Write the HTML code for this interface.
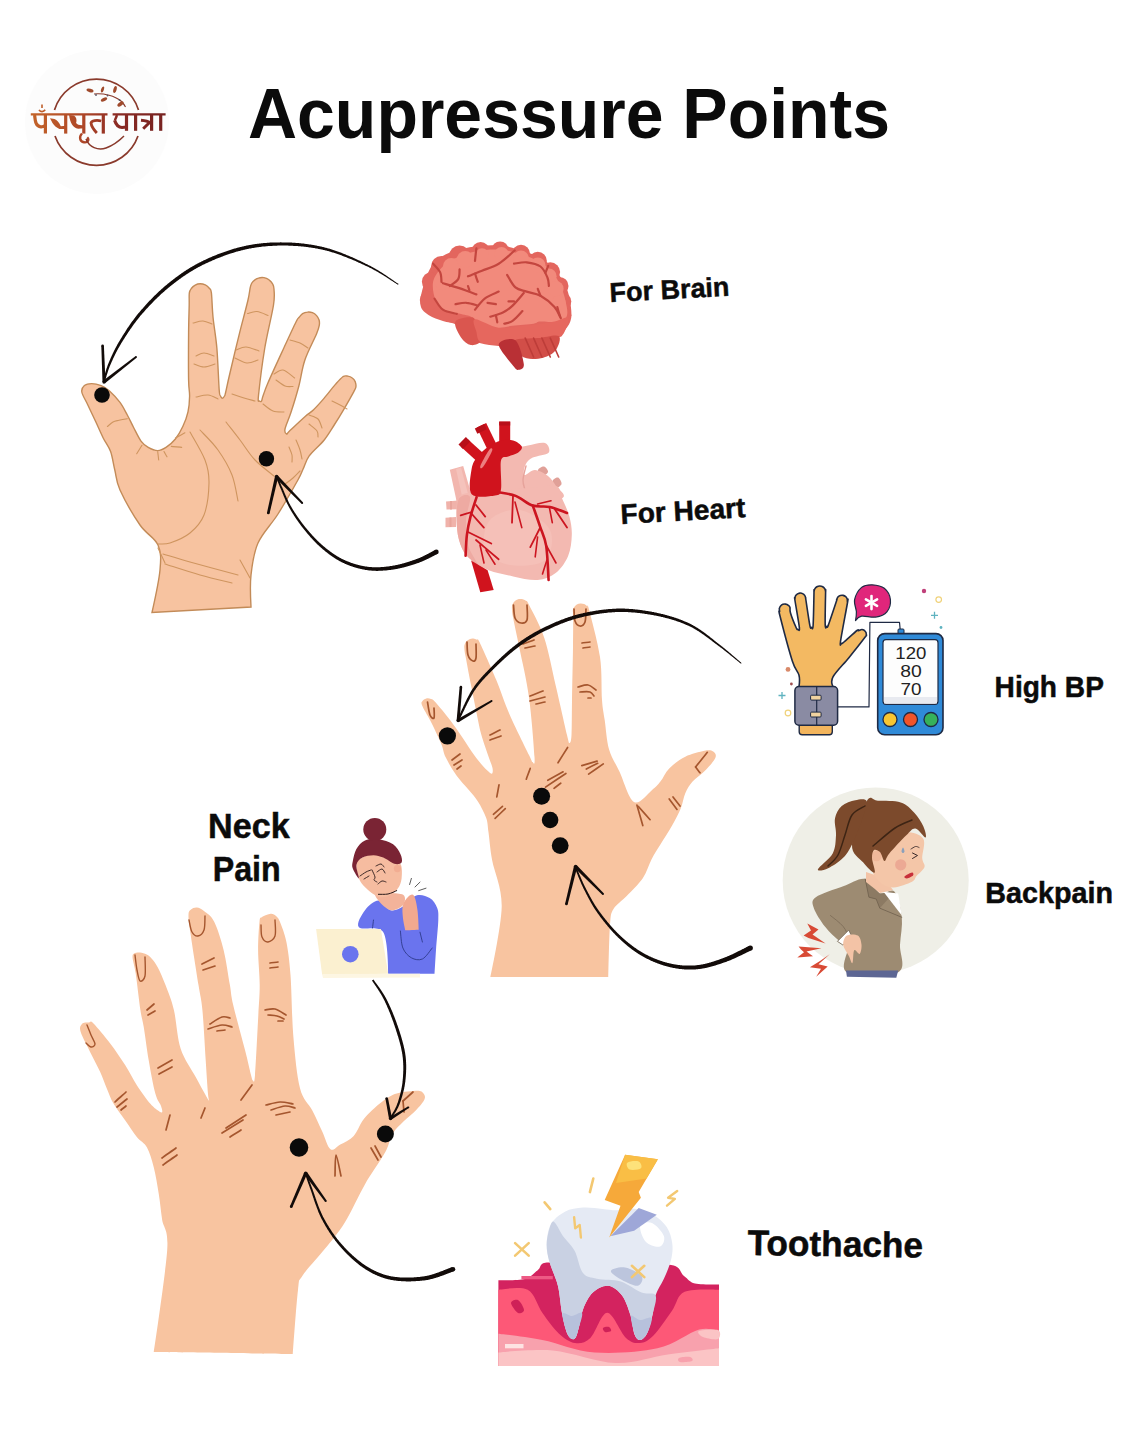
<!DOCTYPE html>
<html><head><meta charset="utf-8"><title>Acupressure Points</title>
<style>
html,body{margin:0;padding:0;background:#fff;}
body{width:1147px;height:1433px;overflow:hidden;font-family:"Liberation Sans",sans-serif;}
svg{display:block;}
</style></head><body>
<svg width="1147" height="1433" viewBox="0 0 1147 1433">
<circle cx="97" cy="122" r="72" fill="#fcfcfc"/><defs><linearGradient id="lg" gradientUnits="userSpaceOnUse" x1="30" x2="166" y1="0" y2="0"><stop offset="0" stop-color="#c4652a"/><stop offset="0.4" stop-color="#ad4527"/><stop offset="0.65" stop-color="#8a2a24"/><stop offset="1" stop-color="#762220"/></linearGradient></defs><path d="M54.5,110 A44,44 0 0 1 138.5,110" fill="none" stroke="#8a3a2c" stroke-width="1.7"/><path d="M55,136 A44,44 0 0 0 138,136" fill="none" stroke="#8a3a2c" stroke-width="1.7"/><g fill="none" stroke="url(#lg)" stroke-width="3.2" stroke-linecap="butt" stroke-linejoin="round"><path d="M30.8,114.4 H107.5 M112.6,114.4 H165.6" stroke-width="2.4"/><path d="M34.6,115 C35.2,121 35.6,126.5 40.8,126.8 C43,127 44.5,126 45.4,125 M45.4,115 V133.6"/><path d="M39,109.8 C40.5,112.2 43.6,112.2 45.2,109.8" stroke-width="1.6"/><path d="M42,104.6 V108" stroke-width="1.6"/><path d="M50,118.2 L54.5,118.9 C57,120 59,122 60.8,126.3 L65.7,125.8 V128.9 L59.4,128.9 C56.5,127.8 54,125.5 52.5,123 Z" fill="url(#lg)" stroke="none"/><path d="M65.7,115 V133.6"/><path d="M69.1,115.1 L74,115.4 C76.5,117 77,120 76.1,123.1 C77.5,125 80,125.5 83.8,125.2 V128.2 L78.2,128.7 C75.5,128.2 73.3,126.8 72,124.5 C70.5,122 69.5,119 69.1,115.1 Z" fill="url(#lg)" stroke="none"/><path d="M83.8,115 V133.6"/><path d="M82,133.5 C79,136.5 79.5,141.5 84,142.3 C88,143 89.5,139.5 87.2,137.3" stroke-width="2.4"/><path d="M101.2,121 C97,119.8 91.5,120.5 91,123 C91.5,127 94.5,130.5 96.8,133" stroke-width="2.8"/><path d="M103.3,115 V133.6"/><path d="M114.6,120.3 C116.2,125.5 118.5,127.5 122,127.5 L126.5,127" stroke-width="3.2"/><path d="M117,115 C116,118 115.5,119.5 114.6,120.3" stroke-width="2.4"/><path d="M126.5,115 V130.8"/><path d="M135.6,115 V130.8"/><path d="M141,120.3 C144,120.6 148,121.2 149.5,122.5 L143.2,128.7" stroke-width="3"/><path d="M151.6,115 V130.8"/><path d="M160.7,115 V130.8"/></g><path d="M86,139 C89,147 98,151 106,148 C113,145.5 119,141 124,136" fill="none" stroke="#8a3a2c" stroke-width="1.5"/><path d="M94,94 C104,93 115,96 121,101 C123,103 124.5,105 125.5,107" fill="none" stroke="#8a3a2c" stroke-width="1.1"/><ellipse cx="90" cy="90.5" rx="3.6" ry="1.7" transform="rotate(15 90 90.5)" fill="#a04a2c"/><ellipse cx="102.5" cy="89.5" rx="3.2" ry="1.4" transform="rotate(-70 102.5 89.5)" fill="#a04a2c"/><ellipse cx="104" cy="99.5" rx="3.4" ry="1.6" transform="rotate(-25 104 99.5)" fill="#a04a2c"/><ellipse cx="115" cy="89.5" rx="3.6" ry="1.6" transform="rotate(-75 115 89.5)" fill="#a04a2c"/><ellipse cx="120.5" cy="104" rx="3.6" ry="1.8" transform="rotate(-35 120.5 104)" fill="#a04a2c"/><circle cx="96" cy="95" r="0.9" fill="#556"/><circle cx="107.5" cy="95.5" r="0.9" fill="#556"/><circle cx="119.5" cy="100" r="0.9" fill="#556"/><g font-family="Liberation Sans, sans-serif" fill="#0b0b0b"><text x="248" y="138" font-size="71" font-weight="bold" textLength="642" lengthAdjust="spacingAndGlyphs">Acupressure Points</text><text x="610" y="302" font-size="27" font-weight="bold" textLength="120" lengthAdjust="spacingAndGlyphs" transform="rotate(-3 610 302)" stroke="#0b0b0b" stroke-width="0.5">For Brain</text><text x="621" y="524" font-size="28" font-weight="bold" textLength="125" lengthAdjust="spacingAndGlyphs" transform="rotate(-3.2 621 524)" stroke="#0b0b0b" stroke-width="0.5">For Heart</text><text x="994.6" y="696.6" font-size="30" font-weight="bold" textLength="109.3" lengthAdjust="spacingAndGlyphs" stroke="#0b0b0b" stroke-width="0.5">High BP</text><text x="985.3" y="903.2" font-size="29.4" font-weight="bold" textLength="127.7" lengthAdjust="spacingAndGlyphs" stroke="#0b0b0b" stroke-width="0.5">Backpain</text><text x="208" y="838" font-size="34.5" font-weight="bold" textLength="81.7" lengthAdjust="spacingAndGlyphs" stroke="#0b0b0b" stroke-width="0.5">Neck</text><text x="212.7" y="881" font-size="35" font-weight="bold" textLength="68" lengthAdjust="spacingAndGlyphs" stroke="#0b0b0b" stroke-width="0.5">Pain</text><text x="747.4" y="1255" font-size="35.5" font-weight="bold" textLength="175.6" lengthAdjust="spacingAndGlyphs" transform="rotate(0.8 747.4 1255)" stroke="#0b0b0b" stroke-width="0.5">Toothache</text></g><path d="M81.8,392 C81.3,388.8 82.8,386.9 84.4,385.5 C86.1,384.1 88.9,383.6 91.7,383.6 C94.5,383.6 98.2,384.5 101.2,385.7 C104.2,386.9 106.4,388.2 109.5,391 C112.6,393.8 117,398.4 120,402.4 C123,406.4 125,410.8 127.3,415 C129.6,419.2 131.3,423.1 133.6,427.5 C135.9,431.9 138.6,437.8 141,441.1 C143.4,444.4 145.4,445.8 148.2,447.4 C151,449 154.7,450.6 157.7,450.6 C160.7,450.6 163.1,449.3 166,447.4 C168.9,445.5 172.6,442.5 175.4,439 C178.2,435.5 180.7,431 182.8,426.5 C184.9,422 186.9,416.9 188,411.8 C189.1,406.8 189.5,401.5 189.6,396.2 C189.7,390.9 188.8,390.5 188.6,379.9 C188.4,369.3 188.5,345.3 188.6,332.8 C188.7,320.3 189.1,311.6 189.2,305 C189.3,298.4 189,296 189.3,293.2 C189.7,290.5 190.3,289.8 191.3,288.5 C192.3,287.1 193.7,285.9 195.2,285.1 C196.7,284.3 198.5,283.8 200.2,283.8 C201.9,283.8 203.7,284.2 205.3,284.9 C206.8,285.6 208.2,286.8 209.3,288.2 C210.3,289.5 210.8,288.1 211.4,292.9 C212,297.7 212.1,307.7 213,317 C213.9,326.3 215.9,336.3 216.9,348.5 C217.9,360.7 218.6,382.1 219.2,390 C219.8,397.9 220,394.6 220.5,396 C221,397.4 221.7,398.2 222.4,398.2 C223.1,398.2 224,396.9 224.5,396 C225,395.1 224.6,397 225.5,393 C226.4,389 227.8,382 230.2,372 C232.5,362 236.6,344.8 239.6,332.8 C242.6,320.8 246.2,307.9 248,300 C249.8,292.1 249.7,288.8 250.7,285.6 C251.6,282.4 252.3,282.2 253.6,280.9 C254.9,279.7 256.6,278.6 258.4,278.1 C260.1,277.5 262.1,277.4 263.9,277.6 C265.7,277.9 267.5,278.7 269,279.8 C270.5,280.8 271.8,282.3 272.6,283.9 C273.5,285.5 273.9,285.8 274,289.3 C274.1,292.8 275,295.1 273.5,305 C272,314.9 267.2,333.4 264.7,348.5 C262.2,363.6 259.4,386.8 258.5,395.5 C257.6,404.2 259,400.1 259.5,401 C260,401.9 260.9,401.8 261.5,401 C262.1,400.2 261.9,399 263,396 C264.1,393 264.5,390.9 267.9,383 C271.3,375.1 278.9,358.7 283.6,348.5 C288.3,338.3 293.4,327.2 296,322 C298.6,316.8 298,318.7 299.1,317.3 C300.2,316 301.2,314.6 302.6,313.7 C304,312.8 305.8,312.2 307.4,312.1 C309.1,311.9 310.9,312.1 312.4,312.7 C314,313.3 315.5,314.4 316.6,315.6 C317.7,316.8 318.6,318.4 319.1,320 C319.5,321.6 319.7,322.8 319.3,325.1 C318.9,327.4 318.9,328.2 316.5,334 C314.1,339.8 307.8,351.3 304.9,360 C301.9,368.7 301.1,377.5 298.8,386.2 C296.5,394.9 293.3,405.2 291,412.3 C288.7,419.4 285.7,425.4 285,429 C284.3,432.6 285.9,433.8 286.6,434.1 C287.4,434.4 286.4,433.9 289.5,431 C292.6,428.1 300.9,420.2 304.9,416.7 C308.9,413.1 310.4,412.8 313.6,409.7 C316.8,406.6 320.4,402.6 324,398.4 C327.6,394.2 332.2,388 335.4,384.4 C338.6,380.8 340.9,378.1 342.9,376.7 C345,375.3 346.3,375.9 347.8,376.1 C349.4,376.3 351.1,377 352.3,378 C353.6,379 354.7,380.5 355.3,381.9 C355.9,383.4 356.1,385.3 355.9,386.8 C355.7,388.4 356,387.7 354,391.3 C352,395 347.3,403.3 344.1,408.8 C340.9,414.3 337.9,419.3 334.5,424.5 C331.1,429.7 328.2,435 324,440.2 C319.8,445.4 312.7,451.1 309.2,455.9 C305.7,460.7 305,465 303.1,469 C301.2,473 302.1,472.5 297.9,480 C293.7,487.5 284.6,503.5 278,514 C271.4,524.5 262.5,532.8 258,543 C253.5,553.2 252.2,564.3 251,575 C249.8,585.7 251,607 251,607 C251,607 152,612.5 152,612.5 C152,612.5 159,581.2 160,570 C161,558.8 161.3,552.5 158,545 C154.7,537.5 146.3,534.2 140,525 C133.7,515.8 124.2,499.2 120,490 C115.8,480.8 116.4,476.4 114.8,470 C113.2,463.6 112.5,456.9 110.6,451.6 C108.7,446.3 105.6,442.9 103.2,438 C100.8,433.1 98.6,427.9 96,422.3 C93.4,416.7 90,409.6 87.6,404.5 C85.2,399.4 82.3,395.2 81.8,392Z" fill="#f7c3a0" stroke="#c38b58" stroke-width="1.4"/><path d="M190,432 C192.5,436.7 201.8,451.5 205,460 C208.2,468.5 209.2,473.8 209,483 C208.8,492.2 207.2,506.7 204,515 C200.8,523.3 195.7,528.3 190,533 C184.3,537.7 175.3,541.2 170,543 C164.7,544.8 160,543.8 158,544" fill="none" stroke="#cf955f" stroke-width="1.1" stroke-linecap="round"/><path d="M200,430 C203,433.3 212.7,442.5 218,450 C223.3,457.5 228.7,466.5 232,475 C235.3,483.5 237,496.7 238,501" fill="none" stroke="#cf955f" stroke-width="1.1" stroke-linecap="round"/><path d="M226,422 C228.3,425 235.2,433.7 240,440 C244.8,446.3 249.3,454 255,460 C260.7,466 270.8,473.3 274,476" fill="none" stroke="#cf955f" stroke-width="1.1" stroke-linecap="round"/><path d="M163,554 C167.5,555.3 177.5,558.5 190,562 C202.5,565.5 230,572.8 238,575" fill="none" stroke="#cf955f" stroke-width="1.1" stroke-linecap="round"/><path d="M165,564 C170.8,565.8 188.8,571.8 200,575 C211.2,578.2 226.7,581.7 232,583" fill="none" stroke="#cf955f" stroke-width="1.1" stroke-linecap="round"/><path d="M107.4,426.5 C108.3,425.8 111.1,423.1 113,422 C114.9,420.9 116.6,420.8 119,420.2 C121.4,419.6 125.9,418.9 127.3,418.7" fill="none" stroke="#cf955f" stroke-width="1.1" stroke-linecap="round"/><path d="M193,323 C194.7,322.7 199.8,320.8 203,321 C206.2,321.2 210.5,323.5 212,324" fill="none" stroke="#cf955f" stroke-width="1.1" stroke-linecap="round"/><path d="M196,356 C197.3,355.5 201,353 204,353 C207,353 212.3,355.5 214,356" fill="none" stroke="#cf955f" stroke-width="1.1" stroke-linecap="round"/><path d="M194,364 C195.7,364.5 200.5,367 204,367 C207.5,367 213.2,364.5 215,364" fill="none" stroke="#cf955f" stroke-width="1.1" stroke-linecap="round"/><path d="M196,397 C198,396.7 204.3,394.7 208,395 C211.7,395.3 216.3,398.3 218,399" fill="none" stroke="#cf955f" stroke-width="1.1" stroke-linecap="round"/><path d="M247.5,313.5 C249.1,313.2 253.6,311.2 257,311.5 C260.4,311.8 266.2,314.8 268,315.5" fill="none" stroke="#cf955f" stroke-width="1.1" stroke-linecap="round"/><path d="M236,350 C237.7,349.5 242.2,346.8 246,347 C249.8,347.2 256.8,350.3 259,351" fill="none" stroke="#cf955f" stroke-width="1.1" stroke-linecap="round"/><path d="M235,358 C237,358.8 243.2,362.7 247,363 C250.8,363.3 256.2,360.5 258,360" fill="none" stroke="#cf955f" stroke-width="1.1" stroke-linecap="round"/><path d="M232,394 C234,394.7 240.2,396.8 244,398 C247.8,399.2 253.2,400.5 255,401" fill="none" stroke="#cf955f" stroke-width="1.1" stroke-linecap="round"/><path d="M290,340 C291.7,340.5 297,341.7 300,343 C303,344.3 306.7,347.2 308,348" fill="none" stroke="#cf955f" stroke-width="1.1" stroke-linecap="round"/><path d="M274,374 C275.5,373.3 279.6,369.3 283,370 C286.4,370.7 292.7,376.7 294.6,378" fill="none" stroke="#cf955f" stroke-width="1.1" stroke-linecap="round"/><path d="M276,380 C277.5,381 282.2,384.9 285,386 C287.8,387.1 291.7,386.4 293,386.5" fill="none" stroke="#cf955f" stroke-width="1.1" stroke-linecap="round"/><path d="M263,404 C264.7,405.2 269.5,409.7 273,411 C276.5,412.3 282.2,411.8 284,412" fill="none" stroke="#cf955f" stroke-width="1.1" stroke-linecap="round"/><path d="M332,401 C333.7,401.8 339.5,404.7 342,406 C344.5,407.3 346.2,408.5 347,409" fill="none" stroke="#cf955f" stroke-width="1.1" stroke-linecap="round"/><path d="M309,415 C310.5,415.7 315.8,416.8 318,419 C320.2,421.2 321.3,426.5 322,428" fill="none" stroke="#cf955f" stroke-width="1.1" stroke-linecap="round"/><path d="M309,424 C310.3,425.2 315.5,428.8 317,431 C318.5,433.2 317.8,436 318,437" fill="none" stroke="#cf955f" stroke-width="1.1" stroke-linecap="round"/><path d="M296,440 C296.7,441.7 299,446.8 300,450 C301,453.2 301.7,457.5 302,459" fill="none" stroke="#cf955f" stroke-width="1.1" stroke-linecap="round"/><path d="M289,447 C289.5,448.3 291.5,452.5 292,455 C292.5,457.5 292,460.8 292,462" fill="none" stroke="#cf955f" stroke-width="1.1" stroke-linecap="round"/><path d="M136.7,453.7 C137.6,452.3 141.1,446.7 142,445.3" fill="none" stroke="#cf955f" stroke-width="1.1" stroke-linecap="round"/><path d="M164,451.6 C164.5,452.5 166.5,455.9 167,456.8" fill="none" stroke="#cf955f" stroke-width="1.1" stroke-linecap="round"/><path d="M171.3,446.4 C173,446.6 180,447.2 181.7,447.4" fill="none" stroke="#cf955f" stroke-width="1.1" stroke-linecap="round"/><path d="M175.4,438 C177,437.1 183.3,433.7 184.9,432.8" fill="none" stroke="#cf955f" stroke-width="1.1" stroke-linecap="round"/><path d="M157.7,451.6 C157.9,453 158.5,458.6 158.7,460" fill="none" stroke="#cf955f" stroke-width="1.1" stroke-linecap="round"/><path d="M165,563 C163.8,560.5 159.2,550.5 158,548" fill="none" stroke="#cf955f" stroke-width="1.1" stroke-linecap="round"/><path d="M240,560 C241.7,563 248.3,575 250,578" fill="none" stroke="#cf955f" stroke-width="1.1" stroke-linecap="round"/><path d="M285,484 C286.3,483 290.5,480.2 293,478 C295.5,475.8 298.8,472.2 300,471" fill="none" stroke="#cf955f" stroke-width="1.1" stroke-linecap="round"/><path d="M422.1,705.4 C420.8,702.1 421.7,702.2 422.5,701 C423.3,699.8 425.5,698.6 426.9,698.3 C428.3,698 429.8,698.6 431,699 C432.2,699.4 432.1,698.8 434,700.7 C435.9,702.6 439.5,706.9 442.3,710.2 C445.1,713.6 447.2,716.3 450.6,720.8 C454,725.3 458.4,731.7 462.4,737.4 C466.3,743.1 470.7,750.2 474.3,755.2 C477.9,760.2 481.4,764.3 483.8,767.1 C486.2,769.9 487.6,770.9 489,772 C490.4,773.1 491.5,774.2 492.1,773.5 C492.7,772.8 493.1,770.9 492.5,768 C491.9,765.1 490.4,761.9 488.5,756.4 C486.6,750.9 483.4,742.1 481.4,735 C479.4,727.9 478.4,722 476.7,713.7 C475,705.4 472.9,694.6 471,685 C469.1,675.4 466.6,662 465.5,656 C464.4,650 464.6,650.6 464.4,648.7 C464.2,646.9 464.2,646.1 464.5,644.9 C464.8,643.7 465.5,642.4 466.3,641.5 C467.1,640.5 468.3,639.7 469.5,639.2 C470.6,638.7 472,638.5 473.3,638.6 C474.5,638.7 475.9,639.2 477,639.8 C478,640.5 476.5,635.9 479.7,642.5 C482.9,649.2 491.3,668 496.3,680 C501.3,692 504.2,702.2 509.7,714.7 C515.1,727.2 525.2,747.1 529,755 C532.8,762.9 531.6,761.7 532.5,762 C533.4,762.3 535.1,767.8 534.5,757 C533.9,746.2 531.5,715.6 529,697.4 C526.5,679.1 522,660.9 519.3,647.5 C516.6,634.1 514.2,623.6 513,617 C511.8,610.4 512,610.1 511.9,607.9 C511.9,605.7 512.2,605.2 512.7,604 C513.2,602.8 514.1,601.6 515.2,600.8 C516.2,600 517.5,599.4 518.8,599.1 C520.1,598.8 521.5,598.9 522.8,599.2 C524.1,599.5 525.4,600.2 526.3,601.1 C527.3,601.9 525.7,598.2 528.7,604.3 C531.7,610.5 539.8,624.4 544.3,638 C548.8,651.6 552,669.8 555.8,686 C559.6,702.2 564.7,725.5 567,735 C569.3,744.5 568.8,743 569.5,743 C570.2,743 571.1,742.2 571.5,735 C571.9,727.8 571.8,714.6 572,700 C572.2,685.4 572.8,661.3 573,647.5 C573.2,633.7 573.2,623.1 573.2,617 C573.2,610.9 572.7,612.4 572.8,610.7 C573,609.1 573.4,608.2 574.1,607.2 C574.8,606.1 575.8,605.2 576.8,604.5 C577.9,603.9 579.2,603.5 580.4,603.4 C581.7,603.3 583,603.6 584.2,604 C585.3,604.5 586.4,605.3 587.2,606.3 C588,607.2 586.8,601.2 589,609.6 C591.1,618.1 597.8,641.9 600,657 C602.2,672.1 601.2,689.5 602,700 C602.8,710.5 603.5,711.8 604.7,720 C605.9,728.2 606.6,740.8 609,749.3 C611.4,757.8 615.1,762.5 619.3,771.3 C623.5,780.1 628.6,798.8 634,802 C639.4,805.2 647.2,793.8 651.6,790.4 C656,787 657.5,785.3 660.4,781.6 C663.3,777.9 665.1,772.5 669.2,768.4 C673.4,764.2 679.4,759.6 685.3,756.7 C691.2,753.8 699.8,751.7 704.4,750.8 C709,749.9 711.4,750.3 713.2,751.5 C715,752.7 716.8,754.8 715.3,758.1 C713.8,761.4 708.2,767.4 704.4,771.3 C700.6,775.2 695.8,777.9 692.6,781.6 C689.4,785.3 687.2,788.9 685.3,793.3 C683.3,797.7 683.1,802.6 680.9,808 C678.7,813.4 675.5,819.5 672.1,825.6 C668.7,831.7 663.8,839 660.4,844.6 C657,850.2 654.5,853.7 651.6,859.3 C648.7,864.9 646.9,872.2 642.8,878.3 C638.6,884.4 631.6,890.9 626.7,896 C621.8,901.1 616.3,904.3 613.5,909.1 C610.7,913.9 610.9,913.7 610,925 C609.1,936.3 608.3,977 608.3,977 C608.3,977 490.4,977 490.4,977 C490.4,977 501.4,926.3 501.7,906.8 C502,887.3 494.3,872.4 492.1,860 C489.9,847.6 489.5,839.3 488.5,832.3 C487.5,825.3 488,823.2 486.2,818.1 C484.4,813 480.9,806.2 477.9,801.5 C474.9,796.8 472,794 468.4,789.6 C464.8,785.2 460.3,780.7 456.5,775.4 C452.7,770.1 448.4,762.9 445.8,757.6 C443.2,752.3 443.7,749.5 441.1,743.4 C438.5,737.3 433.6,727.1 430.4,720.8 C427.2,714.5 423.4,708.7 422.1,705.4Z" fill="#f8c4a0"/><path d="M427.5,702 C427.9,704.2 428.9,712.3 430,715 C431.1,717.7 433.3,719.2 434,718 C434.7,716.8 434,709.7 434,708" fill="none" stroke="#a5562e" stroke-width="1.7" stroke-linecap="round"/><path d="M467,642 C467.2,644.2 467,651.8 468,655 C469,658.2 471.7,660.5 473,661 C474.3,661.5 475.5,660.8 476,658 C476.5,655.2 476,646.3 476,644" fill="none" stroke="#a5562e" stroke-width="1.7" stroke-linecap="round"/><path d="M513.5,605 C513.8,607.2 513.8,615 515,618 C516.2,621 519,622.7 521,623 C523,623.3 526,623 527,620 C528,617 527,607.5 527,605" fill="none" stroke="#a5562e" stroke-width="1.7" stroke-linecap="round"/><path d="M574,609 C574.2,611 574,618.2 575,621 C576,623.8 578.3,625.8 580,626 C581.7,626.2 584,624.8 585,622 C586,619.2 585.8,611.2 586,609" fill="none" stroke="#a5562e" stroke-width="1.7" stroke-linecap="round"/><path d="M523,644 C524.8,643.3 532.2,640.7 534,640" fill="none" stroke="#a5562e" stroke-width="1.7" stroke-linecap="round"/><path d="M525,648 C526.7,647.7 533.3,646.3 535,646" fill="none" stroke="#a5562e" stroke-width="1.7" stroke-linecap="round"/><path d="M582,643 C583.3,642.8 588.7,642.2 590,642" fill="none" stroke="#a5562e" stroke-width="1.7" stroke-linecap="round"/><path d="M583,648 C584.2,647.8 588.8,647.2 590,647" fill="none" stroke="#a5562e" stroke-width="1.7" stroke-linecap="round"/><path d="M578,687 C579.7,686.7 585,684.5 588,685 C591,685.5 594.7,689.2 596,690" fill="none" stroke="#a5562e" stroke-width="1.7" stroke-linecap="round"/><path d="M580,692 C581.7,692 587.7,691.3 590,692 C592.3,692.7 593.3,695.3 594,696" fill="none" stroke="#a5562e" stroke-width="1.7" stroke-linecap="round"/><path d="M588,698 C588.5,698 590.5,698 591,698" fill="none" stroke="#a5562e" stroke-width="1.7" stroke-linecap="round"/><path d="M530,696 C532.2,695.2 540.8,691.8 543,691" fill="none" stroke="#a5562e" stroke-width="1.7" stroke-linecap="round"/><path d="M530,701 C532.5,700.3 542.5,697.7 545,697" fill="none" stroke="#a5562e" stroke-width="1.7" stroke-linecap="round"/><path d="M536,704 C537.5,703.7 543.5,702.3 545,702" fill="none" stroke="#a5562e" stroke-width="1.7" stroke-linecap="round"/><path d="M490,735 C491.7,734.2 498.3,730.8 500,730" fill="none" stroke="#a5562e" stroke-width="1.7" stroke-linecap="round"/><path d="M490,740 C491.8,739.3 499.2,736.7 501,736" fill="none" stroke="#a5562e" stroke-width="1.7" stroke-linecap="round"/><path d="M452,760 C453.3,759 458.7,755 460,754" fill="none" stroke="#a5562e" stroke-width="1.7" stroke-linecap="round"/><path d="M454,765 C455.3,764.2 460.7,760.8 462,760" fill="none" stroke="#a5562e" stroke-width="1.7" stroke-linecap="round"/><path d="M457,769 C457.7,768.5 460.3,766.5 461,766" fill="none" stroke="#a5562e" stroke-width="1.7" stroke-linecap="round"/><path d="M558,762.8 C559.6,760.2 566,750 567.6,747.5" fill="none" stroke="#a5562e" stroke-width="1.7" stroke-linecap="round"/><path d="M581.8,765.6 C584.3,764.9 594.5,761.9 597.1,761.1" fill="none" stroke="#a5562e" stroke-width="1.7" stroke-linecap="round"/><path d="M586.3,769 C588.2,768 595.8,764.2 597.7,763.3" fill="none" stroke="#a5562e" stroke-width="1.7" stroke-linecap="round"/><path d="M588.6,774.1 C591,772.4 600.8,765.6 603.3,763.9" fill="none" stroke="#a5562e" stroke-width="1.7" stroke-linecap="round"/><path d="M547.8,780.3 C550.3,778.9 560.5,773.2 563.1,771.8" fill="none" stroke="#a5562e" stroke-width="1.7" stroke-linecap="round"/><path d="M545.5,787.1 C548.9,784.8 562.5,775.8 565.9,773.5" fill="none" stroke="#a5562e" stroke-width="1.7" stroke-linecap="round"/><path d="M554,788.3 C555.1,787.4 559.7,784.1 560.8,783.2" fill="none" stroke="#a5562e" stroke-width="1.7" stroke-linecap="round"/><path d="M526.3,779.2 C526.9,777.4 529.6,770.2 530.2,768.4" fill="none" stroke="#a5562e" stroke-width="1.7" stroke-linecap="round"/><path d="M496.8,796.8 C497.2,794.8 498.6,786.9 499,784.9" fill="none" stroke="#a5562e" stroke-width="1.7" stroke-linecap="round"/><path d="M493.4,814.3 C494.9,813 501,807.7 502.5,806.4" fill="none" stroke="#a5562e" stroke-width="1.7" stroke-linecap="round"/><path d="M495.1,818.3 C496.8,816.7 503.6,810.3 505.3,808.7" fill="none" stroke="#a5562e" stroke-width="1.7" stroke-linecap="round"/><path d="M636.9,805 C637.9,808.4 641.8,822.2 642.8,825.6" fill="none" stroke="#a5562e" stroke-width="1.7" stroke-linecap="round"/><path d="M638.4,806.5 C640.4,808.7 648.1,817.5 650.1,819.7" fill="none" stroke="#a5562e" stroke-width="1.7" stroke-linecap="round"/><path d="M669.2,799 C670.5,800.7 675.7,807.7 677,809.4" fill="none" stroke="#a5562e" stroke-width="1.7" stroke-linecap="round"/><path d="M673,797 C674.2,798.5 678.8,804.5 680,806" fill="none" stroke="#a5562e" stroke-width="1.7" stroke-linecap="round"/><path d="M707.3,752.3 C705.3,754.8 697.5,764.5 695.6,767" fill="none" stroke="#a5562e" stroke-width="1.7" stroke-linecap="round"/><path d="M695.6,767 C696.3,768 699.3,771.8 700,772.8" fill="none" stroke="#a5562e" stroke-width="1.7" stroke-linecap="round"/><path d="M80,1028.4 C79.9,1026.3 81.2,1025 82,1024 C82.8,1023 83.9,1022.9 85.1,1022.6 C86.3,1022.4 87.6,1022.4 89,1022.5 C90.4,1022.6 90,1019.9 93.5,1023.4 C97,1026.9 104.9,1036.5 110.2,1043.5 C115.5,1050.5 120.8,1058.3 125.3,1065.3 C129.8,1072.3 132.8,1079 137,1085.4 C141.2,1091.8 146.9,1099.6 150.4,1103.8 C153.9,1108 156.1,1109.1 158,1110.5 C159.9,1111.9 161.6,1113 162.1,1112.2 C162.6,1111.5 162.1,1109.1 161,1106 C159.9,1102.9 157.5,1101.4 155.4,1093.8 C153.3,1086.2 150.6,1071.5 148.7,1060.3 C146.8,1049.1 145.1,1035.2 143.7,1026.8 C142.3,1018.4 141.7,1018.9 140.4,1010 C139.1,1001.1 137,982.2 135.7,973.5 C134.4,964.8 132.9,961.3 132.6,958 C132.3,954.7 132.9,954.4 134.1,953.5 C135.3,952.6 137.9,952.3 140,952.5 C142.1,952.7 144.7,953.5 146.7,954.6 C148.7,955.7 150.2,956.9 152,959 C153.8,961.1 155.4,962.9 157.7,967.2 C159.9,971.5 162.8,977.9 165.5,985 C168.2,992.1 171.4,999.4 173.9,1010 C176.4,1020.6 177,1037.3 180.6,1048.5 C184.2,1059.7 191.6,1069.4 195.7,1077 C199.8,1084.6 202.8,1090.1 205,1094 C207.2,1097.9 208.5,1100.5 209,1100.5 C209.5,1100.5 208.6,1100.7 208,1094 C207.4,1087.3 206.6,1074.3 205.7,1060.3 C204.8,1046.3 203.6,1022.5 202.4,1010 C201.2,997.5 200.5,997.6 198.5,985 C196.5,972.4 192.3,945.9 190.6,934.2 C188.9,922.5 188.4,919.1 188.5,915 C188.6,910.9 189.6,910.7 191,909.5 C192.4,908.3 194.7,907.4 196.9,907.6 C199.1,907.9 201.1,908.6 204,911 C206.9,913.4 210.9,915.2 214.2,921.7 C217.5,928.2 221,939.5 223.6,950 C226.2,960.5 228.3,975.8 229.9,985 C231.5,994.2 230.7,994.2 233.2,1005 C235.7,1015.8 242,1038.3 245,1050 C248,1061.7 249.7,1069.9 251,1075 C252.3,1080.1 252.3,1080.4 253,1080.4 C253.7,1080.4 254.1,1085.8 255,1075 C255.9,1064.2 257.5,1030.5 258.3,1015.5 C259.1,1000.5 259.7,995.9 259.7,985 C259.7,974.1 258.1,960.5 258.1,950 C258.1,939.5 258.9,927.5 259.5,922 C260.1,916.5 260.1,918.4 262,917 C263.9,915.6 268.4,914 270.7,913.8 C273,913.6 274.4,914.6 276,916 C277.6,917.4 278.3,917.7 280,922 C281.7,926.3 284.6,933.2 286.4,942 C288.1,950.8 289.3,959.2 290.5,975 C291.7,990.8 291.8,1018.1 293.4,1037 C295,1055.9 296.9,1076.1 300,1088.3 C303.1,1100.5 308.5,1103.2 312.2,1110.3 C315.9,1117.4 318.9,1124.5 322,1131 C325.1,1137.5 327.4,1147 330.5,1149.3 C333.6,1151.5 336.4,1146.7 340.3,1144.5 C344.2,1142.3 350.1,1139.8 353.7,1135.9 C357.3,1132 359.3,1125.4 362.2,1121.3 C365.1,1117.2 366.9,1115.2 370.8,1111.5 C374.7,1107.8 380.9,1102.3 385.4,1099.3 C389.9,1096.2 392.3,1094.6 397.6,1093.2 C402.9,1091.8 412.9,1090.7 417.2,1090.7 C421.5,1090.7 422.1,1091.8 423.3,1093.2 C424.5,1094.6 425.7,1096.5 424.5,1099.3 C423.3,1102.1 419.5,1106.6 416,1110.3 C412.5,1114 407.6,1117.4 403.7,1121.3 C399.8,1125.2 395.6,1128.8 392.8,1133.5 C390,1138.2 388.8,1144.9 386.7,1149.3 C384.6,1153.7 384.1,1154.2 380.5,1160 C376.9,1165.8 370.8,1174 364.9,1184.4 C358.9,1194.8 351.5,1211.6 344.8,1222.4 C338.1,1233.2 331.8,1240.2 324.7,1249.1 C317.6,1258 306.8,1269.1 302.3,1275.9 C297.9,1282.7 299.6,1277 298,1290 C296.4,1303 292.8,1354 292.8,1354 C292.8,1354 153.8,1352 153.8,1352 C153.8,1352 165.8,1272.1 167.2,1250 C168.6,1227.9 163.5,1228.7 162.1,1219.4 C160.7,1210.1 160.2,1203 158.8,1194.3 C157.4,1185.6 155.8,1175.3 153.8,1167.5 C151.8,1159.7 149.8,1152.4 147,1147.4 C144.2,1142.4 140.6,1141.8 137,1137.3 C133.4,1132.8 129.2,1126.2 125.3,1120.6 C121.4,1115 116.7,1109.1 113.6,1103.8 C110.5,1098.5 109.1,1094 106.9,1088.7 C104.7,1083.4 103,1078.1 100.2,1072 C97.4,1065.9 93,1057.8 90.1,1051.9 C87.2,1046 84.3,1040.7 82.6,1036.8 C80.9,1032.9 80.1,1030.5 80,1028.4Z" fill="#f8c4a0"/><path d="M87,1025 C87.7,1026.7 89.7,1031.8 91,1035 C92.3,1038.2 95,1042 95,1044 C95,1046 92.5,1047.2 91,1047 C89.5,1046.8 86.8,1043.7 86,1043" fill="none" stroke="#a5562e" stroke-width="1.4" stroke-linecap="round"/><path d="M135,955 C135.3,957.5 136.2,965.7 137,970 C137.8,974.3 138.7,980 140,981 C141.3,982 144.2,980 145,976 C145.8,972 145,960.2 145,957" fill="none" stroke="#a5562e" stroke-width="1.4" stroke-linecap="round"/><path d="M189,920 C189.5,922 190.5,929.3 192,932 C193.5,934.7 196,936.3 198,936 C200,935.7 202.8,933.3 204,930 C205.2,926.7 204.8,918.3 205,916" fill="none" stroke="#a5562e" stroke-width="1.4" stroke-linecap="round"/><path d="M261,925 C261.2,927 260.8,934.2 262,937 C263.2,939.8 265.8,942.2 268,942 C270.2,941.8 273.8,939.7 275,936 C276.2,932.3 275,922.7 275,920" fill="none" stroke="#a5562e" stroke-width="1.4" stroke-linecap="round"/><path d="M202,964 C204,963 212,959 214,958" fill="none" stroke="#a5562e" stroke-width="1.7" stroke-linecap="round"/><path d="M203,970 C205,969.3 213,966.7 215,966" fill="none" stroke="#a5562e" stroke-width="1.7" stroke-linecap="round"/><path d="M270,963 C271.3,962.8 276.7,962.2 278,962" fill="none" stroke="#a5562e" stroke-width="1.7" stroke-linecap="round"/><path d="M270,968 C271.3,967.8 276.7,967.2 278,967" fill="none" stroke="#a5562e" stroke-width="1.7" stroke-linecap="round"/><path d="M265,1010 C266.7,1009.8 271.5,1008.2 275,1009 C278.5,1009.8 284.2,1014 286,1015" fill="none" stroke="#a5562e" stroke-width="1.7" stroke-linecap="round"/><path d="M268,1015 C269.5,1015.2 274.3,1015.3 277,1016 C279.7,1016.7 282.8,1018.5 284,1019" fill="none" stroke="#a5562e" stroke-width="1.7" stroke-linecap="round"/><path d="M278,1021 C278.8,1021 282.2,1021 283,1021" fill="none" stroke="#a5562e" stroke-width="1.7" stroke-linecap="round"/><path d="M210,1024 C212,1022.8 218.7,1018 222,1017 C225.3,1016 228.7,1017.8 230,1018" fill="none" stroke="#a5562e" stroke-width="1.7" stroke-linecap="round"/><path d="M208,1029 C210.3,1028.3 218,1025.3 222,1025 C226,1024.7 230.3,1026.7 232,1027" fill="none" stroke="#a5562e" stroke-width="1.7" stroke-linecap="round"/><path d="M217,1031 C218.3,1030.8 223.7,1030.2 225,1030" fill="none" stroke="#a5562e" stroke-width="1.7" stroke-linecap="round"/><path d="M147,1010 C148.2,1009 152.8,1005 154,1004" fill="none" stroke="#a5562e" stroke-width="1.7" stroke-linecap="round"/><path d="M148,1015 C149.2,1014.3 153.8,1011.7 155,1011" fill="none" stroke="#a5562e" stroke-width="1.7" stroke-linecap="round"/><path d="M158,1068 C160.3,1066.7 169.7,1061.3 172,1060" fill="none" stroke="#a5562e" stroke-width="1.7" stroke-linecap="round"/><path d="M159,1074 C161.2,1072.8 169.8,1068.2 172,1067" fill="none" stroke="#a5562e" stroke-width="1.7" stroke-linecap="round"/><path d="M115,1102 C116.8,1100.3 124.2,1093.7 126,1092" fill="none" stroke="#a5562e" stroke-width="1.7" stroke-linecap="round"/><path d="M117,1107 C118.7,1105.7 125.3,1100.3 127,1099" fill="none" stroke="#a5562e" stroke-width="1.7" stroke-linecap="round"/><path d="M121,1110 C121.8,1109.3 125.2,1106.7 126,1106" fill="none" stroke="#a5562e" stroke-width="1.7" stroke-linecap="round"/><path d="M241,1100 C242.8,1097.5 250.2,1087.5 252,1085" fill="none" stroke="#a5562e" stroke-width="1.7" stroke-linecap="round"/><path d="M266,1105 C268.3,1104.5 275.5,1102.2 280,1102 C284.5,1101.8 290.8,1103.7 293,1104" fill="none" stroke="#a5562e" stroke-width="1.7" stroke-linecap="round"/><path d="M271,1110 C273.3,1109.3 281,1106.3 285,1106 C289,1105.7 293.3,1107.7 295,1108" fill="none" stroke="#a5562e" stroke-width="1.7" stroke-linecap="round"/><path d="M276,1115 C278.3,1114.5 287.7,1112.5 290,1112" fill="none" stroke="#a5562e" stroke-width="1.7" stroke-linecap="round"/><path d="M201,1118 C201.7,1116.3 204.3,1109.7 205,1108" fill="none" stroke="#a5562e" stroke-width="1.7" stroke-linecap="round"/><path d="M226,1128 C229.3,1125.8 242.7,1117.2 246,1115" fill="none" stroke="#a5562e" stroke-width="1.7" stroke-linecap="round"/><path d="M222,1133 C225.5,1130.8 239.5,1122.2 243,1120" fill="none" stroke="#a5562e" stroke-width="1.7" stroke-linecap="round"/><path d="M230,1137 C231.8,1135.8 239.2,1131.2 241,1130" fill="none" stroke="#a5562e" stroke-width="1.7" stroke-linecap="round"/><path d="M166,1130 C166.7,1127.5 169.3,1117.5 170,1115" fill="none" stroke="#a5562e" stroke-width="1.7" stroke-linecap="round"/><path d="M162,1158 C164.3,1156.3 173.7,1149.7 176,1148" fill="none" stroke="#a5562e" stroke-width="1.7" stroke-linecap="round"/><path d="M163,1165 C165.3,1163.3 174.7,1156.7 177,1155" fill="none" stroke="#a5562e" stroke-width="1.7" stroke-linecap="round"/><path d="M335,1176 C335.2,1172.5 335,1155 336,1155 C337,1155 340.2,1172.5 341,1176" fill="none" stroke="#a5562e" stroke-width="1.7" stroke-linecap="round"/><path d="M375,1146 C376,1147.8 380,1155.2 381,1157" fill="none" stroke="#a5562e" stroke-width="1.7" stroke-linecap="round"/><path d="M371,1148 C372.2,1150 376.8,1158 378,1160" fill="none" stroke="#a5562e" stroke-width="1.7" stroke-linecap="round"/><path d="M403,1101 C404.7,1099.5 411.3,1093.5 413,1092" fill="none" stroke="#a5562e" stroke-width="1.7" stroke-linecap="round"/><path d="M403,1101 C403.2,1102.8 403.8,1110.2 404,1112" fill="none" stroke="#a5562e" stroke-width="1.7" stroke-linecap="round"/><path d="M420.6,305.6 C419.6,300.7 421.3,293 423.4,286 C425.5,279.1 428.7,269.3 433.1,263.7 C437.6,258.1 442.7,255.5 449.9,252.6 C457.1,249.6 467.8,247.4 476.4,246.3 C485,245.1 493.6,244.8 501.5,245.6 C509.4,246.4 517.3,249.1 523.8,251.2 C530.3,253.3 535.4,255.1 540.5,258.1 C545.7,261.2 550.4,264.9 554.5,269.3 C558.6,273.7 562.4,279.5 565,284.6 C567.5,289.8 568.8,294.4 569.8,300 C570.9,305.6 571.9,313.2 571.2,318.1 C570.5,323 568.2,326 565.6,329.3 C563.1,332.5 558,334.2 555.9,337.6 C553.8,341.1 555.7,346.9 553.1,350.2 C550.5,353.5 545,356 540.5,357.2 C536.1,358.3 530.3,358.8 526.6,357.2 C522.9,355.5 522.9,349.3 518.2,347.4 C513.6,345.5 505,346.7 498.7,346 C492.4,345.3 486.1,344.6 480.6,343.2 C475,341.8 469.2,340.7 465.2,337.6 C461.3,334.6 460.6,327.9 456.8,325.1 C453.1,322.3 447.5,322.5 442.9,320.9 C438.2,319.3 432.7,317.9 428.9,315.3 C425.2,312.8 421.5,310.4 420.6,305.6Z" fill="#e3665e"/><circle cx="429.6" cy="300.0" r="9.8" fill="#e3665e"/><circle cx="431.7" cy="281.8" r="9.8" fill="#e3665e"/><circle cx="441.5" cy="266.5" r="10.5" fill="#e3665e"/><circle cx="459.6" cy="256.0" r="10.5" fill="#e3665e"/><circle cx="480.6" cy="251.2" r="9.1" fill="#e3665e"/><circle cx="500.1" cy="249.8" r="8.4" fill="#e3665e"/><circle cx="521.0" cy="253.9" r="9.1" fill="#e3665e"/><circle cx="537.8" cy="260.9" r="9.1" fill="#e3665e"/><circle cx="550.3" cy="272.1" r="9.8" fill="#e3665e"/><circle cx="559.4" cy="286.0" r="9.1" fill="#e3665e"/><circle cx="562.9" cy="301.4" r="8.4" fill="#e3665e"/><circle cx="563.6" cy="315.3" r="7.7" fill="#e3665e"/><path d="M435.9,301.4 C433.8,296.5 432,287.7 433.1,281.8 C434.3,276 438.9,270.6 442.9,266.5 C446.9,262.4 451.3,260 456.8,257.4 C462.4,254.9 468.9,252.4 476.4,251.2 C483.8,249.9 493.6,249.1 501.5,249.8 C509.4,250.5 517.3,253.3 523.8,255.3 C530.3,257.4 535.8,259.4 540.5,262.3 C545.3,265.2 549,268.8 552.4,272.8 C555.8,276.7 558.6,281.3 560.8,286 C563,290.8 564.6,296.5 565.6,301.4 C566.7,306.3 568,311.8 567,315.3 C566.1,318.8 564.5,321.3 560.1,322.3 C555.7,323.3 545,321.4 540.5,321.6 C536.1,321.8 538.2,323 533.6,323.7 C528.9,324.4 518.5,325.1 512.6,325.8 C506.8,326.5 504.5,327.3 498.7,327.9 C492.9,328.5 482,330.9 477.8,329.3 C473.6,327.6 476.4,320.7 473.6,318.1 C470.8,315.6 465.7,315.1 461,313.9 C456.4,312.8 449.9,313.2 445.7,311.1 C441.5,309 438,306.3 435.9,301.4Z" fill="#f28a7c"/><circle cx="442.9" cy="281.8" r="8.4" fill="#f28a7c"/><circle cx="451.3" cy="266.5" r="8.4" fill="#f28a7c"/><circle cx="465.2" cy="259.5" r="8.4" fill="#f28a7c"/><circle cx="482.0" cy="255.3" r="7.0" fill="#f28a7c"/><circle cx="501.5" cy="253.9" r="7.0" fill="#f28a7c"/><circle cx="521.0" cy="258.1" r="7.7" fill="#f28a7c"/><circle cx="537.8" cy="265.1" r="7.7" fill="#f28a7c"/><circle cx="548.9" cy="276.3" r="7.7" fill="#f28a7c"/><circle cx="555.9" cy="288.8" r="7.7" fill="#f28a7c"/><circle cx="558.7" cy="302.8" r="7.0" fill="#f28a7c"/><path d="M455.5,321.4 C457.5,318.1 469.9,316.2 473.6,317.9 C477.3,319.6 476.6,327.9 477.8,331.8 C478.9,335.8 481.7,339.4 480.6,341.6 C479.4,343.8 474.1,345.8 470.8,345.1 C467.5,344.4 463.6,341.4 461,337.4 C458.5,333.5 453.4,324.6 455.5,321.4Z" fill="#da564f"/><path d="M475,319.3 C478.7,318.6 490.1,326.6 498.7,327.7 C507.3,328.7 517.3,326.6 526.6,325.6 C535.9,324.5 547.5,322.7 554.5,321.4 C561.5,320.1 567,315.7 568.4,317.9 C569.8,320.1 565.2,331.4 562.9,334.6 C560.5,337.9 562.4,336.5 554.5,337.4 C546.6,338.4 524.7,339.1 515.4,340.2 C506.1,341.4 504.5,344.1 498.7,344.4 C492.9,344.7 484.3,344 480.6,341.9 C476.8,339.8 477.3,335.6 476.4,331.8 C475.4,328.1 471.3,320 475,319.3Z" fill="#e6675e"/><path d="M514.7,340.2 C518.2,338 530.4,338.8 537.8,338.1 C545.1,337.4 555.7,334.1 558.7,336 C561.7,338 558.4,346.4 555.9,350 C553.3,353.6 548.2,356.3 543.3,357.7 C538.4,359 531,359.4 526.6,358.3 C522.2,357.3 518.8,354.4 516.8,351.4 C514.9,348.4 511.2,342.4 514.7,340.2Z" fill="#d24e48"/><path d="M525.2,338.1 L533.6,357" fill="none" stroke="#bd3d39" stroke-width="1.6" stroke-linecap="round" stroke-linejoin="round"/><path d="M533.6,338.1 L541.9,357" fill="none" stroke="#bd3d39" stroke-width="1.6" stroke-linecap="round" stroke-linejoin="round"/><path d="M541.9,338.1 L550.3,357" fill="none" stroke="#bd3d39" stroke-width="1.6" stroke-linecap="round" stroke-linejoin="round"/><path d="M550.3,338.1 L558.7,357" fill="none" stroke="#bd3d39" stroke-width="1.6" stroke-linecap="round" stroke-linejoin="round"/><path d="M498.7,344.4 C499,340.1 511.2,337 515.4,340.2 C519.6,343.5 523.2,359 523.8,363.9 C524.4,368.9 520.7,369.4 518.9,369.8 C517.2,370.1 516.7,370.3 513.3,366 C510,361.8 498.3,348.7 498.7,344.4Z" fill="#b93035"/><path d="M442.9,283.2 C445.2,283.9 452.2,285.9 456.8,287.4 C461.5,288.9 467.5,291.1 470.8,292.3 C474.1,293.5 475.4,294.1 476.4,294.4" fill="none" stroke="#c4463f" stroke-width="2.2" stroke-linecap="round" stroke-linejoin="round"/><path d="M459.6,269.3 C459.4,270.9 459.9,276.3 458.2,279.1 C456.6,281.8 451.3,284.9 449.9,286" fill="none" stroke="#c4463f" stroke-width="2.2" stroke-linecap="round" stroke-linejoin="round"/><path d="M468,286 C468.2,286.7 469.2,289.5 469.4,290.2" fill="none" stroke="#c4463f" stroke-width="2.2" stroke-linecap="round" stroke-linejoin="round"/><path d="M514.7,250.5 C512.1,252.7 504.2,260.3 498.7,263.7 C493.2,267.1 487.1,268.6 482,270.7 C476.8,272.8 470.3,275.3 468,276.3" fill="none" stroke="#c4463f" stroke-width="2.2" stroke-linecap="round" stroke-linejoin="round"/><path d="M475,273.5 C475.4,274.9 477.3,280.5 477.8,281.8" fill="none" stroke="#c4463f" stroke-width="2.2" stroke-linecap="round" stroke-linejoin="round"/><path d="M476.4,248.4 C476.1,250.5 475.2,258.8 475,260.9" fill="none" stroke="#c4463f" stroke-width="2.2" stroke-linecap="round" stroke-linejoin="round"/><path d="M514,263.7 C516.1,263.5 522.2,261.9 526.6,262.3 C531,262.8 537.1,263.9 540.5,266.5 C544,269.1 546.1,274.4 547.5,277.7 C548.9,280.9 548.7,284.6 548.9,286" fill="none" stroke="#c4463f" stroke-width="2.2" stroke-linecap="round" stroke-linejoin="round"/><path d="M548.2,265.8 C547.7,267 545.9,271.6 545.4,272.8" fill="none" stroke="#c4463f" stroke-width="2.2" stroke-linecap="round" stroke-linejoin="round"/><path d="M507.1,274.9 C508.5,277 512.2,284.6 515.4,287.4 C518.7,290.2 522.4,290.2 526.6,291.6 C530.8,293 535.9,293.2 540.5,295.8 C545.2,298.4 551.1,303.2 554.5,307 C557.9,310.7 559.7,316.3 560.8,318.1" fill="none" stroke="#c4463f" stroke-width="2.2" stroke-linecap="round" stroke-linejoin="round"/><path d="M537.8,288.8 C538.2,290 540.1,294.6 540.5,295.8" fill="none" stroke="#c4463f" stroke-width="2.2" stroke-linecap="round" stroke-linejoin="round"/><path d="M557.3,307 C557.7,308.6 559.6,315.1 560.1,316.7" fill="none" stroke="#c4463f" stroke-width="2.2" stroke-linecap="round" stroke-linejoin="round"/><path d="M523.8,293 C521.9,295.1 516.1,302.3 512.6,305.6 C509.2,308.8 506.6,310.7 502.9,312.5 C499.2,314.4 492.4,316 490.3,316.7" fill="none" stroke="#c4463f" stroke-width="2.2" stroke-linecap="round" stroke-linejoin="round"/><path d="M508.5,301.4 C509.4,301.4 513.1,301.4 514,301.4" fill="none" stroke="#c4463f" stroke-width="2.2" stroke-linecap="round" stroke-linejoin="round"/><path d="M495.9,315.3 C496.1,316.5 497.1,321.1 497.3,322.3" fill="none" stroke="#c4463f" stroke-width="2.2" stroke-linecap="round" stroke-linejoin="round"/><path d="M498.7,291.6 C496.4,292.8 488.7,295.6 484.7,298.6 C480.8,301.6 476.6,307.9 475,309.7" fill="none" stroke="#c4463f" stroke-width="2.2" stroke-linecap="round" stroke-linejoin="round"/><path d="M487.5,302.8 C488.9,303 494.5,303.9 495.9,304.2" fill="none" stroke="#c4463f" stroke-width="2.2" stroke-linecap="round" stroke-linejoin="round"/><path d="M455.5,304.2 C457.3,303.9 462.9,302.5 466.6,302.8 C470.3,303 475.9,305.1 477.8,305.6" fill="none" stroke="#c4463f" stroke-width="2.2" stroke-linecap="round" stroke-linejoin="round"/><path d="M522.4,311.1 C520.8,312.8 515.7,318.8 512.6,320.9 C509.6,323 505.7,323.2 504.3,323.7" fill="none" stroke="#c4463f" stroke-width="2.2" stroke-linecap="round" stroke-linejoin="round"/><path d="M434.5,298.6 C435.9,300.4 439.2,307.2 442.9,309.7 C446.6,312.3 454.5,313.2 456.8,313.9" fill="none" stroke="#c4463f" stroke-width="2.2" stroke-linecap="round" stroke-linejoin="round"/><path d="M433.1,263.7 C434.3,265.1 438.7,269.1 440.1,272.1 C441.5,275.1 441.3,280.2 441.5,281.8" fill="none" stroke="#c4463f" stroke-width="2.2" stroke-linecap="round" stroke-linejoin="round"/><path d="M446,501.4 L458.3,500.5 L458.3,509.3 L446.5,509.5Z" fill="#f0b2aa"/><path d="M445.5,517.8 L456,517 L456,527 L445.5,527.2Z" fill="#f0b2aa"/><path d="M450,501 L452,501 L452,509.5 L450,509.5Z" fill="#e8a49b"/><path d="M449.5,517.5 L451.5,517.5 L451.5,527 L449.5,527Z" fill="#e8a49b"/><path d="M538,470 C538.3,468.4 542.3,466.2 544,466.5 C545.7,466.8 548.3,470.4 548,472 C547.7,473.6 543.7,476.3 542,476 C540.3,475.7 537.7,471.6 538,470Z" fill="#e0a098"/><path d="M552.5,481 C552.9,479.2 556.5,477 558,477.5 C559.5,478 561.9,482.2 561.5,484 C561.1,485.8 557,488.5 555.5,488 C554,487.5 552.1,482.8 552.5,481Z" fill="#e0a098"/><path d="M449.8,469.8 L463.2,466.1 L471.7,495.4 L470,510 L458,510 L455.9,497.9Z" fill="#f2b6ae"/><path d="M456,469 L461,467.5 L468,494 L462,496Z" fill="#f5c3bc"/><path d="M499.8,462 C501.2,453.7 503.7,453.1 508.4,450.3 C513.1,447.5 521.8,446.6 527.9,445.4 C534,444.2 541.5,441.8 545,443 C548.5,444.2 550.6,450.3 548.6,452.7 C546.6,455.1 536.7,455.6 532.8,457.6 C528.9,459.6 526.8,462 525.4,464.9 C524,467.8 522.9,474.1 524.5,475 C526.1,475.9 531.1,469.8 535,470 C538.9,470.2 544.5,473.3 548,476 C551.5,478.7 553.7,482.4 556,486.1 C558.3,489.8 568,495.2 562,498.3 C556,501.4 530.3,504.7 520,505 C509.7,505.3 503.4,507.2 500,500 C496.6,492.8 498.4,470.3 499.8,462Z" fill="#f3b9b1"/><path d="M526,466 C525.5,468.3 523.2,476 523,480 C522.8,484 524.7,488.3 525,490" fill="none" stroke="#e6a39b" stroke-width="1.4" stroke-linecap="round" stroke-linejoin="round"/><path d="M458.3,498.3 C461.3,492.2 468.1,493.4 475,492 C481.9,490.6 490.8,490.7 500,490 C509.2,489.3 520.7,488.6 530,488 C539.3,487.4 550.7,484.4 556,486.1 C561.3,487.8 559.8,493.2 562,498.3 C564.2,503.4 567.8,510.5 569.4,516.6 C571,522.7 572,528.4 571.8,534.9 C571.6,541.4 570.8,549.4 568.2,555.7 C565.6,562 561.1,568.8 556,572.8 C550.9,576.8 544.7,579.4 537.6,580 C530.5,580.6 521.3,578 513.2,576.4 C505.1,574.8 495.9,573.1 488.8,570.3 C481.7,567.4 475,563 470.5,559.3 C466,555.6 464.2,553.4 462,548.3 C459.8,543.2 457.7,537.1 457.1,528.8 C456.5,520.5 455.3,504.4 458.3,498.3Z" fill="#f3b9b1"/><path d="M458.3,500 C460.4,494.7 468.7,493.7 470,497 C471.3,500.3 466.3,512 466,520 C465.7,528 466,537.5 468,545 C470,552.5 477.6,562.6 478,565 C478.4,567.4 473.2,562.1 470.5,559.3 C467.8,556.5 464.2,553.4 462,548.3 C459.8,543.2 457.7,536.8 457.1,528.8 C456.5,520.8 456.2,505.3 458.3,500Z" fill="#eeaaa2"/><path d="M490,520 C495.8,513.3 510,508.3 520,510 C530,511.7 545.8,521.7 550,530 C554.2,538.3 551.7,554.2 545,560 C538.3,565.8 520,566.7 510,565 C500,563.3 488.3,557.5 485,550 C481.7,542.5 484.2,526.7 490,520Z" fill="#f5c0b8"/><path d="M471.1,560.6 L487.6,570.3 L493.7,589.9 L480.3,592.3Z" fill="#d0131d"/><path d="M464.4,443 L482,459" stroke="#d0131d" stroke-width="10.4" stroke-linecap="butt"/><path d="M481.5,425.3 L492,447" stroke="#d0131d" stroke-width="10.4" stroke-linecap="butt"/><path d="M504.7,421.6 L504.7,444" stroke="#d0131d" stroke-width="11" stroke-linecap="butt"/><path d="M462.2,440.8 L466.6,445.2" stroke="#b80f19" stroke-width="10.4" stroke-linecap="butt"/><path d="M479.5,426.3 L482,431.5" stroke="#b80f19" stroke-width="10.4" stroke-linecap="butt"/><path d="M504.7,421.6 L504.7,425.5" stroke="#b80f19" stroke-width="11" stroke-linecap="butt"/><path d="M471.7,494.2 C467.8,489.7 470.7,474.9 471.7,468.6 C472.7,462.3 474.9,460.1 477.8,456.4 C480.7,452.7 484.9,449.2 488.8,446.6 C492.7,444 496.9,441.5 501,440.5 C505.1,439.5 509.7,439.5 513.2,440.5 C516.7,441.5 521,444.6 521.8,446.6 C522.6,448.6 520.2,451.1 518,452.7 C515.8,454.3 511.2,455.1 508.4,456.4 C505.6,457.7 502.2,455.1 501,460.6 C499.8,466.1 502,483.5 501,489.3 C500,495.1 499.9,494.7 495,495.5 C490.1,496.3 475.6,498.7 471.7,494.2Z" fill="#d0131d"/><path d="M489.5,449.5 C491.4,447.1 493.1,448.1 492,451 C490.9,453.9 484.9,464.6 483,467 C481.1,469.4 479.4,468.4 480.5,465.5 C481.6,462.6 487.6,451.9 489.5,449.5Z" fill="#ec7f80"/><path d="M476.6,497.1 C475.6,500.4 472.1,510.3 470.5,516.6 C468.9,522.9 467.7,528.4 466.9,534.9 C466.1,541.4 465.8,552.2 465.6,555.7" fill="none" stroke="#cc1520" stroke-width="2.6" stroke-linecap="round" stroke-linejoin="round"/><path d="M472,512 C470.1,512.6 462.6,514.8 460.7,515.4" fill="none" stroke="#cc1520" stroke-width="1.8" stroke-linecap="round" stroke-linejoin="round"/><path d="M476,505 C477.5,506.9 483.7,514.7 485.2,516.6" fill="none" stroke="#cc1520" stroke-width="1.8" stroke-linecap="round" stroke-linejoin="round"/><path d="M471,513 C473.1,515.4 481.8,525.2 483.9,527.6" fill="none" stroke="#cc1520" stroke-width="1.8" stroke-linecap="round" stroke-linejoin="round"/><path d="M468,532 C471.9,533.9 487.4,541.6 491.3,543.5" fill="none" stroke="#cc1520" stroke-width="1.8" stroke-linecap="round" stroke-linejoin="round"/><path d="M476,540 C479.8,543.2 494.8,556.1 498.6,559.3" fill="none" stroke="#cc1520" stroke-width="1.8" stroke-linecap="round" stroke-linejoin="round"/><path d="M480,545 C480.7,548 483.3,560 484,563" fill="none" stroke="#cc1520" stroke-width="1.6" stroke-linecap="round" stroke-linejoin="round"/><path d="M486,550 C487.5,552.4 493.5,561.8 495,564.2" fill="none" stroke="#cc1520" stroke-width="1.6" stroke-linecap="round" stroke-linejoin="round"/><path d="M498.6,492.2 C501.5,492.8 510,493.7 515.7,495.9 C521.4,498.1 527.1,503.8 532.8,505.6 C538.5,507.4 544.2,505.7 549.9,506.9 C555.6,508.1 564.1,512 567,513" fill="none" stroke="#cc1520" stroke-width="2.6" stroke-linecap="round" stroke-linejoin="round"/><path d="M537.6,504 C539.8,503.4 548.8,501.2 551,500.7" fill="none" stroke="#cc1520" stroke-width="1.6" stroke-linecap="round" stroke-linejoin="round"/><path d="M554,508 C556.2,511.3 564.8,524.3 567,527.6" fill="none" stroke="#cc1520" stroke-width="1.8" stroke-linecap="round" stroke-linejoin="round"/><path d="M549.5,508 C550,510.4 551.8,520.2 552.3,522.7" fill="none" stroke="#cc1520" stroke-width="1.6" stroke-linecap="round" stroke-linejoin="round"/><path d="M513,496 C512.8,500.4 512.2,518.2 512,522.7" fill="none" stroke="#cc1520" stroke-width="1.8" stroke-linecap="round" stroke-linejoin="round"/><path d="M515,502 C516.1,506.3 520.7,523.3 521.8,527.6" fill="none" stroke="#cc1520" stroke-width="1.6" stroke-linecap="round" stroke-linejoin="round"/><path d="M532.8,505.6 C534,509.1 537.8,519.7 540,526.4 C542.2,533.1 544.8,537 546.2,545.9 C547.6,554.8 548.2,574.3 548.6,580" fill="none" stroke="#cc1520" stroke-width="2.6" stroke-linecap="round" stroke-linejoin="round"/><path d="M540,528 C538.4,531.2 531.9,543.9 530.3,547.1" fill="none" stroke="#cc1520" stroke-width="1.8" stroke-linecap="round" stroke-linejoin="round"/><path d="M537.6,537 C537.2,540.3 535.6,553.6 535.2,556.9" fill="none" stroke="#cc1520" stroke-width="1.6" stroke-linecap="round" stroke-linejoin="round"/><path d="M546,545 C547.7,548 554.3,560 556,563" fill="none" stroke="#cc1520" stroke-width="1.6" stroke-linecap="round" stroke-linejoin="round"/><path d="M547,560 C546.2,562.3 543.2,571.7 542.5,574" fill="none" stroke="#cc1520" stroke-width="1.6" stroke-linecap="round" stroke-linejoin="round"/><circle cx="924" cy="591" r="2.2" fill="#c0407a"/><circle cx="938.7" cy="599.6" r="2.8" fill="none" stroke="#f0d27a" stroke-width="1.2"/><path d="M931,615.3h7M934.5,611.8v7" stroke="#5fb3c0" stroke-width="1.3"/><circle cx="941" cy="627.5" r="1.4" fill="#5fb3c0"/><circle cx="788" cy="669.4" r="2.4" fill="#d98a6a"/><circle cx="791.4" cy="684" r="1.4" fill="#a05050"/><path d="M778.5,695.5h7M782,692v7" stroke="#5fb3c0" stroke-width="1.3"/><circle cx="788" cy="713" r="2.8" fill="none" stroke="#f0d27a" stroke-width="1.2"/><path d="M799,686.9 C799,686.9 800.1,679.6 799,675.3 C797.9,671 795.6,671.1 792.4,661.2 C789.2,651.3 782.1,624.3 780,616 C777.9,607.7 779.7,612.6 779.6,611.4 C779.5,610.1 779.2,609.4 779.4,608.5 C779.5,607.6 780,606.7 780.6,606 C781.2,605.3 782.1,604.6 782.9,604.3 C783.8,604 784.9,603.9 785.8,604.1 C786.7,604.2 787.6,604.7 788.3,605.3 C789,605.9 789.6,606.3 790,607.6 C790.3,608.9 789.5,609.6 790.5,613 C791.5,616.4 795,625.1 796.2,627.8 C797.4,630.5 797.3,629.3 797.8,629.3 C798.3,629.3 799.9,632.7 799.4,627.8 C798.9,622.9 795.6,604.8 794.9,600 C794.2,595.2 794.8,599.6 794.9,599 C795,598.3 795,597 795.4,596.2 C795.8,595.4 796.5,594.6 797.2,594.1 C797.9,593.6 798.9,593.2 799.8,593.1 C800.7,593 801.8,593.2 802.6,593.6 C803.4,594 804.2,594.7 804.7,595.4 C805.2,596.1 805.5,597.3 805.7,598 C805.9,598.8 805.2,595.4 805.9,600 C806.6,604.6 809,621.2 809.9,625.7 C810.8,630.2 811,627.2 811.5,627.2 C812,627.2 812.7,631.6 813.1,625.7 C813.5,619.8 813.9,597.6 814,592 C814.1,586.4 813.9,592.3 814,591.8 C814.1,591.3 814.3,589.7 814.8,588.9 C815.3,588.1 816.1,587.3 816.9,586.8 C817.7,586.3 818.8,586 819.8,586 C820.8,586 821.9,586.3 822.7,586.8 C823.5,587.3 824.3,588.1 824.8,588.9 C825.3,589.7 825.5,591.3 825.6,591.8 C825.7,592.3 825.7,586.5 825.6,592 C825.5,597.5 825,619.2 825.2,624.9 C825.4,630.6 826.3,626.4 826.8,626.4 C827.3,626.4 826.8,629.1 828.4,624.9 C830,620.7 835.1,605.2 836.5,601 C837.9,596.8 836.4,600.3 836.6,599.7 C836.9,599 837.3,597.8 837.9,597.1 C838.5,596.4 839.4,595.9 840.3,595.6 C841.2,595.3 842.2,595.2 843.1,595.4 C844,595.6 845,596.1 845.7,596.7 C846.4,597.3 846.9,598.2 847.2,599.1 C847.5,600 847.3,601.5 847.4,601.9 C847.4,602.4 848.7,595.4 847.6,602 C846.5,608.6 841.5,634.6 840.5,641.5 C839.5,648.4 841.2,643.1 841.8,643.2 C842.4,643.3 841.5,644.1 844,642 C846.5,639.9 854.6,632.4 857,630.5 C859.4,628.6 857.7,630.8 858.6,630.6 C859.4,630.4 860.9,629.4 862,629.5 C863.1,629.6 864.5,630.3 865.2,631.2 C865.9,632 866.4,633.5 866.3,634.6 C866.2,635.7 867.6,633.9 864.6,637.8 C861.7,641.7 854,651.4 848.7,657.9 C843.4,664.4 835.6,672.1 833,676.9 C830.4,681.7 833,686.9 833,686.9 C833,686.9 799,686.9 799,686.9Z" fill="#f3b962" stroke="#1f2a44" stroke-width="1.6" stroke-linecap="round" stroke-linejoin="round"/><rect x="799.2" y="723.4" width="33.1" height="11.3" rx="3" fill="#f3b55d" stroke="#1f2a44" stroke-width="1.4"/><rect x="794.9" y="686.5" width="42.7" height="38.7" rx="4" fill="#8a8ba3" stroke="#1f2a44" stroke-width="1.5"/><path d="M816.7,686.8 L816.7,725.2" fill="none" stroke="#1f2a44" stroke-width="1.2" stroke-linecap="round" stroke-linejoin="round"/><rect x="810.6" y="695.2" width="10.5" height="4.9" rx="1" fill="#f1d3a0" stroke="#1f2a44" stroke-width="1"/><rect x="810.6" y="712.1" width="10.5" height="4.9" rx="1" fill="#f1d3a0" stroke="#1f2a44" stroke-width="1"/><path d="M837.6,706.9 L869,706.9 L869.9,622.3 L899.5,622.3 L900.4,631.9" fill="none" stroke="#1f2a44" stroke-width="1.2" stroke-linecap="round" stroke-linejoin="round"/><path d="M854.6,599.6 C855.5,595.6 858.7,589.9 861.6,587.4 C864.5,585 868.3,584.7 872.1,584.8 C875.9,585 881.2,585.8 884.3,588.3 C887.3,590.8 890,595.7 890.4,599.6 C890.8,603.6 889.4,608.9 886.9,611.8 C884.4,614.8 879.8,616.4 875.6,617.1 C871.4,617.8 865,615.6 861.6,616.2 C858.3,616.8 855.5,620.6 855.5,620.6 C855.5,620.6 856.5,615.3 856.4,611.8 C856.2,608.4 853.8,603.7 854.6,599.6Z" fill="#e0267b" stroke="#1f2a44" stroke-width="1.2" stroke-linecap="round" stroke-linejoin="round"/><path d="M871.5,596.1L871.5,609.1" stroke="#fff" stroke-width="2.6" stroke-linecap="round"/><path d="M877.1,599.4L865.9,605.9" stroke="#fff" stroke-width="2.6" stroke-linecap="round"/><path d="M877.1,605.9L865.9,599.4" stroke="#fff" stroke-width="2.6" stroke-linecap="round"/><rect x="898" y="629" width="6" height="5" rx="1" fill="#2f8ad8" stroke="#1f2a44" stroke-width="1"/><rect x="877.7" y="633.6" width="65.3" height="101.2" rx="7" fill="#2f8ad8" stroke="#1f2a44" stroke-width="1.6"/><rect x="883" y="639.7" width="55" height="64.6" rx="3" fill="#fdfdfd" stroke="#1f2a44" stroke-width="1.2"/><rect x="884" y="697" width="53" height="6.5" fill="#e8eaf0"/><g font-family="Liberation Sans, sans-serif" font-size="17" fill="#222" text-anchor="middle"><text x="895.3" y="658.5" text-anchor="start" textLength="31" lengthAdjust="spacingAndGlyphs">120</text><text x="900.2" y="677.3" text-anchor="start" textLength="21.5" lengthAdjust="spacingAndGlyphs">80</text><text x="900.5" y="695" text-anchor="start" textLength="21" lengthAdjust="spacingAndGlyphs">70</text></g><circle cx="890" cy="719.5" r="7" fill="#f7c531" stroke="#1f2a44" stroke-width="1.3"/><circle cx="910.5" cy="719.5" r="7" fill="#f0542a" stroke="#1f2a44" stroke-width="1.3"/><circle cx="931" cy="719.5" r="7" fill="#36b15a" stroke="#1f2a44" stroke-width="1.3"/><circle cx="875.7" cy="880.5" r="93" fill="#efefe7"/><path d="M807.3,923.4 L818.5,929.5 L812.5,934.5 L825.6,943.5 L808.5,938 L803.6,935.6 L811,930.5Z" fill="#d84a35"/><path d="M798.6,946.4 L821.4,948.3 L806.5,951.5 L813,956.3 L797.3,957.6 L804,952.3 L801,949.5Z" fill="#d84a35"/><path d="M829.7,954.2 L818.5,964.2 L827.7,966.5 L816.2,976.7 L821,968.8 L809.9,967.3 L820,961Z" fill="#d84a35"/><path d="M865.2,878.9 C871.3,880.1 875,891.4 879.8,893.5 C884.7,895.6 890.8,887.7 894.5,891.7 C898.2,895.6 900.9,908.5 901.8,917.3 C902.7,926.2 900.6,935.6 900,944.8 C899.4,953.9 907,967.7 898.2,972.2 C889.3,976.8 855.1,976.8 846.9,972.2 C838.7,967.7 849.9,950 848.7,944.8 C847.5,939.6 843.5,944.2 839.6,941.1 C835.6,938.1 829.2,932 824.9,926.5 C820.7,921 815.5,913 813.9,908.2 C812.4,903.3 810.9,900.8 815.8,897.2 C820.7,893.5 835,889.2 843.2,886.2 C851.5,883.1 859.1,877.6 865.2,878.9Z" fill="#9d8b72"/><path d="M865.2,878.9 L868.9,897.2 L876.2,899 L879.8,908.2 L894.5,891.7 L879.8,893.5Z" fill="#8c7a63"/><path d="M883.5,891.7 L898.2,893.5 L901.8,915.5Z" fill="#ffffff"/><path d="M865.2,878.9 L868.9,897.2 L876.2,899 L879.8,908.2 L901.8,917.3" fill="none" stroke="#6f604c" stroke-width="0.8" stroke-linecap="round" stroke-linejoin="round"/><path d="M830.4,915.5 C832.6,917.3 840.2,922.8 843.2,926.5 C846.3,930.1 847.8,935.6 848.7,937.5" fill="none" stroke="#7a6a55" stroke-width="0.8" stroke-linecap="round" stroke-linejoin="round"/><path d="M837.7,941.1 L848.7,930.1 L852.4,937.5 L843.2,944.8Z" fill="#ffffff" stroke="#6f604c" stroke-width="0.8" stroke-linecap="round" stroke-linejoin="round"/><path d="M846.9,935.6 C849.3,934.1 855.4,934.1 857.9,935.6 C860.3,937.1 861.2,941.7 861.5,944.8 C861.8,947.8 860.9,953 859.7,953.9 C858.5,954.8 855.4,948.7 854.2,950.3 C853,951.8 853.3,962.2 852.4,963.1 C851.5,964 850.3,958.8 848.7,955.8 C847.2,952.7 843.5,948.1 843.2,944.8 C842.9,941.4 844.5,937.1 846.9,935.6Z" fill="#f3c3a6"/><path d="M846,970.4 L898.2,970.4 L896.3,977.7 L846.9,976.8Z" fill="#5d6693"/><path d="M866,872 L884,878 L893,890 L880,893 L866,882Z" fill="#f3c3a6"/><path d="M873.5,850 C876,846.3 879.5,841 885,838 C890.5,835 899.9,831.9 906.3,832 C912.7,832.1 920.6,834.4 923.3,838.7 C925.9,843 922,853.3 922.2,858 C922.4,862.7 925.5,864.1 924.5,867.1 C923.5,870.1 918.6,873.7 916.5,876.1 C914.4,878.5 915.8,879.9 912,881.8 C908.2,883.7 898.8,887.1 893.9,887.5 C889,887.9 885.9,886.4 882.5,884.1 C879.1,881.8 875.6,877.9 873.5,873.9 C871.4,869.9 870,864 870,860 C870,856 871,853.7 873.5,850Z" fill="#f4c6a8"/><circle cx="900.7" cy="864.8" r="5.6" fill="#eba591" opacity="0.9"/><path d="M904.5,876.5 C905.3,875.5 910.6,872.7 912,872.5 C913.4,872.3 913.8,874.5 913,875.5 C912.2,876.5 908.4,878.3 907,878.5 C905.6,878.7 903.7,877.5 904.5,876.5Z" fill="#c8303a"/><path d="M912.5,853 L917.5,855.5 L912.5,858.5" fill="none" stroke="#3a2a2a" stroke-width="1" stroke-linecap="round" stroke-linejoin="round"/><path d="M911,849 C911.8,848.6 914.2,846.8 915.5,846.5 C916.8,846.2 918.4,847.3 919,847.5" fill="none" stroke="#3a2a2a" stroke-width="0.9" stroke-linecap="round" stroke-linejoin="round"/><path d="M903,847.5 C902.5,847.5 901.5,850.6 901.5,851.5 C901.5,852.4 902.5,853 903,853 C903.5,853 904.5,852.4 904.5,851.5 C904.5,850.6 903.5,847.5 903,847.5Z" fill="#8aa0bb"/><circle cx="876.5" cy="856" r="5.2" fill="#f0b89a"/><path d="M866.7,801.3 C871,794 872.3,800.6 878,800.8 C883.7,801 894.7,800.5 900.7,802.5 C906.8,804.5 910.5,808.7 914.3,812.7 C918.1,816.7 921.4,822.1 923.3,826.3 C925.2,830.4 926.9,837.2 925.6,837.6 C924.3,838 918.6,828.9 915.4,828.5 C912.2,828.1 910.6,831.1 906.3,835.3 C901.9,839.5 892.9,849.2 889.3,853.5 C885.7,857.8 886,861.2 884.5,861 C883,860.8 881.8,853.8 880,852 C878.2,850.2 875.3,849 874,850 C872.7,851 871.9,854.2 872,858 C872.1,861.8 876.1,872 874.6,872.7 C873.1,873.5 867.1,867.2 863.3,862.5 C859.5,857.8 851.4,854.6 852,844.4 C852.6,834.2 862.4,808.6 866.7,801.3Z" fill="#7c4a2c"/><path d="M852,844.4 C848.8,850.7 846.9,854 842.9,858 C838.9,862 832.3,866.3 828.1,868.2 C823.9,870.1 817.1,871.8 817.9,869.3 C818.7,866.8 829.7,859.2 832.7,853.5 C835.7,847.8 835.6,841.2 836,835.3 C836.4,829.4 834,823.2 835,818.3 C836,813.4 838.3,808.9 841.7,805.9 C845.1,802.9 851.1,801 855.3,800.2 C859.5,799.4 865.6,798 866.7,801.3 C867.8,804.6 864.5,812.8 862,820 C859.5,827.2 855.2,838.1 852,844.4Z" fill="#7c4a2c"/><path d="M865,806 C862.8,807.5 855.3,810.2 852,815 C848.7,819.8 847.3,828.3 845,835 C842.7,841.7 840.8,849.8 838,855 C835.2,860.2 829.7,864.2 828,866" fill="none" stroke="#3d2414" stroke-width="1.5" stroke-linecap="round" stroke-linejoin="round"/><path d="M912,820 C909.2,821.3 901.5,823.7 895,828 C888.5,832.3 876.7,843 873,846" fill="none" stroke="#3d2414" stroke-width="1.5" stroke-linecap="round" stroke-linejoin="round"/><path d="M358.9,927.3 C355.8,923.6 361.8,914.7 365,910.2 C368.2,905.7 374.1,900.4 378.4,900.4 C382.7,900.4 386.5,909.2 390.6,910.2 C394.7,911.2 398.6,909 402.9,906.5 C407.2,904 411.8,896.9 416.3,895.5 C420.8,894.1 426.2,896 429.7,898 C433.2,900 435.7,904 437.1,907.7 C438.5,911.4 438.5,913 438.3,920 C438.1,927 436.6,941 436,950 C435.4,959 434.6,973.7 434.6,973.7 C434.6,973.7 388.2,973.7 388.2,973.7 C388.2,973.7 388.2,939.9 383.3,932.2 C378.4,924.5 361.9,931 358.9,927.3Z" fill="#6a74ee"/><path d="M376,893 C378.3,891.8 387.3,892.6 392,893 C396.7,893.4 402.2,893.5 404,895.5 C405.8,897.5 405.1,902.8 402.9,905.3 C400.7,907.8 394.7,911 390.6,910.2 C386.5,909.4 380.8,903.3 378.4,900.4 C376,897.5 373.7,894.2 376,893Z" fill="#f3b39a"/><path d="M402.9,905.3 C403.8,901.9 406.2,898.6 408,897 C409.8,895.4 412.2,893.3 413.8,895.5 C415.4,897.7 416.7,904.5 417.5,910.2 C418.3,915.9 418.7,929.7 418.7,929.7 C418.7,929.7 405.3,930.3 405.3,930.3 C405.3,930.3 403.3,921.7 402.9,917.5 C402.5,913.3 402,908.7 402.9,905.3Z" fill="#f2a98f"/><path d="M400.4,931 C400.8,933.8 401.1,943.5 402.9,948 C404.7,952.5 408.1,956 411.4,957.8 C414.6,959.6 418.9,960.6 422.4,959 C425.9,957.4 430.6,949.8 432.2,948" fill="none" stroke="#2e3a8a" stroke-width="0.9" stroke-linecap="round" stroke-linejoin="round"/><path d="M420,932.2 C420.4,933.8 422,940.4 422.4,942" fill="none" stroke="#2e3a8a" stroke-width="0.9" stroke-linecap="round" stroke-linejoin="round"/><path d="M373.5,920 C373.3,921.3 372.7,926.7 372.5,928" fill="none" stroke="#2e3a8a" stroke-width="0.9" stroke-linecap="round" stroke-linejoin="round"/><path d="M356.4,863.8 C355.8,867.3 357.3,874.3 358.9,878.4 C360.5,882.5 362.9,885.2 366.2,888.2 C369.4,891.2 374.5,895.5 378.4,896.7 C382.3,897.9 386.1,896.9 389.4,895.5 C392.7,894.1 396,891.1 398,888.2 C400,885.4 401.1,882.3 401.6,878.4 C402.1,874.5 402.2,867.9 401,865 C399.8,862.1 397.2,862.7 394.3,861.3 C391.4,859.9 387.2,857.5 383.3,856.4 C379.4,855.3 374.6,854.4 371.1,854.6 C367.6,854.8 364.9,856.1 362.5,857.6 C360.1,859.1 357,860.3 356.4,863.8Z" fill="#f6bca0"/><circle cx="397.4" cy="868.6" r="3.6" fill="#f2ad92"/><path d="M352.8,868.6 C351.8,865.8 352.2,864.5 352.8,861.3 C353.4,858 354.4,852.6 356.4,849.1 C358.4,845.6 361.3,842.1 365,840.5 C368.7,838.9 373.7,838.7 378.4,839.3 C383.1,839.9 389.4,841.8 393.1,844.2 C396.8,846.7 399,851 400.4,854 C401.8,857 402.6,860.9 401.6,862.5 C400.6,864.1 397.4,864.6 394.3,863.8 C391.2,863 386.8,859 383.3,857.6 C379.8,856.2 377,855.2 373.5,855.2 C370,855.2 365.4,856 362.5,857.6 C359.6,859.2 357,861.5 356.4,865 C355.8,868.5 359.5,877.8 358.9,878.4 C358.3,879 353.8,871.5 352.8,868.6Z" fill="#7a2434"/><circle cx="374.8" cy="829.5" r="11.5" fill="#7a2434"/><path d="M360,876 C361,875.3 364.2,873 366,872 C367.8,871 370.2,870.3 371,870" fill="none" stroke="#2a1a1a" stroke-width="0.9" stroke-linecap="round" stroke-linejoin="round"/><path d="M364,879 C364.8,878.5 368.2,876.5 369,876" fill="none" stroke="#2a1a1a" stroke-width="0.9" stroke-linecap="round" stroke-linejoin="round"/><path d="M376,866 C376.8,865.7 379.7,863.8 381,864 C382.3,864.2 383.5,866.5 384,867" fill="none" stroke="#2a1a1a" stroke-width="0.9" stroke-linecap="round" stroke-linejoin="round"/><path d="M377,872 C377.8,871.5 380.7,868.8 382,869 C383.3,869.2 384.5,872.3 385,873" fill="none" stroke="#2a1a1a" stroke-width="0.9" stroke-linecap="round" stroke-linejoin="round"/><path d="M372,870 C372.5,871.2 374.7,875.3 375,877 C375.3,878.7 373.7,879.2 374,880 C374.3,880.8 376.5,881.7 377,882" fill="none" stroke="#2a1a1a" stroke-width="0.9" stroke-linecap="round" stroke-linejoin="round"/><path d="M378,884 C378.7,883.5 380.7,881.3 382,881 C383.3,880.7 385.3,881.8 386,882" fill="none" stroke="#2a1a1a" stroke-width="0.9" stroke-linecap="round" stroke-linejoin="round"/><path d="M378.4,894.3 C380,894.2 384.9,894.6 388,894 C391.1,893.4 395.2,891.2 396.7,890.6" fill="none" stroke="#2a1a1a" stroke-width="1" stroke-linecap="round" stroke-linejoin="round"/><path d="M411.4,878.4 L409.6,884.5" fill="none" stroke="#333" stroke-width="0.8" stroke-linecap="round" stroke-linejoin="round"/><path d="M420,882.1 L415,887" fill="none" stroke="#333" stroke-width="0.8" stroke-linecap="round" stroke-linejoin="round"/><path d="M426,888.2 L418.7,890.6" fill="none" stroke="#333" stroke-width="0.8" stroke-linecap="round" stroke-linejoin="round"/><path d="M316.1,929.1 L380.9,929.1 L388.2,973.7 L322.2,974.9Z" fill="#fbf0d0"/><path d="M322,974 L420,973.7 L420,977.5 L323,978Z" fill="#fdf6e2"/><circle cx="350.3" cy="954.2" r="8.3" fill="#6a74ee"/><path d="M498.4,1280.3 C498.4,1280.3 518.4,1280.7 525,1279 C531.6,1277.3 534.1,1272.7 538,1270 C541.9,1267.3 538.3,1262.6 548.6,1262.6 C558.9,1262.6 580.1,1269.7 600,1270 C619.9,1270.3 653.9,1263.6 667.9,1264.6 C681.9,1265.6 679.5,1272.8 684,1276 C688.5,1279.2 689.2,1282.1 695,1283.5 C700.8,1284.9 719,1284.5 719,1284.5 C719,1284.5 719,1366 719,1366 C719,1366 498.4,1366 498.4,1366 C498.4,1366 498.4,1280.3 498.4,1280.3Z" fill="#d3235f"/><path d="M498.4,1289.8 C498.4,1289.8 520.4,1286 527.7,1289.8 C535,1293.6 537.1,1305.5 542.3,1312.8 C547.5,1320.1 553.5,1328.7 559,1333.7 C564.5,1338.7 569.8,1342.3 575,1343 C580.2,1343.7 585,1342.9 590.4,1337.9 C595.8,1332.9 601.3,1312.8 607.2,1312.8 C613.1,1312.8 620.5,1332.9 626,1337.9 C631.5,1342.9 635.5,1343.3 640,1343 C644.5,1342.7 647.9,1341.2 653.2,1335.8 C658.5,1330.4 666.8,1318 672,1310.7 C677.2,1303.4 676.8,1295.3 684.6,1291.8 C692.4,1288.3 719,1289.8 719,1289.8 C719,1289.8 719,1366 719,1366 C719,1366 498.4,1366 498.4,1366 C498.4,1366 498.4,1289.8 498.4,1289.8Z" fill="#fd5877"/><path d="M498.4,1333.7 C498.4,1333.7 526.3,1336.9 542.3,1340 C558.3,1343.1 575.4,1351.1 594.6,1352.5 C613.8,1353.9 640,1352.1 657.4,1348.3 C674.8,1344.5 688.9,1332.3 699.2,1329.5 C709.5,1326.7 719,1331.6 719,1331.6 C719,1331.6 719,1366 719,1366 C719,1366 498.4,1366 498.4,1366 C498.4,1366 498.4,1333.7 498.4,1333.7Z" fill="#f8a1ad"/><path d="M498.4,1352.5 C498.4,1352.5 533.3,1348.7 552.8,1350.4 C572.3,1352.2 596.3,1362.3 615.5,1363 C634.7,1363.7 650.6,1357 667.9,1354.6 C685.1,1352.1 719,1348.3 719,1348.3 C719,1348.3 719,1366 719,1366 C719,1366 498.4,1366 498.4,1366 C498.4,1366 498.4,1352.5 498.4,1352.5Z" fill="#fbc4c5"/><path d="M511,1303 C511,1300.8 515.8,1298.8 518,1300 C520.2,1301.2 524,1307.8 524,1310 C524,1312.2 520.2,1314.2 518,1313 C515.8,1311.8 511,1305.2 511,1303Z" fill="#cf2158"/><path d="M603,1328 C603.7,1327.2 607.7,1326.5 609,1327 C610.3,1327.5 611.7,1330.2 611,1331 C610.3,1331.8 606.3,1332.5 605,1332 C603.7,1331.5 602.3,1328.8 603,1328Z" fill="#cf2158"/><path d="M505,1344 L523.5,1344 L523.5,1348.3 L505,1348.3Z" fill="#fde3e3"/><path d="M699,1331 C701.5,1329.8 714.8,1328.7 718,1330 C721.2,1331.3 720.5,1337.8 718,1339 C715.5,1340.2 706.2,1338.3 703,1337 C699.8,1335.7 696.5,1332.2 699,1331Z" fill="#fbc4c5"/><path d="M679,1358 C680.7,1357.2 687.8,1356.5 690,1357 C692.2,1357.5 693.7,1360.2 692,1361 C690.3,1361.8 682.2,1362.5 680,1362 C677.8,1361.5 677.3,1358.8 679,1358Z" fill="#f8a1ad"/><path d="M521.4,1276 L552.8,1276 L552.8,1279.3 L521.4,1279.3Z" fill="#ee5a85"/><path d="M546.7,1243.8 C546.9,1237.5 547.9,1229.6 550.9,1224.3 C553.9,1219 559.5,1214.5 564.9,1211.7 C570.2,1208.9 576.7,1208 583,1207.6 C589.3,1207.1 596.9,1208.5 602.5,1209 C608.1,1209.5 610.9,1210.3 616.5,1210.3 C622.1,1210.3 630,1208.3 636,1209 C642,1209.7 647.7,1211.5 652.8,1214.5 C657.9,1217.5 663.5,1222.2 666.7,1227.1 C670,1232 671.6,1238.2 672.3,1243.8 C673,1249.4 672.3,1254.8 670.9,1260.6 C669.5,1266.4 666.5,1272.9 663.9,1278.7 C661.3,1284.5 657.4,1289.6 655.5,1295.4 C653.6,1301.2 654.2,1307.3 652.8,1313.6 C651.4,1319.9 649.3,1328.7 647.2,1333.1 C645.1,1337.5 642.3,1339.9 640.2,1340.1 C638.1,1340.3 636.2,1338.7 634.6,1334.5 C633,1330.3 632.5,1321.5 630.4,1315 C628.3,1308.5 625.8,1300.3 622.1,1295.4 C618.4,1290.5 613,1286.2 608.1,1285.7 C603.2,1285.2 597,1288.6 592.8,1292.6 C588.6,1296.5 585.3,1303.6 583,1309.4 C580.7,1315.2 580.2,1322.6 578.8,1327.5 C577.4,1332.4 576.5,1337.5 574.6,1338.7 C572.8,1339.9 569.8,1338.7 567.7,1334.5 C565.6,1330.3 563.7,1321.7 562.1,1313.6 C560.5,1305.5 560,1294.3 557.9,1285.7 C555.8,1277.1 551.4,1269 549.5,1262 C547.6,1255 546.5,1250.1 546.7,1243.8Z" fill="#e5eaf4"/><path d="M550.9,1224.3 C549.5,1227.8 546.9,1237.5 546.7,1243.8 C546.5,1250.1 547.6,1255 549.5,1262 C551.4,1269 555.8,1277.1 557.9,1285.7 C560,1294.3 560.5,1305.5 562.1,1313.6 C563.7,1321.7 565.6,1330.3 567.7,1334.5 C569.8,1338.7 572.8,1339.9 574.6,1338.7 C576.5,1337.5 577.4,1332.4 578.8,1327.5 C580.2,1322.6 580.7,1315.2 583,1309.4 C585.3,1303.6 588.6,1296.5 592.8,1292.6 C597,1288.6 603.2,1285.2 608.1,1285.7 C613,1286.2 618.4,1290.5 622.1,1295.4 C625.8,1300.3 628.3,1308.5 630.4,1315 C632.5,1321.5 633,1330.3 634.6,1334.5 C636.2,1338.7 638.1,1340.3 640.2,1340.1 C642.3,1339.9 645.1,1337.5 647.2,1333.1 C649.3,1328.7 651.4,1319.9 652.8,1313.6 C654.2,1307.3 657.4,1298.9 655.5,1295.4 C653.6,1291.9 647.4,1294.9 641.6,1292.6 C635.8,1290.3 628.1,1283.8 620.7,1281.5 C613.3,1279.2 603.3,1280.1 597,1278.7 C590.7,1277.3 586.7,1277.8 583,1273.1 C579.3,1268.4 577.9,1256.8 574.6,1250.8 C571.4,1244.8 566.8,1241.4 563.5,1236.8 C560.2,1232.2 557.2,1225 555.1,1222.9 C553,1220.8 552.3,1220.8 550.9,1224.3Z" fill="#c9d1e3"/><path d="M562.5,1314 C561.8,1317.2 566,1330.9 568,1335 C570,1339.1 572.8,1340 574.6,1338.7 C576.4,1337.4 577.8,1331.3 579,1327 C580.2,1322.7 583.2,1314.8 582,1313 C580.8,1311.2 575.2,1315.8 572,1316 C568.8,1316.2 563.2,1310.8 562.5,1314Z" fill="#b7c1dc"/><path d="M631,1316 C630.2,1318.4 633.5,1330.5 635,1334.5 C636.5,1338.5 638.2,1340.3 640.2,1340.1 C642.2,1339.9 645.3,1336.8 647.2,1333.1 C649.1,1329.4 652.7,1320.2 651.5,1318 C650.3,1315.8 643.4,1320.3 640,1320 C636.6,1319.7 631.8,1313.6 631,1316Z" fill="#b7c1dc"/><path d="M610.9,1271 C611.4,1268.9 619.9,1266.7 625,1267.5 C630.1,1268.3 639.4,1273 641.6,1276 C643.8,1279 641.3,1285 638,1285.7 C634.7,1286.4 626.5,1282.5 622,1280 C617.5,1277.5 610.4,1273.1 610.9,1271Z" fill="#bcc5dd"/><path d="M640.2,1226 C641.2,1222.8 648,1221.2 652,1222.9 C656,1224.6 662.6,1232 663.9,1236 C665.2,1240 663,1245.6 660,1246.6 C657,1247.6 649.3,1245.4 646,1242 C642.7,1238.6 639.2,1229.2 640.2,1226Z" fill="#ffffff"/><path d="M610.3,1236.3 L638.7,1208 L656.8,1214.8 L634.1,1230.7Z" fill="#9ea7d8"/><path d="M625.1,1154.7 L657.9,1159.3 L638.7,1192.1 L640.9,1197.8 L609.2,1237.5 L620.5,1205.7 L604.7,1200.1Z" fill="#f6a93a"/><path d="M625.1,1154.7 L657.9,1159.3 L646.6,1178.5 L616,1183.1Z" fill="#f9be45"/><path d="M627.3,1162.7 C628.9,1161.3 636.4,1160.6 638.7,1161.5 C640.9,1162.5 642.5,1167 640.9,1168.3 C639.4,1169.7 631.9,1170.4 629.6,1169.5 C627.3,1168.5 625.8,1164 627.3,1162.7Z" fill="#fde27a"/><path d="M593.3,1178.5 L589.9,1192.1" fill="none" stroke="#f3c872" stroke-width="2.6" stroke-linecap="round" stroke-linejoin="round"/><path d="M544.6,1202.3 L550.3,1209.1" fill="none" stroke="#f3c872" stroke-width="2.6" stroke-linecap="round" stroke-linejoin="round"/><path d="M515.1,1243.1 L528.7,1255.6" fill="none" stroke="#f3c872" stroke-width="2.6" stroke-linecap="round" stroke-linejoin="round"/><path d="M528.7,1243.1 L515.1,1255.6" fill="none" stroke="#f3c872" stroke-width="2.6" stroke-linecap="round" stroke-linejoin="round"/><path d="M631.9,1265.8 L644.3,1277.1" fill="none" stroke="#f3c872" stroke-width="2.6" stroke-linecap="round" stroke-linejoin="round"/><path d="M644.3,1265.8 L631.9,1277.1" fill="none" stroke="#f3c872" stroke-width="2.6" stroke-linecap="round" stroke-linejoin="round"/><path d="M677.2,1191 L668.1,1197.8 L674.9,1198.9 L667,1205.7" fill="none" stroke="#f3c872" stroke-width="2.4" stroke-linecap="round" stroke-linejoin="round"/><path d="M574.1,1217.1 L575.2,1228.4 L579.7,1225 L580.9,1237.5" fill="none" stroke="#f3c872" stroke-width="2.4" stroke-linecap="round" stroke-linejoin="round"/><circle cx="102" cy="395" r="7.8" fill="#0a0a0a"/><circle cx="266.4" cy="458.7" r="7.7" fill="#0a0a0a"/><circle cx="447.4" cy="735.8" r="8.6" fill="#0a0a0a"/><circle cx="541.6" cy="796.2" r="8.5" fill="#0a0a0a"/><circle cx="550.1" cy="820" r="8.3" fill="#0a0a0a"/><circle cx="560.2" cy="845.6" r="8.4" fill="#0a0a0a"/><circle cx="299" cy="1147.5" r="9.3" fill="#0a0a0a"/><circle cx="385.4" cy="1134.1" r="8.5" fill="#0a0a0a"/><path d="M398.6,284.0 L398.3,283.8 L398.1,283.6 L397.8,283.5 L397.5,283.3 L397.2,283.1 L396.9,282.9 L396.6,282.7 L396.3,282.4 L395.9,282.2 L395.6,282.0 L395.2,281.7 L394.8,281.5 L394.4,281.2 L394.1,280.9 L393.7,280.6 L393.2,280.4 L392.8,280.1 L392.4,279.8 L392.0,279.5 L391.5,279.2 L391.1,278.8 L390.6,278.5 L390.1,278.2 L389.6,277.9 L389.2,277.5 L388.7,277.2 L388.2,276.9 L387.7,276.5 L387.2,276.2 L386.6,275.8 L386.1,275.5 L385.6,275.1 L385.0,274.8 L384.5,274.4 L384.0,274.1 L383.4,273.7 L382.9,273.3 L382.3,273.0 L381.7,272.6 L381.2,272.3 L380.6,271.9 L380.0,271.5 L379.5,271.2 L378.9,270.8 L378.3,270.5 L377.7,270.1 L377.1,269.8 L376.5,269.4 L375.9,269.1 L375.4,268.7 L374.8,268.4 L374.2,268.0 L373.6,267.7 L373.0,267.4 L372.4,267.1 L371.8,266.7 L371.2,266.4 L370.6,266.1 L370.0,265.8 L369.4,265.5 L368.8,265.2 L368.2,264.9 L367.6,264.6 L367.0,264.3 L366.4,264.0 L365.7,263.7 L365.1,263.4 L364.5,263.0 L363.8,262.7 L363.2,262.4 L362.5,262.1 L361.9,261.8 L361.2,261.5 L360.5,261.1 L359.9,260.8 L359.2,260.5 L358.5,260.2 L357.8,259.9 L357.1,259.5 L356.4,259.2 L355.7,258.9 L355.0,258.6 L354.3,258.3 L353.6,258.0 L352.9,257.6 L352.2,257.3 L351.5,257.0 L350.8,256.7 L350.0,256.4 L349.3,256.1 L348.6,255.8 L347.9,255.5 L347.1,255.2 L346.4,254.9 L345.7,254.6 L345.0,254.3 L344.2,254.0 L343.5,253.7 L342.8,253.4 L342.0,253.1 L341.3,252.8 L340.6,252.5 L339.8,252.3 L339.1,252.0 L338.4,251.7 L337.6,251.4 L336.9,251.2 L336.2,250.9 L335.4,250.7 L334.7,250.4 L334.0,250.2 L333.3,249.9 L332.5,249.7 L331.8,249.5 L331.1,249.3 L330.4,249.0 L329.7,248.8 L329.0,248.6 L328.2,248.4 L327.5,248.2 L326.8,248.0 L326.1,247.8 L325.4,247.7 L324.7,247.5 L324.0,247.3 L323.3,247.1 L322.6,247.0 L321.9,246.8 L321.2,246.6 L320.5,246.5 L319.8,246.3 L319.1,246.2 L318.4,246.0 L317.7,245.9 L317.0,245.7 L316.3,245.6 L315.6,245.5 L314.9,245.3 L314.2,245.2 L313.5,245.1 L312.8,244.9 L312.1,244.8 L311.4,244.7 L310.7,244.6 L310.0,244.5 L309.3,244.4 L308.5,244.3 L307.8,244.2 L307.1,244.1 L306.4,244.0 L305.7,243.9 L305.0,243.8 L304.3,243.7 L303.6,243.6 L302.9,243.5 L302.2,243.5 L301.5,243.4 L300.8,243.3 L300.1,243.3 L299.4,243.2 L298.7,243.1 L298.0,243.1 L297.3,243.0 L296.6,242.9 L295.9,242.9 L295.2,242.8 L294.5,242.8 L293.8,242.8 L293.1,242.7 L292.4,242.7 L291.7,242.6 L290.9,242.6 L290.2,242.6 L289.5,242.5 L288.8,242.5 L288.1,242.5 L287.4,242.5 L286.7,242.4 L286.0,242.4 L285.3,242.4 L284.6,242.4 L283.9,242.4 L283.2,242.4 L282.5,242.4 L281.8,242.4 L281.1,242.3 L280.4,242.3 L279.7,242.4 L279.0,242.4 L278.3,242.4 L277.6,242.4 L276.9,242.4 L276.2,242.4 L275.5,242.4 L274.8,242.4 L274.1,242.5 L273.4,242.5 L272.7,242.5 L272.0,242.5 L271.3,242.6 L270.6,242.6 L269.9,242.6 L269.2,242.7 L268.5,242.7 L267.8,242.8 L267.1,242.8 L266.4,242.9 L265.6,242.9 L264.9,243.0 L264.2,243.1 L263.5,243.1 L262.8,243.2 L262.1,243.3 L261.4,243.3 L260.7,243.4 L260.0,243.5 L259.3,243.6 L258.6,243.7 L257.9,243.7 L257.2,243.8 L256.5,243.9 L255.8,244.0 L255.1,244.1 L254.4,244.2 L253.7,244.3 L253.0,244.5 L252.3,244.6 L251.6,244.7 L250.9,244.8 L250.2,244.9 L249.5,245.1 L248.7,245.2 L248.0,245.3 L247.3,245.5 L246.6,245.6 L245.9,245.8 L245.2,245.9 L244.5,246.1 L243.8,246.2 L243.1,246.4 L242.4,246.5 L241.7,246.7 L241.0,246.9 L240.3,247.1 L239.5,247.3 L238.8,247.4 L238.1,247.6 L237.4,247.8 L236.7,248.0 L235.9,248.2 L235.2,248.4 L234.5,248.6 L233.8,248.8 L233.0,249.1 L232.3,249.3 L231.6,249.5 L230.9,249.7 L230.1,250.0 L229.4,250.2 L228.7,250.4 L227.9,250.7 L227.2,250.9 L226.5,251.2 L225.8,251.4 L225.0,251.7 L224.3,251.9 L223.6,252.2 L222.9,252.4 L222.1,252.7 L221.4,253.0 L220.7,253.2 L220.0,253.5 L219.2,253.8 L218.5,254.1 L217.8,254.3 L217.1,254.6 L216.4,254.9 L215.7,255.2 L215.0,255.5 L214.3,255.8 L213.6,256.1 L212.9,256.3 L212.2,256.6 L211.5,256.9 L210.8,257.2 L210.1,257.5 L209.4,257.8 L208.7,258.1 L208.0,258.4 L207.3,258.8 L206.7,259.1 L206.0,259.4 L205.3,259.7 L204.7,260.0 L204.0,260.3 L203.4,260.6 L202.7,260.9 L202.1,261.2 L201.4,261.6 L200.8,261.9 L200.2,262.2 L199.5,262.5 L198.9,262.8 L198.3,263.2 L197.6,263.5 L197.0,263.8 L196.4,264.2 L195.8,264.5 L195.2,264.8 L194.6,265.2 L194.0,265.5 L193.4,265.9 L192.8,266.2 L192.2,266.6 L191.6,266.9 L191.0,267.3 L190.4,267.6 L189.8,268.0 L189.2,268.3 L188.7,268.7 L188.1,269.0 L187.5,269.4 L186.9,269.8 L186.4,270.1 L185.8,270.5 L185.2,270.9 L184.6,271.3 L184.1,271.6 L183.5,272.0 L183.0,272.4 L182.4,272.8 L181.9,273.1 L181.3,273.5 L180.8,273.9 L180.2,274.3 L179.7,274.7 L179.1,275.1 L178.6,275.5 L178.0,275.9 L177.5,276.3 L177.0,276.7 L176.4,277.0 L175.9,277.4 L175.3,277.8 L174.8,278.3 L174.3,278.7 L173.8,279.1 L173.2,279.5 L172.7,279.9 L172.2,280.3 L171.7,280.7 L171.1,281.1 L170.6,281.5 L170.1,281.9 L169.6,282.3 L169.1,282.8 L168.5,283.2 L168.0,283.6 L167.5,284.0 L167.0,284.4 L166.5,284.9 L166.0,285.3 L165.4,285.7 L164.9,286.2 L164.4,286.6 L163.9,287.0 L163.4,287.5 L162.9,287.9 L162.4,288.4 L161.9,288.8 L161.4,289.3 L160.9,289.7 L160.4,290.2 L159.9,290.7 L159.4,291.1 L158.9,291.6 L158.4,292.0 L157.9,292.5 L157.4,293.0 L156.9,293.4 L156.4,293.9 L155.9,294.4 L155.4,294.9 L154.9,295.3 L154.5,295.8 L154.0,296.3 L153.5,296.8 L153.0,297.3 L152.6,297.7 L152.1,298.2 L151.6,298.7 L151.1,299.2 L150.7,299.7 L150.2,300.2 L149.7,300.6 L149.3,301.1 L148.8,301.6 L148.4,302.1 L147.9,302.6 L147.5,303.1 L147.0,303.5 L146.6,304.0 L146.1,304.5 L145.7,305.0 L145.2,305.5 L144.8,306.0 L144.4,306.5 L143.9,306.9 L143.5,307.4 L143.1,307.9 L142.7,308.4 L142.2,308.9 L141.8,309.3 L141.4,309.8 L141.0,310.3 L140.6,310.8 L140.2,311.3 L139.8,311.7 L139.4,312.2 L139.0,312.7 L138.6,313.1 L138.2,313.6 L137.8,314.1 L137.4,314.6 L137.0,315.0 L136.6,315.5 L136.3,316.0 L135.9,316.5 L135.5,317.0 L135.1,317.5 L134.8,317.9 L134.4,318.4 L134.0,318.9 L133.7,319.4 L133.3,319.9 L132.9,320.4 L132.6,320.9 L132.2,321.3 L131.9,321.8 L131.5,322.3 L131.2,322.8 L130.8,323.3 L130.5,323.8 L130.2,324.3 L129.8,324.7 L129.5,325.2 L129.2,325.7 L128.8,326.2 L128.5,326.7 L128.2,327.2 L127.9,327.6 L127.5,328.1 L127.2,328.6 L126.9,329.1 L126.6,329.6 L126.3,330.0 L126.0,330.5 L125.7,331.0 L125.4,331.5 L125.1,331.9 L124.8,332.4 L124.5,332.9 L124.2,333.3 L123.9,333.8 L123.6,334.3 L123.3,334.7 L123.0,335.2 L122.7,335.6 L122.5,336.1 L122.2,336.5 L121.9,337.0 L121.6,337.4 L121.4,337.9 L121.1,338.3 L120.8,338.7 L120.6,339.2 L120.3,339.6 L120.0,340.0 L119.8,340.5 L119.5,340.9 L119.3,341.3 L119.0,341.7 L118.8,342.1 L118.5,342.6 L118.3,343.0 L118.0,343.4 L117.8,343.8 L117.6,344.2 L117.3,344.6 L117.1,345.0 L116.9,345.4 L116.7,345.9 L116.5,346.3 L116.2,346.7 L116.0,347.1 L115.8,347.5 L115.6,347.9 L115.4,348.2 L115.2,348.6 L115.0,349.0 L114.8,349.4 L114.6,349.8 L114.4,350.2 L114.2,350.6 L114.0,351.0 L113.8,351.4 L113.6,351.7 L113.4,352.1 L113.3,352.5 L113.1,352.9 L112.9,353.2 L112.7,353.6 L112.6,354.0 L112.4,354.4 L112.2,354.7 L112.0,355.1 L111.9,355.5 L111.7,355.8 L111.5,356.2 L111.4,356.5 L111.2,356.9 L111.1,357.3 L110.9,357.6 L110.7,358.0 L110.6,358.3 L110.4,358.7 L110.3,359.0 L110.1,359.4 L110.0,359.7 L109.8,360.1 L109.7,360.4 L109.5,360.8 L109.4,361.1 L109.3,361.4 L109.1,361.8 L109.0,362.1 L108.8,362.4 L108.7,362.8 L108.6,363.1 L108.4,363.4 L108.3,363.8 L108.1,364.1 L108.0,364.5 L107.9,364.8 L107.7,365.1 L107.6,365.5 L107.5,365.8 L107.4,366.2 L107.2,366.5 L107.1,366.9 L107.0,367.2 L106.9,367.5 L106.8,367.9 L106.6,368.2 L106.5,368.6 L106.4,368.9 L106.3,369.3 L106.2,369.6 L106.1,369.9 L106.0,370.3 L105.9,370.6 L105.8,370.9 L105.7,371.3 L105.6,371.6 L105.5,371.9 L105.4,372.3 L105.3,372.6 L105.2,372.9 L105.1,373.2 L105.0,373.5 L104.9,373.9 L104.8,374.2 L104.8,374.5 L104.7,374.8 L104.6,375.1 L104.5,375.4 L104.4,375.6 L104.4,375.9 L104.3,376.2 L104.2,376.5 L104.1,376.7 L104.1,377.0 L104.0,377.3 L103.9,377.5 L103.9,377.8 L103.8,378.0 L103.7,378.3 L103.7,378.5 L103.6,378.7 L103.6,378.9 L103.5,379.1 L103.4,379.3 L103.4,379.5 L103.3,379.7 L103.3,379.9 L103.2,380.1 L103.2,380.2 L103.1,380.4 L103.1,380.6 L103.0,380.7 L105.0,381.3 L105.0,381.2 L105.1,381.0 L105.1,380.8 L105.2,380.7 L105.2,380.5 L105.3,380.3 L105.3,380.1 L105.4,379.9 L105.5,379.7 L105.5,379.5 L105.6,379.3 L105.6,379.0 L105.7,378.8 L105.8,378.6 L105.8,378.3 L105.9,378.1 L106.0,377.8 L106.1,377.6 L106.1,377.3 L106.2,377.0 L106.3,376.8 L106.4,376.5 L106.5,376.2 L106.5,375.9 L106.6,375.6 L106.7,375.3 L106.8,375.1 L106.9,374.8 L107.0,374.5 L107.1,374.1 L107.2,373.8 L107.3,373.5 L107.4,373.2 L107.5,372.9 L107.6,372.6 L107.7,372.3 L107.8,371.9 L107.9,371.6 L108.0,371.3 L108.1,371.0 L108.2,370.6 L108.3,370.3 L108.4,370.0 L108.5,369.6 L108.7,369.3 L108.8,369.0 L108.9,368.6 L109.0,368.3 L109.1,368.0 L109.3,367.6 L109.4,367.3 L109.5,367.0 L109.6,366.6 L109.8,366.3 L109.9,366.0 L110.0,365.7 L110.2,365.3 L110.3,365.0 L110.4,364.7 L110.6,364.4 L110.7,364.0 L110.9,363.7 L111.0,363.4 L111.2,363.0 L111.3,362.7 L111.4,362.4 L111.6,362.0 L111.7,361.7 L111.9,361.4 L112.0,361.0 L112.2,360.7 L112.4,360.4 L112.5,360.0 L112.7,359.7 L112.8,359.3 L113.0,359.0 L113.1,358.6 L113.3,358.3 L113.5,357.9 L113.6,357.6 L113.8,357.2 L114.0,356.9 L114.1,356.5 L114.3,356.2 L114.5,355.8 L114.7,355.4 L114.8,355.1 L115.0,354.7 L115.2,354.3 L115.4,354.0 L115.6,353.6 L115.7,353.2 L115.9,352.9 L116.1,352.5 L116.3,352.1 L116.5,351.8 L116.7,351.4 L116.9,351.0 L117.1,350.6 L117.3,350.2 L117.5,349.9 L117.7,349.5 L117.9,349.1 L118.1,348.7 L118.3,348.3 L118.6,347.9 L118.8,347.5 L119.0,347.2 L119.2,346.8 L119.5,346.4 L119.7,346.0 L119.9,345.6 L120.2,345.2 L120.4,344.8 L120.6,344.4 L120.9,344.0 L121.1,343.5 L121.4,343.1 L121.6,342.7 L121.9,342.3 L122.1,341.9 L122.4,341.5 L122.7,341.1 L122.9,340.6 L123.2,340.2 L123.5,339.8 L123.7,339.3 L124.0,338.9 L124.3,338.5 L124.6,338.0 L124.9,337.6 L125.1,337.1 L125.4,336.7 L125.7,336.2 L126.0,335.8 L126.3,335.3 L126.6,334.9 L126.9,334.4 L127.2,334.0 L127.5,333.5 L127.8,333.0 L128.1,332.6 L128.4,332.1 L128.7,331.7 L129.0,331.2 L129.4,330.7 L129.7,330.2 L130.0,329.8 L130.3,329.3 L130.6,328.8 L131.0,328.4 L131.3,327.9 L131.6,327.4 L132.0,326.9 L132.3,326.5 L132.6,326.0 L133.0,325.5 L133.3,325.1 L133.7,324.6 L134.0,324.1 L134.4,323.6 L134.7,323.2 L135.1,322.7 L135.4,322.2 L135.8,321.7 L136.1,321.3 L136.5,320.8 L136.9,320.3 L137.2,319.8 L137.6,319.4 L138.0,318.9 L138.3,318.4 L138.7,318.0 L139.1,317.5 L139.5,317.0 L139.9,316.6 L140.2,316.1 L140.6,315.6 L141.0,315.2 L141.4,314.7 L141.8,314.3 L142.2,313.8 L142.6,313.3 L143.0,312.9 L143.4,312.4 L143.8,311.9 L144.3,311.5 L144.7,311.0 L145.1,310.5 L145.5,310.1 L145.9,309.6 L146.4,309.1 L146.8,308.6 L147.2,308.2 L147.7,307.7 L148.1,307.2 L148.5,306.7 L149.0,306.3 L149.4,305.8 L149.9,305.3 L150.3,304.8 L150.8,304.4 L151.2,303.9 L151.7,303.4 L152.2,302.9 L152.6,302.5 L153.1,302.0 L153.5,301.5 L154.0,301.1 L154.5,300.6 L154.9,300.1 L155.4,299.6 L155.9,299.2 L156.4,298.7 L156.8,298.2 L157.3,297.8 L157.8,297.3 L158.3,296.8 L158.8,296.4 L159.3,295.9 L159.7,295.5 L160.2,295.0 L160.7,294.6 L161.2,294.1 L161.7,293.6 L162.2,293.2 L162.7,292.8 L163.2,292.3 L163.7,291.9 L164.2,291.4 L164.7,291.0 L165.2,290.5 L165.7,290.1 L166.2,289.7 L166.7,289.3 L167.2,288.8 L167.7,288.4 L168.2,288.0 L168.7,287.6 L169.2,287.2 L169.7,286.7 L170.2,286.3 L170.7,285.9 L171.3,285.5 L171.8,285.1 L172.3,284.7 L172.8,284.3 L173.3,283.9 L173.8,283.5 L174.3,283.1 L174.9,282.7 L175.4,282.3 L175.9,281.9 L176.4,281.5 L177.0,281.1 L177.5,280.7 L178.0,280.3 L178.5,279.9 L179.1,279.5 L179.6,279.1 L180.1,278.8 L180.7,278.4 L181.2,278.0 L181.7,277.6 L182.3,277.2 L182.8,276.8 L183.3,276.5 L183.9,276.1 L184.4,275.7 L185.0,275.4 L185.5,275.0 L186.1,274.6 L186.6,274.3 L187.2,273.9 L187.7,273.5 L188.3,273.2 L188.9,272.8 L189.4,272.5 L190.0,272.1 L190.6,271.7 L191.1,271.4 L191.7,271.0 L192.3,270.7 L192.8,270.4 L193.4,270.0 L194.0,269.7 L194.6,269.3 L195.2,269.0 L195.8,268.7 L196.4,268.3 L196.9,268.0 L197.5,267.7 L198.1,267.3 L198.7,267.0 L199.3,266.7 L200.0,266.4 L200.6,266.1 L201.2,265.7 L201.8,265.4 L202.4,265.1 L203.0,264.8 L203.7,264.5 L204.3,264.2 L204.9,263.9 L205.6,263.6 L206.2,263.3 L206.9,263.0 L207.5,262.7 L208.2,262.4 L208.8,262.1 L209.5,261.8 L210.2,261.5 L210.9,261.2 L211.5,260.9 L212.2,260.6 L212.9,260.3 L213.6,260.0 L214.3,259.7 L214.9,259.4 L215.6,259.1 L216.3,258.8 L217.0,258.5 L217.7,258.3 L218.4,258.0 L219.1,257.7 L219.8,257.4 L220.5,257.2 L221.2,256.9 L222.0,256.6 L222.7,256.4 L223.4,256.1 L224.1,255.8 L224.8,255.6 L225.5,255.3 L226.2,255.1 L226.9,254.8 L227.6,254.6 L228.4,254.3 L229.1,254.1 L229.8,253.8 L230.5,253.6 L231.2,253.4 L231.9,253.1 L232.6,252.9 L233.4,252.7 L234.1,252.5 L234.8,252.3 L235.5,252.1 L236.2,251.8 L236.9,251.6 L237.6,251.4 L238.3,251.2 L239.0,251.1 L239.7,250.9 L240.4,250.7 L241.1,250.5 L241.8,250.3 L242.5,250.2 L243.2,250.0 L243.9,249.8 L244.6,249.7 L245.3,249.5 L246.0,249.3 L246.7,249.2 L247.3,249.0 L248.0,248.9 L248.7,248.8 L249.4,248.6 L250.1,248.5 L250.8,248.4 L251.5,248.2 L252.2,248.1 L252.9,248.0 L253.5,247.9 L254.2,247.8 L254.9,247.7 L255.6,247.5 L256.3,247.4 L257.0,247.3 L257.7,247.2 L258.4,247.2 L259.0,247.1 L259.7,247.0 L260.4,246.9 L261.1,246.8 L261.8,246.7 L262.5,246.6 L263.2,246.6 L263.9,246.5 L264.6,246.4 L265.2,246.4 L265.9,246.3 L266.6,246.2 L267.3,246.2 L268.0,246.1 L268.7,246.1 L269.4,246.0 L270.1,246.0 L270.8,245.9 L271.5,245.9 L272.1,245.9 L272.8,245.8 L273.5,245.8 L274.2,245.8 L274.9,245.7 L275.6,245.7 L276.3,245.7 L277.0,245.7 L277.7,245.6 L278.4,245.6 L279.0,245.6 L279.7,245.6 L280.4,245.6 L281.1,245.6 L281.8,245.6 L282.5,245.6 L283.2,245.6 L283.9,245.6 L284.6,245.6 L285.3,245.6 L286.0,245.6 L286.7,245.6 L287.4,245.6 L288.0,245.6 L288.7,245.7 L289.4,245.7 L290.1,245.7 L290.8,245.7 L291.5,245.8 L292.2,245.8 L292.9,245.8 L293.6,245.9 L294.3,245.9 L295.0,245.9 L295.7,246.0 L296.4,246.0 L297.1,246.1 L297.7,246.1 L298.4,246.2 L299.1,246.2 L299.8,246.3 L300.5,246.3 L301.2,246.4 L301.9,246.5 L302.6,246.5 L303.3,246.6 L304.0,246.7 L304.7,246.7 L305.4,246.8 L306.1,246.9 L306.8,247.0 L307.5,247.1 L308.1,247.2 L308.8,247.3 L309.5,247.4 L310.2,247.5 L310.9,247.6 L311.6,247.7 L312.3,247.8 L313.0,247.9 L313.7,248.0 L314.4,248.1 L315.1,248.2 L315.8,248.4 L316.5,248.5 L317.2,248.6 L317.9,248.7 L318.5,248.9 L319.2,249.0 L319.9,249.2 L320.6,249.3 L321.3,249.5 L322.0,249.6 L322.7,249.8 L323.4,249.9 L324.1,250.1 L324.8,250.3 L325.5,250.4 L326.2,250.6 L326.9,250.8 L327.6,251.0 L328.2,251.1 L328.9,251.3 L329.6,251.5 L330.4,251.7 L331.1,251.9 L331.8,252.2 L332.5,252.4 L333.2,252.6 L333.9,252.8 L334.6,253.1 L335.4,253.3 L336.1,253.5 L336.8,253.8 L337.5,254.0 L338.3,254.3 L339.0,254.5 L339.7,254.8 L340.5,255.1 L341.2,255.3 L341.9,255.6 L342.6,255.9 L343.4,256.2 L344.1,256.4 L344.8,256.7 L345.6,257.0 L346.3,257.3 L347.0,257.6 L347.7,257.9 L348.5,258.2 L349.2,258.4 L349.9,258.7 L350.6,259.0 L351.3,259.3 L352.0,259.6 L352.8,259.9 L353.5,260.2 L354.2,260.5 L354.9,260.8 L355.6,261.1 L356.3,261.5 L357.0,261.8 L357.6,262.1 L358.3,262.4 L359.0,262.7 L359.7,263.0 L360.4,263.3 L361.0,263.6 L361.7,263.9 L362.3,264.2 L363.0,264.5 L363.6,264.8 L364.3,265.1 L364.9,265.4 L365.5,265.7 L366.2,266.0 L366.8,266.3 L367.4,266.5 L368.0,266.8 L368.6,267.1 L369.2,267.4 L369.8,267.7 L370.4,268.0 L371.0,268.3 L371.6,268.6 L372.2,268.9 L372.8,269.2 L373.3,269.5 L373.9,269.9 L374.5,270.2 L375.1,270.5 L375.7,270.8 L376.3,271.2 L376.9,271.5 L377.5,271.8 L378.1,272.2 L378.7,272.5 L379.2,272.9 L379.8,273.2 L380.4,273.6 L381.0,273.9 L381.5,274.2 L382.1,274.6 L382.6,274.9 L383.2,275.3 L383.7,275.6 L384.3,276.0 L384.8,276.3 L385.4,276.6 L385.9,277.0 L386.4,277.3 L386.9,277.6 L387.4,278.0 L387.9,278.3 L388.4,278.6 L388.9,278.9 L389.4,279.2 L389.9,279.6 L390.4,279.9 L390.8,280.2 L391.3,280.5 L391.7,280.8 L392.2,281.0 L392.6,281.3 L393.0,281.6 L393.4,281.9 L393.8,282.1 L394.2,282.4 L394.6,282.6 L395.0,282.9 L395.3,283.1 L395.7,283.3 L396.0,283.5 L396.3,283.8 L396.6,284.0 L396.9,284.1 L397.2,284.3 L397.5,284.5 L397.8,284.7 L398.0,284.8Z" fill="#120b09"/><path d="M105.5,381.9 L103.9,345.8 L101.3,345.8 L102.5,382.1Z" fill="#120b09"/><circle cx="102.6" cy="345.8" r="1.275" fill="#120b09"/><path d="M105,383.2 L136.6,357.7 L135.4,356.3 L103,380.8Z" fill="#120b09"/><circle cx="136" cy="357" r="0.8999999999999999" fill="#120b09"/><circle cx="104" cy="382" r="1.6500000000000001" fill="#120b09"/><path d="M435.4,549.8 L435.2,549.9 L435.0,550.0 L434.9,550.1 L434.7,550.2 L434.5,550.3 L434.2,550.4 L434.0,550.5 L433.8,550.6 L433.6,550.8 L433.3,550.9 L433.1,551.0 L432.8,551.2 L432.6,551.3 L432.3,551.4 L432.1,551.6 L431.8,551.7 L431.5,551.9 L431.2,552.0 L430.9,552.2 L430.6,552.4 L430.3,552.5 L430.0,552.7 L429.7,552.8 L429.4,553.0 L429.1,553.2 L428.8,553.4 L428.4,553.5 L428.1,553.7 L427.8,553.9 L427.4,554.1 L427.1,554.2 L426.8,554.4 L426.4,554.6 L426.1,554.8 L425.7,554.9 L425.4,555.1 L425.0,555.3 L424.6,555.5 L424.3,555.7 L423.9,555.8 L423.6,556.0 L423.2,556.2 L422.8,556.4 L422.5,556.5 L422.1,556.7 L421.7,556.9 L421.4,557.0 L421.0,557.2 L420.6,557.4 L420.3,557.5 L419.9,557.7 L419.5,557.9 L419.2,558.0 L418.8,558.2 L418.5,558.3 L418.1,558.5 L417.7,558.6 L417.4,558.7 L417.0,558.9 L416.7,559.0 L416.3,559.1 L416.0,559.3 L415.6,559.4 L415.2,559.5 L414.8,559.7 L414.5,559.8 L414.1,559.9 L413.7,560.1 L413.3,560.2 L412.9,560.3 L412.5,560.5 L412.1,560.6 L411.7,560.7 L411.4,560.9 L411.0,561.0 L410.6,561.1 L410.1,561.3 L409.7,561.4 L409.3,561.5 L408.9,561.7 L408.5,561.8 L408.1,561.9 L407.7,562.1 L407.3,562.2 L406.9,562.3 L406.4,562.4 L406.0,562.6 L405.6,562.7 L405.2,562.8 L404.8,562.9 L404.4,563.0 L403.9,563.2 L403.5,563.3 L403.1,563.4 L402.7,563.5 L402.2,563.6 L401.8,563.7 L401.4,563.9 L401.0,564.0 L400.5,564.1 L400.1,564.2 L399.7,564.3 L399.3,564.4 L398.9,564.5 L398.4,564.6 L398.0,564.7 L397.6,564.8 L397.2,564.9 L396.7,565.0 L396.3,565.0 L395.9,565.1 L395.5,565.2 L395.1,565.3 L394.7,565.4 L394.3,565.5 L393.8,565.5 L393.4,565.6 L393.0,565.7 L392.6,565.7 L392.2,565.8 L391.8,565.9 L391.4,565.9 L391.0,566.0 L390.6,566.1 L390.2,566.1 L389.8,566.2 L389.4,566.2 L388.9,566.3 L388.5,566.4 L388.1,566.4 L387.7,566.5 L387.3,566.5 L386.9,566.6 L386.5,566.6 L386.1,566.7 L385.7,566.7 L385.3,566.7 L384.9,566.8 L384.5,566.8 L384.1,566.9 L383.7,566.9 L383.3,566.9 L382.9,567.0 L382.4,567.0 L382.0,567.0 L381.6,567.1 L381.2,567.1 L380.8,567.1 L380.4,567.2 L380.0,567.2 L379.6,567.2 L379.2,567.2 L378.8,567.2 L378.4,567.2 L378.0,567.3 L377.6,567.3 L377.2,567.3 L376.8,567.3 L376.4,567.3 L376.0,567.3 L375.6,567.3 L375.2,567.3 L374.8,567.3 L374.4,567.3 L374.0,567.3 L373.6,567.2 L373.2,567.2 L372.8,567.2 L372.4,567.2 L372.0,567.2 L371.6,567.1 L371.2,567.1 L370.7,567.1 L370.3,567.0 L369.9,567.0 L369.5,567.0 L369.1,566.9 L368.7,566.9 L368.3,566.8 L367.9,566.8 L367.5,566.7 L367.1,566.7 L366.7,566.6 L366.3,566.6 L365.9,566.5 L365.5,566.4 L365.1,566.4 L364.7,566.3 L364.2,566.2 L363.8,566.2 L363.4,566.1 L363.0,566.0 L362.6,565.9 L362.2,565.8 L361.8,565.7 L361.3,565.7 L360.9,565.6 L360.5,565.5 L360.1,565.4 L359.7,565.3 L359.3,565.2 L358.8,565.1 L358.4,565.0 L358.0,564.9 L357.6,564.8 L357.2,564.6 L356.8,564.5 L356.3,564.4 L355.9,564.3 L355.5,564.2 L355.1,564.0 L354.7,563.9 L354.3,563.8 L353.9,563.7 L353.4,563.5 L353.0,563.4 L352.6,563.3 L352.2,563.1 L351.8,563.0 L351.4,562.9 L351.0,562.7 L350.6,562.6 L350.2,562.4 L349.8,562.3 L349.4,562.1 L349.0,562.0 L348.6,561.8 L348.2,561.6 L347.8,561.5 L347.4,561.3 L347.0,561.2 L346.6,561.0 L346.2,560.8 L345.8,560.7 L345.4,560.5 L345.0,560.3 L344.6,560.1 L344.2,560.0 L343.8,559.8 L343.5,559.6 L343.1,559.4 L342.7,559.3 L342.3,559.1 L342.0,558.9 L341.6,558.7 L341.2,558.5 L340.8,558.3 L340.5,558.1 L340.1,557.9 L339.7,557.7 L339.4,557.5 L339.0,557.3 L338.6,557.1 L338.2,556.8 L337.9,556.6 L337.5,556.4 L337.1,556.2 L336.8,556.0 L336.4,555.7 L336.1,555.5 L335.7,555.3 L335.3,555.1 L335.0,554.8 L334.6,554.6 L334.3,554.4 L333.9,554.1 L333.5,553.9 L333.2,553.6 L332.8,553.4 L332.5,553.1 L332.1,552.9 L331.8,552.6 L331.4,552.4 L331.1,552.1 L330.7,551.9 L330.4,551.6 L330.0,551.4 L329.7,551.1 L329.3,550.8 L329.0,550.6 L328.6,550.3 L328.3,550.0 L327.9,549.8 L327.6,549.5 L327.2,549.2 L326.9,549.0 L326.6,548.7 L326.2,548.4 L325.9,548.2 L325.5,547.9 L325.2,547.6 L324.9,547.3 L324.5,547.0 L324.2,546.8 L323.9,546.5 L323.5,546.2 L323.2,545.9 L322.9,545.6 L322.5,545.4 L322.2,545.1 L321.9,544.8 L321.5,544.5 L321.2,544.2 L320.9,543.9 L320.6,543.6 L320.2,543.3 L319.9,543.0 L319.6,542.7 L319.3,542.4 L318.9,542.1 L318.6,541.8 L318.3,541.5 L318.0,541.2 L317.7,540.9 L317.3,540.6 L317.0,540.2 L316.7,539.9 L316.4,539.6 L316.1,539.3 L315.7,539.0 L315.4,538.6 L315.1,538.3 L314.8,538.0 L314.5,537.7 L314.2,537.3 L313.9,537.0 L313.6,536.7 L313.3,536.3 L312.9,536.0 L312.6,535.7 L312.3,535.3 L312.0,535.0 L311.7,534.6 L311.4,534.3 L311.1,534.0 L310.8,533.6 L310.5,533.3 L310.2,533.0 L309.9,532.6 L309.6,532.3 L309.3,531.9 L309.0,531.6 L308.8,531.3 L308.5,530.9 L308.2,530.6 L307.9,530.2 L307.6,529.9 L307.3,529.6 L307.0,529.2 L306.8,528.9 L306.5,528.5 L306.2,528.2 L305.9,527.9 L305.6,527.5 L305.4,527.2 L305.1,526.9 L304.8,526.5 L304.6,526.2 L304.3,525.9 L304.0,525.6 L303.8,525.2 L303.5,524.9 L303.3,524.6 L303.0,524.2 L302.7,523.9 L302.5,523.6 L302.2,523.3 L302.0,522.9 L301.7,522.6 L301.5,522.3 L301.2,521.9 L301.0,521.6 L300.7,521.3 L300.5,520.9 L300.3,520.6 L300.0,520.3 L299.8,519.9 L299.5,519.6 L299.3,519.3 L299.1,519.0 L298.8,518.6 L298.6,518.3 L298.4,518.0 L298.1,517.6 L297.9,517.3 L297.7,517.0 L297.4,516.6 L297.2,516.3 L297.0,516.0 L296.8,515.6 L296.5,515.3 L296.3,515.0 L296.1,514.6 L295.9,514.3 L295.7,514.0 L295.5,513.6 L295.2,513.3 L295.0,513.0 L294.8,512.7 L294.6,512.3 L294.4,512.0 L294.2,511.7 L294.0,511.3 L293.8,511.0 L293.6,510.7 L293.4,510.4 L293.2,510.0 L293.0,509.7 L292.8,509.4 L292.6,509.1 L292.4,508.7 L292.2,508.4 L292.0,508.1 L291.8,507.8 L291.6,507.5 L291.5,507.1 L291.3,506.8 L291.1,506.5 L290.9,506.2 L290.7,505.9 L290.5,505.6 L290.4,505.3 L290.2,504.9 L290.0,504.6 L289.9,504.3 L289.7,504.0 L289.5,503.7 L289.3,503.4 L289.2,503.0 L289.0,502.7 L288.9,502.4 L288.7,502.1 L288.5,501.8 L288.4,501.4 L288.2,501.1 L288.1,500.8 L287.9,500.5 L287.8,500.1 L287.6,499.8 L287.5,499.5 L287.3,499.2 L287.2,498.9 L287.0,498.5 L286.9,498.2 L286.7,497.9 L286.6,497.6 L286.4,497.3 L286.3,497.0 L286.2,496.6 L286.0,496.3 L285.9,496.0 L285.8,495.7 L285.6,495.4 L285.5,495.1 L285.4,494.8 L285.2,494.5 L285.1,494.2 L285.0,493.9 L284.8,493.6 L284.7,493.3 L284.6,493.0 L284.5,492.7 L284.3,492.4 L284.2,492.1 L284.1,491.8 L284.0,491.5 L283.9,491.2 L283.7,491.0 L283.6,490.7 L283.5,490.4 L283.4,490.1 L283.3,489.9 L283.2,489.6 L283.0,489.3 L282.9,489.1 L282.8,488.8 L282.7,488.6 L282.6,488.3 L282.5,488.1 L282.4,487.8 L282.3,487.6 L282.2,487.3 L282.1,487.1 L282.0,486.9 L281.8,486.6 L281.7,486.4 L281.6,486.2 L281.5,485.9 L281.4,485.7 L281.3,485.5 L281.2,485.3 L281.2,485.0 L281.1,484.8 L281.0,484.6 L280.9,484.4 L280.8,484.2 L280.7,483.9 L280.6,483.7 L280.5,483.5 L280.4,483.3 L280.3,483.1 L280.2,482.9 L280.2,482.7 L280.1,482.5 L280.0,482.3 L279.9,482.1 L279.8,481.9 L279.7,481.7 L279.7,481.5 L279.6,481.4 L279.5,481.2 L279.4,481.0 L279.4,480.8 L279.3,480.6 L279.2,480.5 L279.1,480.3 L279.1,480.1 L279.0,480.0 L278.9,479.8 L278.9,479.7 L278.8,479.5 L278.7,479.3 L278.7,479.2 L278.6,479.0 L278.6,478.9 L278.5,478.8 L278.4,478.6 L278.4,478.5 L278.3,478.4 L278.3,478.2 L278.2,478.1 L278.2,478.0 L278.1,477.9 L278.1,477.8 L278.0,477.6 L278.0,477.5 L278.0,477.4 L277.9,477.3 L277.9,477.2 L277.8,477.2 L276.2,477.8 L276.2,477.9 L276.2,478.0 L276.3,478.1 L276.3,478.2 L276.4,478.3 L276.4,478.4 L276.5,478.6 L276.5,478.7 L276.6,478.8 L276.6,478.9 L276.7,479.0 L276.7,479.2 L276.8,479.3 L276.8,479.5 L276.9,479.6 L276.9,479.7 L277.0,479.9 L277.1,480.0 L277.1,480.2 L277.2,480.3 L277.2,480.5 L277.3,480.7 L277.4,480.8 L277.4,481.0 L277.5,481.2 L277.6,481.3 L277.7,481.5 L277.7,481.7 L277.8,481.9 L277.9,482.1 L278.0,482.3 L278.0,482.4 L278.1,482.6 L278.2,482.8 L278.3,483.0 L278.4,483.2 L278.4,483.4 L278.5,483.6 L278.6,483.8 L278.7,484.0 L278.8,484.3 L278.9,484.5 L279.0,484.7 L279.0,484.9 L279.1,485.1 L279.2,485.3 L279.3,485.6 L279.4,485.8 L279.5,486.0 L279.6,486.2 L279.7,486.5 L279.8,486.7 L279.9,486.9 L280.0,487.2 L280.1,487.4 L280.2,487.6 L280.3,487.9 L280.4,488.1 L280.5,488.3 L280.6,488.6 L280.7,488.8 L280.8,489.1 L280.9,489.3 L281.0,489.6 L281.2,489.8 L281.3,490.1 L281.4,490.3 L281.5,490.6 L281.6,490.9 L281.7,491.2 L281.8,491.4 L281.9,491.7 L282.1,492.0 L282.2,492.3 L282.3,492.6 L282.4,492.8 L282.5,493.1 L282.6,493.4 L282.8,493.7 L282.9,494.0 L283.0,494.3 L283.1,494.6 L283.3,494.9 L283.4,495.2 L283.5,495.6 L283.6,495.9 L283.8,496.2 L283.9,496.5 L284.0,496.8 L284.2,497.1 L284.3,497.4 L284.4,497.8 L284.6,498.1 L284.7,498.4 L284.9,498.7 L285.0,499.1 L285.2,499.4 L285.3,499.7 L285.4,500.0 L285.6,500.4 L285.7,500.7 L285.9,501.0 L286.0,501.3 L286.2,501.7 L286.4,502.0 L286.5,502.3 L286.7,502.7 L286.8,503.0 L287.0,503.3 L287.2,503.7 L287.3,504.0 L287.5,504.3 L287.7,504.6 L287.8,505.0 L288.0,505.3 L288.2,505.6 L288.3,505.9 L288.5,506.3 L288.7,506.6 L288.9,506.9 L289.1,507.2 L289.2,507.6 L289.4,507.9 L289.6,508.2 L289.8,508.5 L290.0,508.9 L290.2,509.2 L290.4,509.5 L290.5,509.8 L290.7,510.2 L290.9,510.5 L291.1,510.8 L291.3,511.2 L291.5,511.5 L291.7,511.8 L291.9,512.2 L292.1,512.5 L292.3,512.8 L292.5,513.2 L292.7,513.5 L293.0,513.8 L293.2,514.2 L293.4,514.5 L293.6,514.8 L293.8,515.2 L294.0,515.5 L294.2,515.9 L294.5,516.2 L294.7,516.5 L294.9,516.9 L295.1,517.2 L295.3,517.6 L295.6,517.9 L295.8,518.2 L296.0,518.6 L296.2,518.9 L296.5,519.2 L296.7,519.6 L296.9,519.9 L297.2,520.3 L297.4,520.6 L297.7,521.0 L297.9,521.3 L298.1,521.6 L298.4,522.0 L298.6,522.3 L298.9,522.7 L299.1,523.0 L299.4,523.3 L299.6,523.7 L299.9,524.0 L300.1,524.3 L300.4,524.7 L300.6,525.0 L300.9,525.4 L301.1,525.7 L301.4,526.0 L301.6,526.4 L301.9,526.7 L302.2,527.0 L302.4,527.4 L302.7,527.7 L303.0,528.1 L303.2,528.4 L303.5,528.7 L303.8,529.1 L304.0,529.4 L304.3,529.8 L304.6,530.1 L304.9,530.4 L305.1,530.8 L305.4,531.1 L305.7,531.5 L306.0,531.8 L306.3,532.2 L306.6,532.5 L306.9,532.9 L307.1,533.2 L307.4,533.6 L307.7,533.9 L308.0,534.2 L308.3,534.6 L308.6,534.9 L308.9,535.3 L309.2,535.6 L309.5,536.0 L309.8,536.3 L310.1,536.7 L310.4,537.0 L310.7,537.4 L311.0,537.7 L311.4,538.1 L311.7,538.4 L312.0,538.7 L312.3,539.1 L312.6,539.4 L312.9,539.8 L313.2,540.1 L313.5,540.4 L313.9,540.8 L314.2,541.1 L314.5,541.4 L314.8,541.8 L315.1,542.1 L315.5,542.4 L315.8,542.8 L316.1,543.1 L316.4,543.4 L316.8,543.7 L317.1,544.0 L317.4,544.4 L317.7,544.7 L318.1,545.0 L318.4,545.3 L318.7,545.6 L319.1,545.9 L319.4,546.2 L319.7,546.5 L320.1,546.8 L320.4,547.1 L320.7,547.4 L321.1,547.7 L321.4,548.0 L321.7,548.3 L322.1,548.6 L322.4,548.9 L322.7,549.2 L323.1,549.5 L323.4,549.7 L323.8,550.0 L324.1,550.3 L324.5,550.6 L324.8,550.9 L325.1,551.2 L325.5,551.4 L325.8,551.7 L326.2,552.0 L326.5,552.3 L326.9,552.6 L327.2,552.8 L327.6,553.1 L327.9,553.4 L328.3,553.6 L328.6,553.9 L329.0,554.2 L329.4,554.5 L329.7,554.7 L330.1,555.0 L330.4,555.2 L330.8,555.5 L331.2,555.8 L331.5,556.0 L331.9,556.3 L332.2,556.5 L332.6,556.8 L333.0,557.0 L333.4,557.3 L333.7,557.5 L334.1,557.8 L334.5,558.0 L334.8,558.2 L335.2,558.5 L335.6,558.7 L336.0,559.0 L336.3,559.2 L336.7,559.4 L337.1,559.6 L337.5,559.9 L337.9,560.1 L338.2,560.3 L338.6,560.5 L339.0,560.7 L339.4,561.0 L339.8,561.2 L340.2,561.4 L340.6,561.6 L341.0,561.8 L341.3,562.0 L341.7,562.2 L342.1,562.4 L342.5,562.6 L342.9,562.8 L343.3,563.0 L343.7,563.1 L344.1,563.3 L344.5,563.5 L344.9,563.7 L345.3,563.9 L345.7,564.0 L346.2,564.2 L346.6,564.4 L347.0,564.6 L347.4,564.7 L347.8,564.9 L348.2,565.1 L348.6,565.2 L349.1,565.4 L349.5,565.5 L349.9,565.7 L350.3,565.9 L350.7,566.0 L351.2,566.2 L351.6,566.3 L352.0,566.5 L352.4,566.6 L352.9,566.7 L353.3,566.9 L353.7,567.0 L354.1,567.2 L354.6,567.3 L355.0,567.4 L355.4,567.6 L355.9,567.7 L356.3,567.8 L356.7,567.9 L357.2,568.0 L357.6,568.2 L358.0,568.3 L358.5,568.4 L358.9,568.5 L359.3,568.6 L359.7,568.7 L360.2,568.8 L360.6,568.9 L361.0,569.0 L361.5,569.1 L361.9,569.2 L362.3,569.3 L362.8,569.4 L363.2,569.5 L363.6,569.6 L364.1,569.6 L364.5,569.7 L364.9,569.8 L365.3,569.9 L365.8,569.9 L366.2,570.0 L366.6,570.1 L367.0,570.1 L367.5,570.2 L367.9,570.3 L368.3,570.3 L368.7,570.4 L369.2,570.4 L369.6,570.5 L370.0,570.5 L370.4,570.6 L370.9,570.6 L371.3,570.6 L371.7,570.7 L372.1,570.7 L372.6,570.7 L373.0,570.7 L373.4,570.8 L373.8,570.8 L374.3,570.8 L374.7,570.8 L375.1,570.8 L375.5,570.8 L376.0,570.9 L376.4,570.9 L376.8,570.9 L377.2,570.9 L377.6,570.9 L378.1,570.9 L378.5,570.8 L378.9,570.8 L379.3,570.8 L379.8,570.8 L380.2,570.8 L380.6,570.8 L381.0,570.8 L381.4,570.7 L381.9,570.7 L382.3,570.7 L382.7,570.7 L383.1,570.6 L383.6,570.6 L384.0,570.6 L384.4,570.6 L384.8,570.5 L385.2,570.5 L385.7,570.4 L386.1,570.4 L386.5,570.4 L386.9,570.3 L387.3,570.3 L387.8,570.2 L388.2,570.2 L388.6,570.1 L389.0,570.1 L389.4,570.0 L389.9,570.0 L390.3,569.9 L390.7,569.9 L391.1,569.8 L391.5,569.8 L391.9,569.7 L392.4,569.7 L392.8,569.6 L393.2,569.5 L393.6,569.5 L394.1,569.4 L394.5,569.3 L394.9,569.3 L395.4,569.2 L395.8,569.1 L396.2,569.0 L396.7,568.9 L397.1,568.9 L397.5,568.8 L398.0,568.7 L398.4,568.6 L398.8,568.5 L399.3,568.4 L399.7,568.3 L400.2,568.2 L400.6,568.1 L401.0,568.0 L401.5,567.9 L401.9,567.8 L402.4,567.7 L402.8,567.6 L403.2,567.5 L403.7,567.4 L404.1,567.3 L404.5,567.2 L405.0,567.0 L405.4,566.9 L405.9,566.8 L406.3,566.7 L406.7,566.6 L407.2,566.5 L407.6,566.3 L408.0,566.2 L408.4,566.1 L408.9,566.0 L409.3,565.8 L409.7,565.7 L410.1,565.6 L410.6,565.5 L411.0,565.3 L411.4,565.2 L411.8,565.1 L412.2,565.0 L412.6,564.8 L413.0,564.7 L413.4,564.6 L413.9,564.4 L414.3,564.3 L414.7,564.2 L415.0,564.0 L415.4,563.9 L415.8,563.8 L416.2,563.6 L416.6,563.5 L417.0,563.4 L417.4,563.3 L417.7,563.1 L418.1,563.0 L418.5,562.9 L418.9,562.7 L419.3,562.6 L419.7,562.4 L420.0,562.3 L420.4,562.1 L420.8,562.0 L421.2,561.8 L421.6,561.7 L422.0,561.5 L422.4,561.3 L422.8,561.2 L423.1,561.0 L423.5,560.8 L423.9,560.7 L424.3,560.5 L424.7,560.3 L425.1,560.1 L425.4,560.0 L425.8,559.8 L426.2,559.6 L426.6,559.4 L426.9,559.2 L427.3,559.1 L427.7,558.9 L428.0,558.7 L428.4,558.5 L428.8,558.4 L429.1,558.2 L429.5,558.0 L429.8,557.8 L430.2,557.7 L430.5,557.5 L430.8,557.3 L431.2,557.2 L431.5,557.0 L431.8,556.8 L432.1,556.7 L432.4,556.5 L432.7,556.3 L433.0,556.2 L433.3,556.0 L433.6,555.9 L433.9,555.7 L434.2,555.6 L434.5,555.5 L434.7,555.3 L435.0,555.2 L435.2,555.1 L435.5,554.9 L435.7,554.8 L435.9,554.7 L436.1,554.6 L436.3,554.5 L436.5,554.4 L436.7,554.3 L436.9,554.2 L437.1,554.1 L437.2,554.0 L437.4,554.0Z" fill="#120b09"/><circle cx="436.4" cy="551.9" r="2.3" fill="#120b09"/><path d="M275,476.2 L267,512.7 L269.6,513.3 L278.2,477Z" fill="#120b09"/><circle cx="268.3" cy="513" r="1.36" fill="#120b09"/><path d="M275.4,477.8 L301.5,503.7 L302.9,502.3 L277.8,475.4Z" fill="#120b09"/><circle cx="302.2" cy="503" r="0.96" fill="#120b09"/><circle cx="276.6" cy="476.6" r="1.7600000000000002" fill="#120b09"/><path d="M741.6,663.0 L741.4,662.9 L741.2,662.7 L741.0,662.5 L740.8,662.3 L740.6,662.1 L740.3,661.9 L740.1,661.7 L739.8,661.5 L739.6,661.3 L739.3,661.0 L739.0,660.8 L738.7,660.5 L738.4,660.3 L738.1,660.0 L737.8,659.7 L737.5,659.4 L737.1,659.2 L736.8,658.9 L736.5,658.6 L736.1,658.3 L735.8,658.0 L735.4,657.7 L735.0,657.3 L734.7,657.0 L734.3,656.7 L733.9,656.4 L733.5,656.0 L733.1,655.7 L732.7,655.4 L732.3,655.0 L731.9,654.7 L731.5,654.3 L731.1,654.0 L730.7,653.6 L730.3,653.3 L729.8,652.9 L729.4,652.5 L729.0,652.2 L728.6,651.8 L728.1,651.5 L727.7,651.1 L727.3,650.7 L726.8,650.4 L726.4,650.0 L726.0,649.7 L725.5,649.3 L725.1,649.0 L724.7,648.6 L724.2,648.2 L723.8,647.9 L723.4,647.5 L722.9,647.2 L722.5,646.8 L722.1,646.5 L721.6,646.2 L721.2,645.8 L720.8,645.5 L720.4,645.2 L719.9,644.8 L719.5,644.5 L719.1,644.2 L718.7,643.9 L718.3,643.5 L717.9,643.2 L717.4,642.9 L717.0,642.6 L716.6,642.2 L716.2,641.9 L715.7,641.5 L715.3,641.2 L714.9,640.9 L714.4,640.5 L714.0,640.2 L713.6,639.8 L713.1,639.5 L712.7,639.1 L712.3,638.8 L711.8,638.4 L711.4,638.1 L710.9,637.7 L710.5,637.4 L710.0,637.0 L709.6,636.6 L709.1,636.3 L708.7,635.9 L708.2,635.6 L707.8,635.2 L707.3,634.9 L706.8,634.5 L706.4,634.2 L705.9,633.8 L705.4,633.5 L705.0,633.1 L704.5,632.8 L704.0,632.4 L703.6,632.1 L703.1,631.7 L702.6,631.4 L702.1,631.1 L701.6,630.7 L701.2,630.4 L700.7,630.0 L700.2,629.7 L699.7,629.4 L699.2,629.1 L698.7,628.7 L698.2,628.4 L697.7,628.1 L697.2,627.8 L696.7,627.5 L696.2,627.2 L695.7,626.9 L695.2,626.6 L694.7,626.3 L694.2,626.0 L693.7,625.7 L693.2,625.4 L692.7,625.1 L692.2,624.9 L691.6,624.6 L691.1,624.3 L690.6,624.1 L690.1,623.8 L689.6,623.6 L689.1,623.3 L688.5,623.1 L688.0,622.8 L687.5,622.6 L686.9,622.3 L686.4,622.1 L685.9,621.9 L685.3,621.6 L684.8,621.4 L684.3,621.2 L683.7,620.9 L683.2,620.7 L682.7,620.5 L682.1,620.3 L681.6,620.1 L681.0,619.9 L680.5,619.6 L679.9,619.4 L679.4,619.2 L678.8,619.0 L678.3,618.8 L677.7,618.6 L677.2,618.4 L676.6,618.2 L676.0,618.0 L675.5,617.8 L674.9,617.7 L674.3,617.5 L673.8,617.3 L673.2,617.1 L672.6,616.9 L672.1,616.7 L671.5,616.6 L670.9,616.4 L670.3,616.2 L669.8,616.0 L669.2,615.9 L668.6,615.7 L668.0,615.5 L667.4,615.4 L666.9,615.2 L666.3,615.1 L665.7,614.9 L665.1,614.8 L664.5,614.6 L663.9,614.4 L663.3,614.3 L662.7,614.1 L662.1,614.0 L661.5,613.9 L660.9,613.7 L660.3,613.6 L659.7,613.4 L659.1,613.3 L658.5,613.2 L657.9,613.0 L657.3,612.9 L656.7,612.8 L656.1,612.6 L655.5,612.5 L654.8,612.4 L654.2,612.3 L653.6,612.1 L653.0,612.0 L652.3,611.9 L651.7,611.8 L651.1,611.6 L650.4,611.5 L649.8,611.4 L649.1,611.3 L648.5,611.2 L647.8,611.1 L647.2,611.0 L646.6,610.9 L645.9,610.8 L645.2,610.7 L644.6,610.6 L643.9,610.5 L643.3,610.4 L642.6,610.3 L642.0,610.2 L641.3,610.1 L640.6,610.0 L640.0,609.9 L639.3,609.8 L638.6,609.7 L638.0,609.7 L637.3,609.6 L636.6,609.5 L636.0,609.4 L635.3,609.4 L634.6,609.3 L634.0,609.2 L633.3,609.2 L632.6,609.1 L631.9,609.1 L631.3,609.0 L630.6,609.0 L629.9,608.9 L629.2,608.9 L628.6,608.8 L627.9,608.8 L627.2,608.8 L626.6,608.7 L625.9,608.7 L625.2,608.7 L624.6,608.6 L623.9,608.6 L623.2,608.6 L622.6,608.6 L621.9,608.6 L621.2,608.6 L620.6,608.6 L619.9,608.6 L619.2,608.6 L618.6,608.6 L617.9,608.6 L617.2,608.6 L616.6,608.6 L615.9,608.7 L615.3,608.7 L614.6,608.7 L613.9,608.7 L613.2,608.8 L612.6,608.8 L611.9,608.9 L611.2,608.9 L610.6,608.9 L609.9,609.0 L609.2,609.1 L608.5,609.1 L607.9,609.2 L607.2,609.2 L606.5,609.3 L605.8,609.4 L605.2,609.4 L604.5,609.5 L603.8,609.6 L603.2,609.7 L602.5,609.7 L601.8,609.8 L601.1,609.9 L600.5,610.0 L599.8,610.1 L599.1,610.2 L598.4,610.3 L597.8,610.4 L597.1,610.5 L596.4,610.6 L595.8,610.7 L595.1,610.8 L594.4,610.9 L593.8,611.0 L593.1,611.2 L592.5,611.3 L591.8,611.4 L591.1,611.5 L590.5,611.6 L589.8,611.8 L589.2,611.9 L588.5,612.0 L587.9,612.1 L587.2,612.3 L586.6,612.4 L585.9,612.6 L585.3,612.7 L584.7,612.8 L584.0,613.0 L583.4,613.1 L582.8,613.3 L582.2,613.4 L581.5,613.5 L580.9,613.7 L580.3,613.8 L579.7,614.0 L579.1,614.1 L578.4,614.3 L577.8,614.5 L577.2,614.6 L576.6,614.8 L576.0,614.9 L575.4,615.1 L574.8,615.3 L574.2,615.5 L573.6,615.6 L573.0,615.8 L572.4,616.0 L571.8,616.2 L571.2,616.4 L570.6,616.5 L570.0,616.7 L569.5,616.9 L568.9,617.1 L568.3,617.3 L567.7,617.5 L567.1,617.7 L566.5,617.9 L566.0,618.1 L565.4,618.3 L564.8,618.5 L564.2,618.7 L563.7,619.0 L563.1,619.2 L562.5,619.4 L562.0,619.6 L561.4,619.8 L560.8,620.0 L560.3,620.3 L559.7,620.5 L559.2,620.7 L558.6,620.9 L558.0,621.2 L557.5,621.4 L556.9,621.6 L556.4,621.8 L555.8,622.1 L555.3,622.3 L554.7,622.5 L554.2,622.8 L553.7,623.0 L553.1,623.2 L552.6,623.5 L552.0,623.7 L551.5,624.0 L551.0,624.2 L550.4,624.4 L549.9,624.7 L549.4,624.9 L548.9,625.2 L548.3,625.4 L547.8,625.7 L547.3,625.9 L546.8,626.1 L546.3,626.4 L545.7,626.6 L545.2,626.9 L544.7,627.1 L544.2,627.4 L543.7,627.6 L543.2,627.9 L542.7,628.1 L542.2,628.4 L541.7,628.6 L541.2,628.9 L540.7,629.1 L540.2,629.4 L539.7,629.6 L539.2,629.9 L538.7,630.2 L538.2,630.4 L537.7,630.7 L537.2,630.9 L536.8,631.2 L536.3,631.5 L535.8,631.7 L535.3,632.0 L534.8,632.3 L534.4,632.5 L533.9,632.8 L533.4,633.1 L533.0,633.4 L532.5,633.6 L532.0,633.9 L531.5,634.2 L531.1,634.5 L530.6,634.7 L530.2,635.0 L529.7,635.3 L529.2,635.6 L528.8,635.9 L528.3,636.1 L527.9,636.4 L527.4,636.7 L526.9,637.0 L526.5,637.3 L526.0,637.6 L525.6,637.9 L525.1,638.2 L524.7,638.5 L524.2,638.8 L523.8,639.1 L523.3,639.4 L522.9,639.7 L522.4,640.0 L522.0,640.3 L521.5,640.6 L521.1,640.9 L520.6,641.2 L520.2,641.6 L519.8,641.9 L519.3,642.2 L518.9,642.5 L518.4,642.8 L518.0,643.2 L517.5,643.5 L517.1,643.8 L516.6,644.2 L516.2,644.5 L515.7,644.8 L515.3,645.2 L514.9,645.5 L514.4,645.9 L514.0,646.2 L513.5,646.6 L513.1,646.9 L512.6,647.3 L512.2,647.6 L511.8,648.0 L511.3,648.4 L510.9,648.7 L510.4,649.1 L510.0,649.5 L509.5,649.8 L509.1,650.2 L508.7,650.6 L508.2,651.0 L507.8,651.3 L507.4,651.7 L506.9,652.1 L506.5,652.5 L506.1,652.9 L505.6,653.2 L505.2,653.6 L504.8,654.0 L504.4,654.4 L503.9,654.8 L503.5,655.2 L503.1,655.6 L502.7,655.9 L502.2,656.3 L501.8,656.7 L501.4,657.1 L501.0,657.5 L500.6,657.9 L500.2,658.3 L499.7,658.7 L499.3,659.1 L498.9,659.5 L498.5,659.9 L498.1,660.3 L497.7,660.6 L497.3,661.0 L496.9,661.4 L496.5,661.8 L496.1,662.2 L495.7,662.6 L495.3,663.0 L494.9,663.4 L494.6,663.7 L494.2,664.1 L493.8,664.5 L493.4,664.9 L493.0,665.3 L492.7,665.7 L492.3,666.0 L491.9,666.4 L491.5,666.8 L491.2,667.2 L490.8,667.5 L490.4,667.9 L490.1,668.3 L489.7,668.6 L489.4,669.0 L489.0,669.4 L488.7,669.7 L488.3,670.1 L488.0,670.4 L487.6,670.8 L487.3,671.2 L486.9,671.5 L486.6,671.9 L486.2,672.2 L485.9,672.6 L485.5,673.0 L485.2,673.3 L484.9,673.7 L484.5,674.0 L484.2,674.4 L483.8,674.8 L483.5,675.1 L483.2,675.5 L482.9,675.8 L482.5,676.2 L482.2,676.6 L481.9,676.9 L481.6,677.3 L481.2,677.6 L480.9,678.0 L480.6,678.4 L480.3,678.8 L479.9,679.1 L479.6,679.5 L479.3,679.9 L479.0,680.2 L478.7,680.6 L478.4,681.0 L478.1,681.4 L477.8,681.8 L477.5,682.2 L477.1,682.5 L476.8,682.9 L476.5,683.3 L476.2,683.7 L475.9,684.1 L475.6,684.5 L475.3,684.9 L475.0,685.3 L474.7,685.8 L474.4,686.2 L474.1,686.6 L473.9,687.0 L473.6,687.4 L473.3,687.9 L473.0,688.3 L472.7,688.7 L472.4,689.2 L472.1,689.6 L471.8,690.1 L471.5,690.6 L471.2,691.0 L470.9,691.5 L470.6,692.0 L470.3,692.6 L470.0,693.1 L469.8,693.6 L469.5,694.1 L469.2,694.7 L468.9,695.2 L468.6,695.8 L468.3,696.3 L468.0,696.9 L467.7,697.5 L467.4,698.0 L467.1,698.6 L466.8,699.2 L466.5,699.8 L466.2,700.4 L466.0,700.9 L465.7,701.5 L465.4,702.1 L465.1,702.7 L464.8,703.3 L464.6,703.9 L464.3,704.4 L464.0,705.0 L463.7,705.6 L463.5,706.2 L463.2,706.7 L463.0,707.3 L462.7,707.9 L462.4,708.4 L462.2,709.0 L461.9,709.5 L461.7,710.1 L461.5,710.6 L461.2,711.1 L461.0,711.6 L460.8,712.1 L460.6,712.6 L460.3,713.1 L460.1,713.6 L459.9,714.0 L459.7,714.5 L459.5,714.9 L459.3,715.3 L459.1,715.8 L459.0,716.2 L458.8,716.5 L458.6,716.9 L458.4,717.3 L458.3,717.6 L458.1,717.9 L458.0,718.2 L457.9,718.5 L457.7,718.8 L457.6,719.1 L459.4,719.9 L459.5,719.7 L459.7,719.4 L459.8,719.1 L460.0,718.8 L460.1,718.5 L460.3,718.1 L460.5,717.8 L460.6,717.4 L460.8,717.0 L461.0,716.6 L461.2,716.2 L461.4,715.8 L461.6,715.4 L461.8,714.9 L462.1,714.5 L462.3,714.0 L462.5,713.5 L462.7,713.0 L463.0,712.5 L463.2,712.0 L463.5,711.5 L463.7,711.0 L464.0,710.5 L464.2,709.9 L464.5,709.4 L464.7,708.8 L465.0,708.3 L465.3,707.7 L465.5,707.2 L465.8,706.6 L466.1,706.0 L466.4,705.5 L466.7,704.9 L466.9,704.3 L467.2,703.7 L467.5,703.2 L467.8,702.6 L468.1,702.0 L468.4,701.4 L468.7,700.9 L469.0,700.3 L469.3,699.7 L469.6,699.2 L469.9,698.6 L470.2,698.1 L470.5,697.5 L470.8,697.0 L471.1,696.4 L471.4,695.9 L471.7,695.4 L472.0,694.9 L472.3,694.4 L472.6,693.9 L472.9,693.4 L473.2,692.9 L473.4,692.4 L473.7,691.9 L474.0,691.5 L474.3,691.1 L474.6,690.6 L474.9,690.2 L475.2,689.8 L475.5,689.4 L475.8,689.0 L476.0,688.6 L476.3,688.1 L476.6,687.7 L476.9,687.4 L477.2,687.0 L477.5,686.6 L477.8,686.2 L478.1,685.8 L478.4,685.4 L478.7,685.0 L479.0,684.6 L479.3,684.3 L479.6,683.9 L479.9,683.5 L480.2,683.2 L480.5,682.8 L480.8,682.4 L481.2,682.1 L481.5,681.7 L481.8,681.3 L482.1,681.0 L482.4,680.6 L482.7,680.3 L483.0,679.9 L483.4,679.6 L483.7,679.2 L484.0,678.9 L484.3,678.5 L484.7,678.2 L485.0,677.8 L485.3,677.5 L485.6,677.1 L486.0,676.8 L486.3,676.4 L486.6,676.1 L487.0,675.7 L487.3,675.4 L487.7,675.0 L488.0,674.7 L488.3,674.3 L488.7,674.0 L489.0,673.6 L489.4,673.3 L489.7,672.9 L490.1,672.6 L490.4,672.2 L490.8,671.8 L491.2,671.5 L491.5,671.1 L491.9,670.8 L492.2,670.4 L492.6,670.1 L493.0,669.7 L493.3,669.3 L493.7,669.0 L494.1,668.6 L494.5,668.2 L494.8,667.8 L495.2,667.5 L495.6,667.1 L496.0,666.7 L496.4,666.3 L496.8,666.0 L497.1,665.6 L497.5,665.2 L497.9,664.8 L498.3,664.5 L498.7,664.1 L499.1,663.7 L499.5,663.3 L499.9,662.9 L500.3,662.5 L500.7,662.2 L501.1,661.8 L501.5,661.4 L501.9,661.0 L502.4,660.6 L502.8,660.3 L503.2,659.9 L503.6,659.5 L504.0,659.1 L504.4,658.7 L504.9,658.3 L505.3,658.0 L505.7,657.6 L506.1,657.2 L506.5,656.8 L507.0,656.5 L507.4,656.1 L507.8,655.7 L508.2,655.3 L508.7,655.0 L509.1,654.6 L509.5,654.2 L510.0,653.8 L510.4,653.5 L510.8,653.1 L511.3,652.7 L511.7,652.4 L512.1,652.0 L512.6,651.7 L513.0,651.3 L513.4,651.0 L513.9,650.6 L514.3,650.3 L514.7,649.9 L515.2,649.6 L515.6,649.2 L516.1,648.9 L516.5,648.5 L516.9,648.2 L517.4,647.9 L517.8,647.5 L518.2,647.2 L518.7,646.9 L519.1,646.6 L519.6,646.3 L520.0,645.9 L520.4,645.6 L520.9,645.3 L521.3,645.0 L521.7,644.7 L522.2,644.4 L522.6,644.1 L523.1,643.8 L523.5,643.5 L523.9,643.2 L524.4,642.9 L524.8,642.6 L525.3,642.3 L525.7,642.0 L526.2,641.7 L526.6,641.4 L527.0,641.1 L527.5,640.8 L527.9,640.5 L528.4,640.3 L528.8,640.0 L529.3,639.7 L529.7,639.4 L530.2,639.1 L530.6,638.9 L531.1,638.6 L531.5,638.3 L532.0,638.0 L532.4,637.8 L532.9,637.5 L533.3,637.2 L533.8,636.9 L534.3,636.7 L534.7,636.4 L535.2,636.2 L535.6,635.9 L536.1,635.6 L536.6,635.4 L537.0,635.1 L537.5,634.9 L538.0,634.6 L538.5,634.3 L538.9,634.1 L539.4,633.8 L539.9,633.6 L540.4,633.3 L540.8,633.1 L541.3,632.8 L541.8,632.6 L542.3,632.3 L542.8,632.1 L543.3,631.8 L543.8,631.6 L544.3,631.3 L544.8,631.1 L545.3,630.8 L545.8,630.6 L546.3,630.4 L546.8,630.1 L547.3,629.9 L547.8,629.6 L548.3,629.4 L548.8,629.2 L549.3,628.9 L549.9,628.7 L550.4,628.4 L550.9,628.2 L551.4,628.0 L551.9,627.7 L552.5,627.5 L553.0,627.3 L553.5,627.0 L554.0,626.8 L554.6,626.6 L555.1,626.3 L555.6,626.1 L556.2,625.9 L556.7,625.6 L557.2,625.4 L557.8,625.2 L558.3,625.0 L558.9,624.7 L559.4,624.5 L560.0,624.3 L560.5,624.1 L561.1,623.8 L561.6,623.6 L562.2,623.4 L562.7,623.2 L563.3,623.0 L563.8,622.8 L564.4,622.6 L564.9,622.4 L565.5,622.1 L566.0,621.9 L566.6,621.7 L567.2,621.5 L567.7,621.3 L568.3,621.1 L568.9,620.9 L569.4,620.8 L570.0,620.6 L570.6,620.4 L571.2,620.2 L571.7,620.0 L572.3,619.8 L572.9,619.6 L573.5,619.5 L574.0,619.3 L574.6,619.1 L575.2,618.9 L575.8,618.8 L576.4,618.6 L577.0,618.4 L577.6,618.3 L578.2,618.1 L578.7,618.0 L579.3,617.8 L579.9,617.7 L580.5,617.5 L581.1,617.4 L581.8,617.2 L582.4,617.1 L583.0,616.9 L583.6,616.8 L584.2,616.6 L584.8,616.5 L585.5,616.3 L586.1,616.2 L586.7,616.1 L587.3,615.9 L588.0,615.8 L588.6,615.7 L589.2,615.5 L589.9,615.4 L590.5,615.3 L591.2,615.2 L591.8,615.0 L592.4,614.9 L593.1,614.8 L593.7,614.7 L594.4,614.6 L595.0,614.4 L595.7,614.3 L596.3,614.2 L597.0,614.1 L597.7,614.0 L598.3,613.9 L599.0,613.8 L599.6,613.7 L600.3,613.6 L600.9,613.5 L601.6,613.4 L602.3,613.3 L602.9,613.2 L603.6,613.2 L604.2,613.1 L604.9,613.0 L605.6,612.9 L606.2,612.9 L606.9,612.8 L607.5,612.7 L608.2,612.6 L608.9,612.6 L609.5,612.5 L610.2,612.5 L610.8,612.4 L611.5,612.4 L612.1,612.3 L612.8,612.3 L613.4,612.2 L614.1,612.2 L614.8,612.2 L615.4,612.1 L616.1,612.1 L616.7,612.1 L617.3,612.0 L618.0,612.0 L618.6,612.0 L619.3,612.0 L619.9,612.0 L620.6,612.0 L621.2,612.0 L621.9,612.0 L622.5,612.0 L623.2,612.0 L623.8,612.0 L624.5,612.0 L625.1,612.0 L625.8,612.1 L626.4,612.1 L627.1,612.1 L627.7,612.1 L628.4,612.2 L629.1,612.2 L629.7,612.2 L630.4,612.3 L631.0,612.3 L631.7,612.4 L632.3,612.4 L633.0,612.5 L633.7,612.5 L634.3,612.6 L635.0,612.6 L635.6,612.7 L636.3,612.8 L637.0,612.8 L637.6,612.9 L638.3,613.0 L638.9,613.0 L639.6,613.1 L640.2,613.2 L640.9,613.3 L641.5,613.3 L642.2,613.4 L642.8,613.5 L643.5,613.6 L644.1,613.7 L644.8,613.8 L645.4,613.9 L646.1,614.0 L646.7,614.1 L647.3,614.2 L648.0,614.3 L648.6,614.4 L649.3,614.5 L649.9,614.6 L650.5,614.7 L651.1,614.8 L651.8,614.9 L652.4,615.0 L653.0,615.1 L653.6,615.3 L654.2,615.4 L654.9,615.5 L655.5,615.6 L656.1,615.7 L656.7,615.8 L657.3,616.0 L657.9,616.1 L658.5,616.2 L659.1,616.3 L659.7,616.5 L660.3,616.6 L660.9,616.7 L661.5,616.9 L662.0,617.0 L662.6,617.1 L663.2,617.3 L663.8,617.4 L664.4,617.6 L665.0,617.7 L665.5,617.9 L666.1,618.0 L666.7,618.2 L667.3,618.3 L667.9,618.5 L668.4,618.6 L669.0,618.8 L669.6,618.9 L670.1,619.1 L670.7,619.3 L671.3,619.4 L671.8,619.6 L672.4,619.8 L672.9,619.9 L673.5,620.1 L674.1,620.3 L674.6,620.4 L675.2,620.6 L675.7,620.8 L676.3,621.0 L676.8,621.2 L677.4,621.4 L677.9,621.6 L678.5,621.7 L679.0,621.9 L679.5,622.1 L680.1,622.3 L680.6,622.5 L681.2,622.7 L681.7,622.9 L682.2,623.1 L682.8,623.4 L683.3,623.6 L683.8,623.8 L684.3,624.0 L684.9,624.2 L685.4,624.4 L685.9,624.7 L686.4,624.9 L687.0,625.1 L687.5,625.4 L688.0,625.6 L688.5,625.8 L689.0,626.1 L689.5,626.3 L690.0,626.5 L690.6,626.8 L691.1,627.0 L691.6,627.3 L692.1,627.6 L692.6,627.8 L693.1,628.1 L693.6,628.4 L694.1,628.6 L694.5,628.9 L695.0,629.2 L695.5,629.5 L696.0,629.8 L696.5,630.1 L697.0,630.4 L697.5,630.7 L698.0,631.0 L698.5,631.3 L699.0,631.6 L699.4,631.9 L699.9,632.2 L700.4,632.5 L700.9,632.9 L701.4,633.2 L701.8,633.5 L702.3,633.9 L702.8,634.2 L703.2,634.5 L703.7,634.8 L704.2,635.2 L704.7,635.5 L705.1,635.9 L705.6,636.2 L706.1,636.5 L706.5,636.9 L707.0,637.2 L707.4,637.6 L707.9,637.9 L708.4,638.2 L708.8,638.6 L709.3,638.9 L709.7,639.3 L710.2,639.6 L710.6,640.0 L711.1,640.3 L711.5,640.6 L712.0,641.0 L712.4,641.3 L712.8,641.7 L713.3,642.0 L713.7,642.3 L714.2,642.7 L714.6,643.0 L715.0,643.3 L715.5,643.7 L715.9,644.0 L716.3,644.3 L716.8,644.6 L717.2,644.9 L717.6,645.3 L718.1,645.6 L718.5,645.9 L718.9,646.2 L719.3,646.5 L719.8,646.8 L720.2,647.2 L720.6,647.5 L721.0,647.8 L721.5,648.1 L721.9,648.5 L722.4,648.8 L722.8,649.1 L723.2,649.5 L723.7,649.8 L724.1,650.2 L724.6,650.5 L725.0,650.9 L725.5,651.2 L725.9,651.6 L726.3,651.9 L726.8,652.3 L727.2,652.6 L727.6,653.0 L728.1,653.3 L728.5,653.6 L728.9,654.0 L729.4,654.3 L729.8,654.7 L730.2,655.0 L730.6,655.4 L731.1,655.7 L731.5,656.0 L731.9,656.4 L732.3,656.7 L732.7,657.0 L733.1,657.3 L733.5,657.7 L733.9,658.0 L734.2,658.3 L734.6,658.6 L735.0,658.9 L735.3,659.2 L735.7,659.5 L736.0,659.8 L736.4,660.0 L736.7,660.3 L737.1,660.6 L737.4,660.9 L737.7,661.1 L738.0,661.4 L738.3,661.6 L738.6,661.8 L738.9,662.1 L739.1,662.3 L739.4,662.5 L739.7,662.7 L739.9,662.9 L740.1,663.1 L740.4,663.3 L740.6,663.5 L740.8,663.6 L741.0,663.8Z" fill="#120b09"/><path d="M459.6,720.7 L462.2,687.1 L459.6,686.9 L456.6,720.5Z" fill="#120b09"/><circle cx="460.9" cy="687" r="1.275" fill="#120b09"/><path d="M458.9,722 L492.1,701.8 L491.1,700.2 L457.3,719.2Z" fill="#120b09"/><circle cx="491.6" cy="701" r="0.8999999999999999" fill="#120b09"/><circle cx="458.1" cy="720.6" r="1.6500000000000001" fill="#120b09"/><path d="M749.3,945.7 L749.1,945.8 L748.9,946.0 L748.6,946.1 L748.4,946.2 L748.1,946.4 L747.8,946.5 L747.5,946.6 L747.2,946.8 L746.9,947.0 L746.5,947.1 L746.2,947.3 L745.8,947.5 L745.5,947.7 L745.1,947.9 L744.7,948.1 L744.4,948.2 L744.0,948.5 L743.6,948.7 L743.2,948.9 L742.7,949.1 L742.3,949.3 L741.9,949.5 L741.5,949.7 L741.0,950.0 L740.6,950.2 L740.1,950.4 L739.7,950.6 L739.2,950.9 L738.7,951.1 L738.3,951.3 L737.8,951.6 L737.3,951.8 L736.8,952.1 L736.4,952.3 L735.9,952.5 L735.4,952.8 L734.9,953.0 L734.4,953.2 L733.9,953.5 L733.4,953.7 L732.9,953.9 L732.5,954.2 L732.0,954.4 L731.5,954.6 L731.0,954.9 L730.5,955.1 L730.0,955.3 L729.5,955.5 L729.1,955.7 L728.6,955.9 L728.1,956.1 L727.6,956.3 L727.2,956.5 L726.7,956.7 L726.2,956.9 L725.8,957.1 L725.3,957.3 L724.9,957.4 L724.5,957.6 L724.0,957.8 L723.6,957.9 L723.2,958.1 L722.7,958.3 L722.3,958.4 L721.8,958.6 L721.4,958.8 L720.9,958.9 L720.5,959.1 L720.0,959.2 L719.6,959.4 L719.2,959.6 L718.7,959.7 L718.3,959.9 L717.8,960.0 L717.4,960.2 L716.9,960.3 L716.5,960.5 L716.0,960.6 L715.6,960.8 L715.1,960.9 L714.7,961.1 L714.2,961.2 L713.7,961.4 L713.3,961.5 L712.8,961.7 L712.4,961.8 L711.9,961.9 L711.5,962.1 L711.0,962.2 L710.6,962.4 L710.1,962.5 L709.7,962.6 L709.2,962.7 L708.8,962.9 L708.3,963.0 L707.9,963.1 L707.4,963.2 L707.0,963.4 L706.5,963.5 L706.0,963.6 L705.6,963.7 L705.1,963.8 L704.7,963.9 L704.2,964.0 L703.8,964.1 L703.3,964.2 L702.9,964.3 L702.4,964.4 L702.0,964.5 L701.5,964.5 L701.1,964.6 L700.7,964.7 L700.2,964.8 L699.8,964.8 L699.3,964.9 L698.9,965.0 L698.4,965.0 L698.0,965.1 L697.5,965.1 L697.1,965.2 L696.7,965.2 L696.2,965.3 L695.8,965.3 L695.3,965.4 L694.9,965.4 L694.4,965.4 L694.0,965.5 L693.5,965.5 L693.1,965.5 L692.6,965.5 L692.2,965.6 L691.8,965.6 L691.3,965.6 L690.9,965.6 L690.4,965.6 L690.0,965.6 L689.5,965.6 L689.1,965.6 L688.6,965.6 L688.2,965.6 L687.7,965.6 L687.3,965.6 L686.9,965.6 L686.4,965.6 L686.0,965.6 L685.5,965.6 L685.1,965.5 L684.6,965.5 L684.2,965.5 L683.7,965.5 L683.3,965.4 L682.8,965.4 L682.4,965.4 L681.9,965.3 L681.5,965.3 L681.1,965.3 L680.6,965.2 L680.2,965.2 L679.7,965.1 L679.3,965.1 L678.8,965.0 L678.4,965.0 L677.9,964.9 L677.5,964.8 L677.0,964.8 L676.6,964.7 L676.1,964.6 L675.7,964.6 L675.2,964.5 L674.8,964.4 L674.3,964.3 L673.9,964.3 L673.5,964.2 L673.0,964.1 L672.6,964.0 L672.1,963.9 L671.7,963.8 L671.2,963.7 L670.8,963.6 L670.3,963.5 L669.9,963.4 L669.4,963.3 L669.0,963.2 L668.5,963.1 L668.1,963.0 L667.6,962.9 L667.1,962.8 L666.7,962.6 L666.2,962.5 L665.8,962.4 L665.3,962.3 L664.9,962.1 L664.4,962.0 L663.9,961.9 L663.5,961.7 L663.0,961.6 L662.6,961.4 L662.1,961.3 L661.6,961.1 L661.2,961.0 L660.7,960.8 L660.2,960.7 L659.8,960.5 L659.3,960.3 L658.9,960.2 L658.4,960.0 L657.9,959.8 L657.5,959.7 L657.0,959.5 L656.6,959.3 L656.1,959.1 L655.6,958.9 L655.2,958.8 L654.7,958.6 L654.3,958.4 L653.8,958.2 L653.3,958.0 L652.9,957.8 L652.4,957.6 L652.0,957.4 L651.5,957.2 L651.1,957.0 L650.6,956.8 L650.2,956.6 L649.7,956.4 L649.3,956.2 L648.8,956.0 L648.4,955.7 L647.9,955.5 L647.5,955.3 L647.1,955.1 L646.6,954.9 L646.2,954.6 L645.8,954.4 L645.3,954.2 L644.9,954.0 L644.5,953.7 L644.0,953.5 L643.6,953.3 L643.2,953.0 L642.8,952.8 L642.3,952.5 L641.9,952.3 L641.5,952.0 L641.1,951.8 L640.7,951.5 L640.3,951.3 L639.8,951.0 L639.4,950.8 L639.0,950.5 L638.6,950.3 L638.2,950.0 L637.8,949.7 L637.4,949.5 L637.0,949.2 L636.6,948.9 L636.2,948.6 L635.8,948.3 L635.4,948.1 L634.9,947.8 L634.5,947.5 L634.1,947.2 L633.7,946.9 L633.3,946.6 L632.9,946.3 L632.5,946.0 L632.1,945.7 L631.8,945.4 L631.4,945.1 L631.0,944.8 L630.6,944.5 L630.2,944.2 L629.8,943.9 L629.4,943.6 L629.0,943.3 L628.6,943.0 L628.2,942.7 L627.8,942.3 L627.5,942.0 L627.1,941.7 L626.7,941.4 L626.3,941.1 L625.9,940.7 L625.5,940.4 L625.2,940.1 L624.8,939.7 L624.4,939.4 L624.0,939.1 L623.6,938.7 L623.3,938.4 L622.9,938.1 L622.5,937.7 L622.1,937.4 L621.8,937.1 L621.4,936.7 L621.0,936.4 L620.7,936.0 L620.3,935.7 L619.9,935.3 L619.6,935.0 L619.2,934.7 L618.8,934.3 L618.5,933.9 L618.1,933.6 L617.7,933.2 L617.4,932.9 L617.0,932.5 L616.6,932.1 L616.3,931.8 L615.9,931.4 L615.6,931.0 L615.2,930.6 L614.8,930.3 L614.5,929.9 L614.1,929.5 L613.7,929.1 L613.4,928.7 L613.0,928.3 L612.7,927.9 L612.3,927.5 L612.0,927.1 L611.6,926.7 L611.2,926.3 L610.9,925.9 L610.5,925.5 L610.2,925.1 L609.8,924.7 L609.5,924.3 L609.1,923.9 L608.8,923.5 L608.5,923.1 L608.1,922.7 L607.8,922.3 L607.4,921.9 L607.1,921.5 L606.8,921.0 L606.4,920.6 L606.1,920.2 L605.8,919.8 L605.4,919.4 L605.1,919.0 L604.8,918.6 L604.5,918.2 L604.1,917.8 L603.8,917.4 L603.5,917.0 L603.2,916.6 L602.9,916.2 L602.6,915.8 L602.3,915.4 L602.0,915.0 L601.7,914.6 L601.4,914.2 L601.1,913.8 L600.8,913.4 L600.5,913.0 L600.2,912.6 L599.9,912.3 L599.6,911.9 L599.4,911.5 L599.1,911.1 L598.8,910.8 L598.6,910.4 L598.3,910.0 L598.0,909.6 L597.8,909.3 L597.5,908.9 L597.3,908.5 L597.0,908.1 L596.8,907.8 L596.5,907.4 L596.3,907.0 L596.0,906.6 L595.8,906.3 L595.5,905.9 L595.3,905.5 L595.1,905.2 L594.8,904.8 L594.6,904.4 L594.4,904.0 L594.2,903.7 L593.9,903.3 L593.7,902.9 L593.5,902.6 L593.3,902.2 L593.1,901.8 L592.8,901.5 L592.6,901.1 L592.4,900.7 L592.2,900.4 L592.0,900.0 L591.8,899.6 L591.6,899.3 L591.4,898.9 L591.2,898.5 L591.0,898.2 L590.8,897.8 L590.6,897.5 L590.4,897.1 L590.2,896.8 L590.0,896.4 L589.8,896.0 L589.6,895.7 L589.4,895.3 L589.3,895.0 L589.1,894.6 L588.9,894.3 L588.7,893.9 L588.5,893.6 L588.3,893.2 L588.1,892.9 L588.0,892.5 L587.8,892.2 L587.6,891.8 L587.4,891.5 L587.2,891.2 L587.1,890.8 L586.9,890.5 L586.7,890.2 L586.5,889.8 L586.3,889.5 L586.2,889.2 L586.0,888.8 L585.8,888.5 L585.7,888.1 L585.5,887.8 L585.3,887.5 L585.1,887.1 L585.0,886.8 L584.8,886.4 L584.6,886.1 L584.5,885.8 L584.3,885.4 L584.1,885.1 L584.0,884.7 L583.8,884.4 L583.7,884.1 L583.5,883.7 L583.3,883.4 L583.2,883.0 L583.0,882.7 L582.9,882.4 L582.7,882.0 L582.6,881.7 L582.4,881.3 L582.3,881.0 L582.1,880.7 L582.0,880.4 L581.8,880.0 L581.7,879.7 L581.6,879.4 L581.4,879.1 L581.3,878.7 L581.1,878.4 L581.0,878.1 L580.9,877.8 L580.7,877.5 L580.6,877.2 L580.5,876.9 L580.4,876.6 L580.2,876.3 L580.1,876.0 L580.0,875.7 L579.9,875.5 L579.8,875.2 L579.6,874.9 L579.5,874.7 L579.4,874.4 L579.3,874.1 L579.2,873.9 L579.1,873.6 L579.0,873.4 L578.9,873.1 L578.8,872.9 L578.7,872.7 L578.6,872.5 L578.5,872.3 L578.4,872.0 L578.3,871.8 L578.3,871.6 L578.2,871.5 L578.1,871.3 L578.0,871.1 L578.0,870.9 L577.9,870.8 L577.8,870.6 L577.8,870.4 L577.7,870.3 L577.6,870.2 L577.6,870.0 L577.5,869.9 L577.5,869.8 L577.4,869.6 L577.4,869.5 L577.4,869.4 L577.3,869.3 L577.3,869.2 L577.3,869.1 L577.2,869.0 L577.2,868.9 L577.2,868.8 L577.1,868.7 L577.1,868.6 L577.1,868.5 L577.1,868.5 L577.0,868.4 L577.0,868.3 L577.0,868.3 L577.0,868.2 L577.0,868.1 L577.0,868.1 L576.9,868.0 L576.9,868.0 L576.9,867.9 L576.9,867.9 L576.9,867.8 L576.9,867.8 L576.9,867.7 L576.9,867.7 L576.9,867.6 L576.9,867.6 L576.8,867.6 L576.8,867.5 L576.8,867.5 L576.8,867.4 L576.8,867.4 L576.8,867.4 L576.8,867.3 L576.8,867.3 L576.8,867.2 L576.8,867.2 L576.8,867.1 L576.8,867.1 L576.7,867.0 L576.7,867.0 L576.7,866.9 L576.7,866.9 L576.7,866.8 L576.7,866.8 L576.7,866.7 L574.9,867.3 L575.0,867.3 L575.0,867.3 L575.0,867.4 L575.0,867.4 L575.0,867.4 L575.0,867.4 L575.0,867.5 L575.0,867.5 L575.0,867.5 L575.0,867.6 L575.0,867.6 L575.0,867.6 L575.0,867.7 L575.0,867.7 L575.0,867.7 L575.0,867.8 L575.1,867.8 L575.1,867.9 L575.1,867.9 L575.1,868.0 L575.1,868.0 L575.1,868.1 L575.1,868.1 L575.1,868.2 L575.1,868.2 L575.1,868.3 L575.2,868.4 L575.2,868.4 L575.2,868.5 L575.2,868.6 L575.2,868.6 L575.2,868.7 L575.3,868.8 L575.3,868.9 L575.3,869.0 L575.3,869.1 L575.4,869.1 L575.4,869.2 L575.4,869.3 L575.5,869.4 L575.5,869.5 L575.5,869.7 L575.6,869.8 L575.6,869.9 L575.6,870.0 L575.7,870.1 L575.7,870.3 L575.8,870.4 L575.8,870.5 L575.9,870.7 L575.9,870.8 L576.0,871.0 L576.0,871.1 L576.1,871.3 L576.2,871.4 L576.2,871.6 L576.3,871.8 L576.4,872.0 L576.5,872.2 L576.5,872.4 L576.6,872.6 L576.7,872.8 L576.8,873.0 L576.9,873.2 L577.0,873.4 L577.1,873.6 L577.2,873.9 L577.3,874.1 L577.4,874.3 L577.5,874.6 L577.6,874.9 L577.7,875.1 L577.8,875.4 L577.9,875.6 L578.0,875.9 L578.1,876.2 L578.2,876.5 L578.3,876.8 L578.5,877.1 L578.6,877.4 L578.7,877.7 L578.8,878.0 L579.0,878.3 L579.1,878.6 L579.2,878.9 L579.4,879.2 L579.5,879.5 L579.6,879.8 L579.8,880.2 L579.9,880.5 L580.0,880.8 L580.2,881.1 L580.3,881.5 L580.5,881.8 L580.6,882.1 L580.8,882.5 L580.9,882.8 L581.1,883.2 L581.2,883.5 L581.4,883.9 L581.5,884.2 L581.7,884.5 L581.8,884.9 L582.0,885.2 L582.2,885.6 L582.3,885.9 L582.5,886.3 L582.6,886.6 L582.8,887.0 L583.0,887.3 L583.1,887.7 L583.3,888.0 L583.5,888.4 L583.6,888.7 L583.8,889.1 L584.0,889.4 L584.2,889.8 L584.3,890.1 L584.5,890.4 L584.7,890.8 L584.9,891.1 L585.0,891.5 L585.2,891.8 L585.4,892.1 L585.6,892.5 L585.7,892.8 L585.9,893.2 L586.1,893.5 L586.3,893.9 L586.4,894.2 L586.6,894.6 L586.8,894.9 L587.0,895.3 L587.2,895.6 L587.4,896.0 L587.5,896.3 L587.7,896.7 L587.9,897.1 L588.1,897.4 L588.3,897.8 L588.5,898.1 L588.7,898.5 L588.9,898.9 L589.1,899.2 L589.3,899.6 L589.5,900.0 L589.7,900.3 L589.9,900.7 L590.1,901.1 L590.3,901.5 L590.5,901.8 L590.7,902.2 L590.9,902.6 L591.1,902.9 L591.3,903.3 L591.6,903.7 L591.8,904.1 L592.0,904.5 L592.2,904.8 L592.4,905.2 L592.7,905.6 L592.9,906.0 L593.1,906.4 L593.4,906.7 L593.6,907.1 L593.8,907.5 L594.1,907.9 L594.3,908.3 L594.6,908.7 L594.8,909.0 L595.1,909.4 L595.3,909.8 L595.6,910.2 L595.8,910.6 L596.1,911.0 L596.4,911.3 L596.6,911.7 L596.9,912.1 L597.2,912.5 L597.4,912.9 L597.7,913.3 L598.0,913.7 L598.3,914.1 L598.6,914.5 L598.8,914.8 L599.1,915.2 L599.4,915.6 L599.7,916.0 L600.0,916.4 L600.3,916.9 L600.6,917.3 L600.9,917.7 L601.2,918.1 L601.6,918.5 L601.9,918.9 L602.2,919.3 L602.5,919.7 L602.8,920.1 L603.1,920.6 L603.5,921.0 L603.8,921.4 L604.1,921.8 L604.5,922.2 L604.8,922.6 L605.1,923.1 L605.5,923.5 L605.8,923.9 L606.1,924.3 L606.5,924.7 L606.8,925.1 L607.2,925.6 L607.5,926.0 L607.9,926.4 L608.2,926.8 L608.6,927.2 L608.9,927.6 L609.3,928.0 L609.6,928.5 L610.0,928.9 L610.3,929.3 L610.7,929.7 L611.1,930.1 L611.4,930.5 L611.8,930.9 L612.1,931.3 L612.5,931.7 L612.9,932.1 L613.2,932.5 L613.6,932.9 L614.0,933.3 L614.3,933.6 L614.7,934.0 L615.1,934.4 L615.4,934.8 L615.8,935.2 L616.2,935.5 L616.5,935.9 L616.9,936.3 L617.3,936.6 L617.6,937.0 L618.0,937.4 L618.4,937.7 L618.7,938.1 L619.1,938.4 L619.5,938.8 L619.9,939.1 L620.2,939.5 L620.6,939.8 L621.0,940.2 L621.4,940.5 L621.7,940.9 L622.1,941.2 L622.5,941.6 L622.9,941.9 L623.3,942.2 L623.6,942.6 L624.0,942.9 L624.4,943.3 L624.8,943.6 L625.2,943.9 L625.6,944.3 L626.0,944.6 L626.4,944.9 L626.7,945.2 L627.1,945.6 L627.5,945.9 L627.9,946.2 L628.3,946.5 L628.7,946.9 L629.1,947.2 L629.5,947.5 L629.9,947.8 L630.3,948.1 L630.7,948.4 L631.1,948.7 L631.5,949.1 L631.9,949.4 L632.4,949.7 L632.8,950.0 L633.2,950.3 L633.6,950.6 L634.0,950.9 L634.4,951.1 L634.8,951.4 L635.2,951.7 L635.7,952.0 L636.1,952.3 L636.5,952.6 L636.9,952.9 L637.3,953.1 L637.8,953.4 L638.2,953.7 L638.6,954.0 L639.0,954.2 L639.5,954.5 L639.9,954.8 L640.3,955.0 L640.7,955.3 L641.2,955.5 L641.6,955.8 L642.0,956.0 L642.5,956.3 L642.9,956.5 L643.4,956.8 L643.8,957.0 L644.2,957.3 L644.7,957.5 L645.1,957.7 L645.6,958.0 L646.0,958.2 L646.5,958.4 L646.9,958.7 L647.4,958.9 L647.8,959.1 L648.3,959.3 L648.8,959.6 L649.2,959.8 L649.7,960.0 L650.1,960.2 L650.6,960.4 L651.1,960.7 L651.5,960.9 L652.0,961.1 L652.5,961.3 L652.9,961.5 L653.4,961.7 L653.9,961.9 L654.4,962.1 L654.8,962.3 L655.3,962.5 L655.8,962.7 L656.2,962.8 L656.7,963.0 L657.2,963.2 L657.7,963.4 L658.1,963.6 L658.6,963.7 L659.1,963.9 L659.6,964.1 L660.0,964.3 L660.5,964.4 L661.0,964.6 L661.5,964.7 L661.9,964.9 L662.4,965.1 L662.9,965.2 L663.4,965.4 L663.8,965.5 L664.3,965.7 L664.8,965.8 L665.3,965.9 L665.7,966.1 L666.2,966.2 L666.7,966.3 L667.1,966.5 L667.6,966.6 L668.1,966.7 L668.6,966.8 L669.0,966.9 L669.5,967.1 L670.0,967.2 L670.4,967.3 L670.9,967.4 L671.4,967.5 L671.8,967.6 L672.3,967.7 L672.7,967.8 L673.2,967.9 L673.7,968.0 L674.1,968.1 L674.6,968.1 L675.1,968.2 L675.5,968.3 L676.0,968.4 L676.5,968.5 L676.9,968.5 L677.4,968.6 L677.9,968.7 L678.3,968.7 L678.8,968.8 L679.3,968.9 L679.7,968.9 L680.2,969.0 L680.7,969.0 L681.1,969.1 L681.6,969.1 L682.1,969.2 L682.5,969.2 L683.0,969.3 L683.5,969.3 L683.9,969.3 L684.4,969.4 L684.9,969.4 L685.3,969.4 L685.8,969.4 L686.3,969.5 L686.7,969.5 L687.2,969.5 L687.7,969.5 L688.1,969.5 L688.6,969.5 L689.1,969.5 L689.5,969.6 L690.0,969.6 L690.5,969.6 L690.9,969.5 L691.4,969.5 L691.9,969.5 L692.3,969.5 L692.8,969.5 L693.3,969.5 L693.7,969.5 L694.2,969.4 L694.7,969.4 L695.2,969.4 L695.6,969.4 L696.1,969.3 L696.6,969.3 L697.0,969.3 L697.5,969.2 L698.0,969.2 L698.4,969.1 L698.9,969.1 L699.4,969.0 L699.9,969.0 L700.3,968.9 L700.8,968.8 L701.3,968.7 L701.8,968.7 L702.3,968.6 L702.7,968.5 L703.2,968.4 L703.7,968.3 L704.2,968.3 L704.6,968.2 L705.1,968.1 L705.6,968.0 L706.1,967.9 L706.5,967.8 L707.0,967.7 L707.5,967.6 L708.0,967.4 L708.4,967.3 L708.9,967.2 L709.4,967.1 L709.9,967.0 L710.3,966.8 L710.8,966.7 L711.3,966.6 L711.7,966.5 L712.2,966.3 L712.7,966.2 L713.2,966.1 L713.6,965.9 L714.1,965.8 L714.6,965.7 L715.0,965.5 L715.5,965.4 L716.0,965.2 L716.4,965.1 L716.9,964.9 L717.4,964.8 L717.8,964.6 L718.3,964.5 L718.8,964.3 L719.2,964.2 L719.7,964.0 L720.1,963.9 L720.6,963.7 L721.1,963.6 L721.5,963.4 L722.0,963.3 L722.4,963.1 L722.9,963.0 L723.3,962.8 L723.8,962.6 L724.2,962.5 L724.7,962.3 L725.1,962.2 L725.6,962.0 L726.0,961.9 L726.5,961.7 L727.0,961.5 L727.4,961.3 L727.9,961.1 L728.4,961.0 L728.9,960.8 L729.4,960.6 L729.9,960.4 L730.4,960.2 L730.9,960.0 L731.4,959.7 L731.9,959.5 L732.4,959.3 L732.9,959.1 L733.4,958.9 L733.9,958.6 L734.4,958.4 L734.9,958.2 L735.4,958.0 L735.9,957.7 L736.4,957.5 L736.9,957.3 L737.4,957.0 L737.9,956.8 L738.4,956.6 L738.9,956.3 L739.4,956.1 L739.9,955.9 L740.4,955.6 L740.8,955.4 L741.3,955.2 L741.8,955.0 L742.3,954.7 L742.7,954.5 L743.2,954.3 L743.6,954.1 L744.1,953.9 L744.5,953.6 L744.9,953.4 L745.3,953.2 L745.8,953.0 L746.2,952.8 L746.6,952.6 L746.9,952.4 L747.3,952.3 L747.7,952.1 L748.1,951.9 L748.4,951.7 L748.7,951.6 L749.1,951.4 L749.4,951.2 L749.7,951.1 L750.0,951.0 L750.3,950.8 L750.5,950.7 L750.8,950.6 L751.0,950.5 L751.2,950.4 L751.5,950.3Z" fill="#120b09"/><circle cx="750.4" cy="948" r="2.5" fill="#120b09"/><path d="M574,866.1 L565.1,903.7 L567.7,904.3 L577.2,866.9Z" fill="#120b09"/><circle cx="566.4" cy="904" r="1.36" fill="#120b09"/><path d="M574.4,867.7 L602.3,894.7 L603.7,893.3 L576.8,865.3Z" fill="#120b09"/><circle cx="603" cy="894" r="0.96" fill="#120b09"/><circle cx="575.6" cy="866.5" r="1.7600000000000002" fill="#120b09"/><path d="M371.9,980.5 L372.1,980.7 L372.2,980.8 L372.3,981.0 L372.4,981.2 L372.5,981.4 L372.7,981.6 L372.8,981.8 L373.0,982.1 L373.1,982.3 L373.3,982.5 L373.4,982.8 L373.6,983.0 L373.8,983.3 L374.0,983.5 L374.2,983.8 L374.3,984.1 L374.5,984.3 L374.7,984.6 L374.9,984.9 L375.1,985.2 L375.3,985.5 L375.5,985.8 L375.8,986.1 L376.0,986.4 L376.2,986.8 L376.4,987.1 L376.6,987.4 L376.8,987.7 L377.1,988.1 L377.3,988.4 L377.5,988.8 L377.8,989.1 L378.0,989.5 L378.2,989.8 L378.4,990.2 L378.7,990.5 L378.9,990.9 L379.1,991.3 L379.4,991.6 L379.6,992.0 L379.8,992.4 L380.1,992.7 L380.3,993.1 L380.5,993.5 L380.8,993.9 L381.0,994.2 L381.2,994.6 L381.4,995.0 L381.7,995.4 L381.9,995.8 L382.1,996.1 L382.3,996.5 L382.5,996.9 L382.7,997.3 L382.9,997.7 L383.1,998.0 L383.3,998.4 L383.5,998.8 L383.7,999.2 L383.9,999.6 L384.1,999.9 L384.3,1000.3 L384.5,1000.7 L384.7,1001.1 L384.9,1001.5 L385.1,1001.9 L385.2,1002.3 L385.4,1002.7 L385.6,1003.1 L385.8,1003.5 L386.0,1003.9 L386.2,1004.4 L386.4,1004.8 L386.6,1005.2 L386.8,1005.6 L387.0,1006.1 L387.1,1006.5 L387.3,1006.9 L387.5,1007.4 L387.7,1007.8 L387.9,1008.2 L388.1,1008.7 L388.3,1009.1 L388.5,1009.6 L388.7,1010.0 L388.8,1010.5 L389.0,1010.9 L389.2,1011.4 L389.4,1011.8 L389.6,1012.3 L389.8,1012.7 L390.0,1013.2 L390.1,1013.7 L390.3,1014.1 L390.5,1014.6 L390.7,1015.0 L390.9,1015.5 L391.0,1016.0 L391.2,1016.4 L391.4,1016.9 L391.6,1017.4 L391.7,1017.8 L391.9,1018.3 L392.1,1018.8 L392.3,1019.2 L392.4,1019.7 L392.6,1020.2 L392.8,1020.7 L393.0,1021.1 L393.1,1021.6 L393.3,1022.1 L393.5,1022.5 L393.6,1023.0 L393.8,1023.5 L393.9,1023.9 L394.1,1024.4 L394.3,1024.9 L394.4,1025.3 L394.6,1025.8 L394.7,1026.3 L394.9,1026.7 L395.0,1027.2 L395.2,1027.7 L395.4,1028.1 L395.5,1028.6 L395.7,1029.1 L395.8,1029.6 L396.0,1030.0 L396.1,1030.5 L396.3,1031.0 L396.4,1031.5 L396.6,1032.0 L396.8,1032.4 L396.9,1032.9 L397.1,1033.4 L397.2,1033.9 L397.4,1034.4 L397.5,1034.9 L397.7,1035.4 L397.8,1035.9 L398.0,1036.3 L398.1,1036.8 L398.3,1037.3 L398.4,1037.8 L398.5,1038.3 L398.7,1038.8 L398.8,1039.3 L399.0,1039.8 L399.1,1040.3 L399.3,1040.8 L399.4,1041.2 L399.5,1041.7 L399.7,1042.2 L399.8,1042.7 L399.9,1043.2 L400.1,1043.7 L400.2,1044.2 L400.3,1044.7 L400.4,1045.2 L400.5,1045.6 L400.7,1046.1 L400.8,1046.6 L400.9,1047.1 L401.0,1047.6 L401.1,1048.1 L401.2,1048.5 L401.3,1049.0 L401.4,1049.5 L401.5,1050.0 L401.6,1050.4 L401.7,1050.9 L401.8,1051.4 L401.9,1051.9 L402.0,1052.3 L402.1,1052.8 L402.1,1053.3 L402.2,1053.7 L402.3,1054.2 L402.4,1054.6 L402.4,1055.1 L402.5,1055.6 L402.5,1056.0 L402.6,1056.5 L402.7,1056.9 L402.7,1057.4 L402.8,1057.8 L402.8,1058.3 L402.9,1058.8 L402.9,1059.2 L402.9,1059.7 L403.0,1060.1 L403.0,1060.6 L403.0,1061.0 L403.1,1061.5 L403.1,1062.0 L403.1,1062.4 L403.2,1062.9 L403.2,1063.3 L403.2,1063.8 L403.2,1064.2 L403.2,1064.7 L403.2,1065.1 L403.3,1065.6 L403.3,1066.0 L403.3,1066.5 L403.3,1066.9 L403.3,1067.4 L403.3,1067.8 L403.3,1068.3 L403.3,1068.7 L403.3,1069.2 L403.3,1069.6 L403.3,1070.0 L403.3,1070.5 L403.3,1070.9 L403.2,1071.4 L403.2,1071.8 L403.2,1072.2 L403.2,1072.7 L403.2,1073.1 L403.2,1073.6 L403.1,1074.0 L403.1,1074.4 L403.1,1074.8 L403.1,1075.3 L403.0,1075.7 L403.0,1076.1 L403.0,1076.6 L403.0,1077.0 L402.9,1077.4 L402.9,1077.8 L402.9,1078.2 L402.8,1078.7 L402.8,1079.1 L402.7,1079.5 L402.7,1079.9 L402.7,1080.3 L402.6,1080.7 L402.6,1081.1 L402.5,1081.5 L402.5,1081.9 L402.5,1082.4 L402.4,1082.8 L402.4,1083.2 L402.3,1083.6 L402.3,1084.0 L402.2,1084.4 L402.1,1084.8 L402.1,1085.2 L402.0,1085.6 L401.9,1086.0 L401.9,1086.4 L401.8,1086.8 L401.7,1087.2 L401.7,1087.5 L401.6,1087.9 L401.5,1088.3 L401.4,1088.7 L401.4,1089.1 L401.3,1089.5 L401.2,1089.9 L401.1,1090.3 L401.0,1090.7 L400.9,1091.1 L400.9,1091.5 L400.8,1091.8 L400.7,1092.2 L400.6,1092.6 L400.5,1093.0 L400.4,1093.4 L400.3,1093.7 L400.2,1094.1 L400.1,1094.5 L400.0,1094.9 L399.9,1095.2 L399.8,1095.6 L399.7,1096.0 L399.6,1096.3 L399.5,1096.7 L399.4,1097.0 L399.3,1097.4 L399.2,1097.7 L399.1,1098.1 L399.0,1098.4 L398.9,1098.8 L398.8,1099.1 L398.7,1099.5 L398.6,1099.8 L398.5,1100.1 L398.4,1100.5 L398.3,1100.8 L398.2,1101.1 L398.1,1101.5 L398.0,1101.8 L397.9,1102.1 L397.8,1102.4 L397.7,1102.7 L397.5,1103.0 L397.4,1103.3 L397.3,1103.6 L397.2,1103.9 L397.1,1104.2 L397.0,1104.5 L396.9,1104.8 L396.8,1105.1 L396.7,1105.3 L396.6,1105.6 L396.5,1105.9 L396.3,1106.2 L396.2,1106.5 L396.1,1106.7 L396.0,1107.0 L395.8,1107.3 L395.7,1107.6 L395.6,1107.8 L395.4,1108.1 L395.3,1108.4 L395.2,1108.6 L395.0,1108.9 L394.9,1109.2 L394.7,1109.4 L394.6,1109.7 L394.5,1109.9 L394.3,1110.2 L394.2,1110.4 L394.1,1110.7 L393.9,1110.9 L393.8,1111.2 L393.6,1111.4 L393.5,1111.6 L393.4,1111.9 L393.2,1112.1 L393.1,1112.3 L393.0,1112.5 L392.8,1112.8 L392.7,1113.0 L392.6,1113.2 L392.4,1113.4 L392.3,1113.6 L392.2,1113.8 L392.1,1114.0 L391.9,1114.2 L391.8,1114.4 L391.7,1114.6 L391.6,1114.8 L391.5,1115.0 L391.4,1115.1 L391.3,1115.3 L391.1,1115.5 L391.0,1115.6 L390.9,1115.8 L390.9,1116.0 L390.8,1116.1 L390.7,1116.3 L390.6,1116.4 L390.5,1116.5 L390.4,1116.7 L390.3,1116.8 L390.3,1116.9 L390.2,1117.1 L391.8,1117.9 L391.8,1117.8 L391.9,1117.7 L392.0,1117.6 L392.1,1117.5 L392.1,1117.3 L392.2,1117.2 L392.3,1117.1 L392.4,1116.9 L392.5,1116.8 L392.6,1116.6 L392.7,1116.5 L392.8,1116.3 L392.9,1116.1 L393.0,1116.0 L393.2,1115.8 L393.3,1115.6 L393.4,1115.4 L393.5,1115.2 L393.7,1115.0 L393.8,1114.8 L393.9,1114.6 L394.1,1114.4 L394.2,1114.2 L394.3,1114.0 L394.5,1113.8 L394.6,1113.6 L394.8,1113.4 L394.9,1113.1 L395.1,1112.9 L395.2,1112.7 L395.4,1112.4 L395.5,1112.2 L395.7,1111.9 L395.8,1111.7 L396.0,1111.4 L396.1,1111.2 L396.3,1110.9 L396.4,1110.7 L396.6,1110.4 L396.7,1110.2 L396.9,1109.9 L397.0,1109.6 L397.2,1109.3 L397.3,1109.1 L397.5,1108.8 L397.6,1108.5 L397.7,1108.2 L397.9,1107.9 L398.0,1107.7 L398.2,1107.4 L398.3,1107.1 L398.4,1106.8 L398.6,1106.5 L398.7,1106.2 L398.8,1105.9 L399.0,1105.6 L399.1,1105.3 L399.2,1105.0 L399.3,1104.7 L399.5,1104.4 L399.6,1104.1 L399.7,1103.8 L399.8,1103.5 L399.9,1103.2 L400.0,1102.8 L400.1,1102.5 L400.3,1102.2 L400.4,1101.9 L400.5,1101.5 L400.6,1101.2 L400.7,1100.9 L400.8,1100.5 L400.9,1100.2 L401.1,1099.9 L401.2,1099.5 L401.3,1099.2 L401.4,1098.8 L401.5,1098.4 L401.6,1098.1 L401.7,1097.7 L401.8,1097.4 L402.0,1097.0 L402.1,1096.6 L402.2,1096.3 L402.3,1095.9 L402.4,1095.5 L402.5,1095.1 L402.6,1094.8 L402.7,1094.4 L402.8,1094.0 L402.9,1093.6 L403.0,1093.2 L403.1,1092.8 L403.2,1092.4 L403.3,1092.1 L403.4,1091.7 L403.5,1091.3 L403.6,1090.9 L403.7,1090.5 L403.8,1090.1 L403.9,1089.7 L404.0,1089.3 L404.1,1088.9 L404.2,1088.5 L404.2,1088.0 L404.3,1087.6 L404.4,1087.2 L404.5,1086.8 L404.6,1086.4 L404.6,1086.0 L404.7,1085.6 L404.8,1085.2 L404.8,1084.8 L404.9,1084.3 L405.0,1083.9 L405.0,1083.5 L405.1,1083.1 L405.1,1082.7 L405.2,1082.3 L405.3,1081.9 L405.3,1081.4 L405.4,1081.0 L405.4,1080.6 L405.4,1080.2 L405.5,1079.8 L405.5,1079.3 L405.6,1078.9 L405.6,1078.5 L405.7,1078.1 L405.7,1077.6 L405.7,1077.2 L405.8,1076.8 L405.8,1076.3 L405.8,1075.9 L405.9,1075.5 L405.9,1075.0 L405.9,1074.6 L406.0,1074.1 L406.0,1073.7 L406.0,1073.3 L406.0,1072.8 L406.1,1072.4 L406.1,1071.9 L406.1,1071.5 L406.1,1071.0 L406.1,1070.6 L406.1,1070.1 L406.2,1069.7 L406.2,1069.2 L406.2,1068.7 L406.2,1068.3 L406.2,1067.8 L406.2,1067.4 L406.2,1066.9 L406.2,1066.4 L406.2,1066.0 L406.2,1065.5 L406.2,1065.1 L406.2,1064.6 L406.1,1064.1 L406.1,1063.7 L406.1,1063.2 L406.1,1062.7 L406.1,1062.3 L406.0,1061.8 L406.0,1061.3 L406.0,1060.8 L406.0,1060.4 L405.9,1059.9 L405.9,1059.4 L405.9,1059.0 L405.8,1058.5 L405.8,1058.0 L405.7,1057.5 L405.7,1057.1 L405.6,1056.6 L405.6,1056.1 L405.5,1055.6 L405.4,1055.2 L405.4,1054.7 L405.3,1054.2 L405.2,1053.7 L405.2,1053.3 L405.1,1052.8 L405.0,1052.3 L404.9,1051.8 L404.8,1051.3 L404.7,1050.8 L404.7,1050.4 L404.6,1049.9 L404.5,1049.4 L404.4,1048.9 L404.3,1048.4 L404.1,1047.9 L404.0,1047.4 L403.9,1046.9 L403.8,1046.4 L403.7,1045.9 L403.6,1045.4 L403.5,1044.9 L403.3,1044.4 L403.2,1043.9 L403.1,1043.4 L402.9,1042.9 L402.8,1042.4 L402.7,1041.9 L402.5,1041.4 L402.4,1040.9 L402.3,1040.4 L402.1,1039.9 L402.0,1039.4 L401.8,1038.9 L401.7,1038.4 L401.6,1038.0 L401.4,1037.5 L401.3,1037.0 L401.1,1036.5 L401.0,1036.0 L400.8,1035.5 L400.7,1035.0 L400.5,1034.5 L400.3,1034.0 L400.2,1033.5 L400.0,1033.0 L399.9,1032.5 L399.7,1032.0 L399.6,1031.5 L399.4,1031.1 L399.2,1030.6 L399.1,1030.1 L398.9,1029.6 L398.8,1029.1 L398.6,1028.6 L398.4,1028.2 L398.3,1027.7 L398.1,1027.2 L398.0,1026.7 L397.8,1026.3 L397.6,1025.8 L397.5,1025.3 L397.3,1024.9 L397.1,1024.4 L397.0,1023.9 L396.8,1023.5 L396.6,1023.0 L396.5,1022.5 L396.3,1022.0 L396.1,1021.6 L396.0,1021.1 L395.8,1020.6 L395.6,1020.2 L395.4,1019.7 L395.3,1019.2 L395.1,1018.7 L394.9,1018.3 L394.7,1017.8 L394.5,1017.3 L394.4,1016.8 L394.2,1016.4 L394.0,1015.9 L393.8,1015.4 L393.6,1015.0 L393.4,1014.5 L393.2,1014.0 L393.0,1013.6 L392.8,1013.1 L392.7,1012.6 L392.5,1012.2 L392.3,1011.7 L392.1,1011.3 L391.9,1010.8 L391.7,1010.3 L391.5,1009.9 L391.3,1009.4 L391.1,1009.0 L390.9,1008.5 L390.7,1008.1 L390.5,1007.6 L390.3,1007.2 L390.1,1006.7 L389.9,1006.3 L389.7,1005.9 L389.5,1005.4 L389.3,1005.0 L389.1,1004.6 L388.9,1004.1 L388.7,1003.7 L388.5,1003.3 L388.3,1002.9 L388.1,1002.5 L387.9,1002.0 L387.7,1001.6 L387.5,1001.2 L387.3,1000.8 L387.1,1000.4 L386.9,1000.0 L386.7,999.6 L386.5,999.2 L386.3,998.8 L386.1,998.4 L385.9,998.1 L385.7,997.7 L385.5,997.3 L385.2,996.9 L385.0,996.5 L384.8,996.1 L384.6,995.7 L384.3,995.3 L384.1,995.0 L383.9,994.6 L383.6,994.2 L383.4,993.8 L383.2,993.4 L382.9,993.0 L382.7,992.7 L382.4,992.3 L382.2,991.9 L382.0,991.5 L381.7,991.2 L381.5,990.8 L381.2,990.4 L381.0,990.1 L380.7,989.7 L380.5,989.3 L380.2,989.0 L380.0,988.6 L379.7,988.3 L379.5,987.9 L379.3,987.6 L379.0,987.2 L378.8,986.9 L378.5,986.6 L378.3,986.2 L378.1,985.9 L377.8,985.6 L377.6,985.3 L377.4,985.0 L377.2,984.7 L377.0,984.4 L376.7,984.1 L376.5,983.8 L376.3,983.5 L376.1,983.2 L375.9,982.9 L375.7,982.7 L375.5,982.4 L375.3,982.2 L375.2,981.9 L375.0,981.7 L374.8,981.4 L374.7,981.2 L374.5,981.0 L374.3,980.8 L374.2,980.6 L374.1,980.4 L373.9,980.2 L373.8,980.0 L373.7,979.8 L373.6,979.7 L373.5,979.5Z" fill="#120b09"/><path d="M392,1118.2 L388,1098.2 L385.4,1098.6 L389,1118.8Z" fill="#120b09"/><circle cx="386.7" cy="1098.4" r="1.275" fill="#120b09"/><path d="M391.3,1119.8 L408.9,1108.1 L407.9,1106.5 L389.7,1117.2Z" fill="#120b09"/><circle cx="408.4" cy="1107.3" r="0.8999999999999999" fill="#120b09"/><circle cx="390.5" cy="1118.5" r="1.6500000000000001" fill="#120b09"/><path d="M452.3,1267.0 L452.0,1267.1 L451.8,1267.2 L451.5,1267.3 L451.2,1267.4 L450.9,1267.5 L450.6,1267.6 L450.2,1267.8 L449.9,1267.9 L449.6,1268.0 L449.2,1268.2 L448.9,1268.3 L448.5,1268.5 L448.1,1268.6 L447.7,1268.8 L447.3,1268.9 L446.9,1269.1 L446.5,1269.3 L446.1,1269.4 L445.6,1269.6 L445.2,1269.8 L444.7,1270.0 L444.3,1270.1 L443.8,1270.3 L443.4,1270.5 L442.9,1270.7 L442.4,1270.9 L441.9,1271.1 L441.4,1271.3 L440.9,1271.5 L440.4,1271.6 L439.9,1271.8 L439.4,1272.0 L438.9,1272.2 L438.4,1272.4 L437.9,1272.6 L437.4,1272.8 L436.8,1273.0 L436.3,1273.1 L435.8,1273.3 L435.3,1273.5 L434.7,1273.7 L434.2,1273.8 L433.7,1274.0 L433.1,1274.2 L432.6,1274.3 L432.1,1274.5 L431.5,1274.7 L431.0,1274.8 L430.5,1274.9 L430.0,1275.1 L429.4,1275.2 L428.9,1275.4 L428.4,1275.5 L427.9,1275.6 L427.4,1275.7 L426.9,1275.8 L426.4,1275.9 L425.9,1276.0 L425.4,1276.1 L424.9,1276.2 L424.4,1276.2 L423.9,1276.3 L423.4,1276.4 L422.9,1276.5 L422.3,1276.5 L421.8,1276.6 L421.3,1276.7 L420.8,1276.7 L420.2,1276.8 L419.7,1276.9 L419.1,1276.9 L418.6,1277.0 L418.0,1277.0 L417.5,1277.1 L416.9,1277.1 L416.4,1277.2 L415.8,1277.2 L415.2,1277.2 L414.7,1277.3 L414.1,1277.3 L413.5,1277.4 L413.0,1277.4 L412.4,1277.4 L411.8,1277.4 L411.2,1277.5 L410.7,1277.5 L410.1,1277.5 L409.5,1277.5 L408.9,1277.5 L408.4,1277.5 L407.8,1277.6 L407.2,1277.6 L406.6,1277.6 L406.1,1277.6 L405.5,1277.6 L404.9,1277.6 L404.4,1277.5 L403.8,1277.5 L403.2,1277.5 L402.7,1277.5 L402.1,1277.5 L401.5,1277.4 L401.0,1277.4 L400.4,1277.4 L399.9,1277.4 L399.3,1277.3 L398.8,1277.3 L398.2,1277.2 L397.7,1277.2 L397.2,1277.1 L396.6,1277.1 L396.1,1277.0 L395.6,1277.0 L395.0,1276.9 L394.5,1276.8 L394.0,1276.8 L393.5,1276.7 L393.0,1276.6 L392.5,1276.5 L392.0,1276.4 L391.5,1276.4 L391.1,1276.3 L390.6,1276.2 L390.1,1276.1 L389.6,1276.0 L389.1,1275.9 L388.7,1275.8 L388.2,1275.6 L387.7,1275.5 L387.3,1275.4 L386.8,1275.3 L386.3,1275.2 L385.9,1275.1 L385.4,1274.9 L385.0,1274.8 L384.5,1274.7 L384.1,1274.5 L383.6,1274.4 L383.2,1274.2 L382.7,1274.1 L382.3,1273.9 L381.9,1273.8 L381.4,1273.6 L381.0,1273.5 L380.6,1273.3 L380.1,1273.1 L379.7,1273.0 L379.3,1272.8 L378.8,1272.6 L378.4,1272.5 L378.0,1272.3 L377.5,1272.1 L377.1,1271.9 L376.7,1271.7 L376.3,1271.5 L375.9,1271.3 L375.4,1271.1 L375.0,1270.9 L374.6,1270.7 L374.2,1270.5 L373.7,1270.3 L373.3,1270.1 L372.9,1269.9 L372.5,1269.6 L372.1,1269.4 L371.6,1269.2 L371.2,1269.0 L370.8,1268.7 L370.4,1268.5 L370.0,1268.3 L369.6,1268.0 L369.1,1267.8 L368.7,1267.5 L368.3,1267.3 L367.9,1267.0 L367.4,1266.7 L367.0,1266.5 L366.6,1266.2 L366.2,1266.0 L365.8,1265.7 L365.3,1265.4 L364.9,1265.1 L364.5,1264.9 L364.1,1264.6 L363.6,1264.3 L363.2,1264.0 L362.8,1263.7 L362.4,1263.4 L361.9,1263.1 L361.5,1262.8 L361.1,1262.4 L360.7,1262.1 L360.2,1261.8 L359.8,1261.5 L359.4,1261.1 L359.0,1260.8 L358.5,1260.4 L358.1,1260.1 L357.7,1259.8 L357.2,1259.4 L356.8,1259.1 L356.4,1258.7 L356.0,1258.3 L355.6,1258.0 L355.1,1257.6 L354.7,1257.2 L354.3,1256.9 L353.9,1256.5 L353.4,1256.1 L353.0,1255.8 L352.6,1255.4 L352.2,1255.0 L351.8,1254.6 L351.4,1254.2 L351.0,1253.8 L350.5,1253.4 L350.1,1253.1 L349.7,1252.7 L349.3,1252.3 L348.9,1251.9 L348.5,1251.5 L348.1,1251.1 L347.7,1250.7 L347.3,1250.3 L346.9,1249.9 L346.5,1249.5 L346.2,1249.1 L345.8,1248.7 L345.4,1248.3 L345.0,1247.9 L344.6,1247.5 L344.2,1247.1 L343.9,1246.6 L343.5,1246.2 L343.1,1245.8 L342.8,1245.4 L342.4,1245.0 L342.0,1244.6 L341.7,1244.2 L341.3,1243.8 L341.0,1243.4 L340.6,1243.0 L340.3,1242.6 L339.9,1242.2 L339.6,1241.8 L339.2,1241.4 L338.9,1241.0 L338.6,1240.5 L338.2,1240.1 L337.9,1239.7 L337.5,1239.3 L337.2,1238.9 L336.9,1238.4 L336.6,1238.0 L336.2,1237.6 L335.9,1237.2 L335.6,1236.7 L335.3,1236.3 L334.9,1235.9 L334.6,1235.4 L334.3,1235.0 L334.0,1234.6 L333.7,1234.1 L333.4,1233.7 L333.1,1233.3 L332.8,1232.8 L332.4,1232.4 L332.1,1231.9 L331.8,1231.5 L331.5,1231.0 L331.2,1230.6 L331.0,1230.1 L330.7,1229.7 L330.4,1229.2 L330.1,1228.8 L329.8,1228.3 L329.5,1227.9 L329.2,1227.4 L328.9,1227.0 L328.7,1226.5 L328.4,1226.1 L328.1,1225.6 L327.8,1225.2 L327.5,1224.7 L327.3,1224.3 L327.0,1223.8 L326.7,1223.3 L326.5,1222.9 L326.2,1222.4 L325.9,1222.0 L325.7,1221.5 L325.4,1221.1 L325.2,1220.6 L324.9,1220.1 L324.7,1219.7 L324.4,1219.2 L324.2,1218.8 L323.9,1218.3 L323.7,1217.8 L323.4,1217.4 L323.2,1216.9 L322.9,1216.4 L322.7,1216.0 L322.5,1215.5 L322.2,1215.0 L322.0,1214.5 L321.8,1214.1 L321.6,1213.6 L321.3,1213.1 L321.1,1212.6 L320.9,1212.1 L320.7,1211.6 L320.5,1211.1 L320.2,1210.5 L320.0,1210.0 L319.8,1209.5 L319.6,1209.0 L319.4,1208.5 L319.2,1208.0 L319.0,1207.5 L318.8,1206.9 L318.6,1206.4 L318.4,1205.9 L318.2,1205.4 L318.0,1204.8 L317.8,1204.3 L317.6,1203.8 L317.4,1203.3 L317.2,1202.8 L317.1,1202.2 L316.9,1201.7 L316.7,1201.2 L316.5,1200.7 L316.3,1200.2 L316.2,1199.7 L316.0,1199.2 L315.8,1198.7 L315.6,1198.2 L315.5,1197.7 L315.3,1197.2 L315.1,1196.7 L315.0,1196.2 L314.8,1195.7 L314.6,1195.3 L314.5,1194.8 L314.3,1194.3 L314.2,1193.9 L314.0,1193.4 L313.8,1193.0 L313.7,1192.5 L313.5,1192.1 L313.4,1191.7 L313.2,1191.2 L313.1,1190.8 L312.9,1190.4 L312.8,1190.0 L312.6,1189.6 L312.5,1189.2 L312.4,1188.8 L312.2,1188.5 L312.1,1188.1 L311.9,1187.7 L311.8,1187.4 L311.7,1187.0 L311.5,1186.7 L311.4,1186.3 L311.3,1186.0 L311.2,1185.7 L311.0,1185.3 L310.9,1185.0 L310.8,1184.7 L310.7,1184.4 L310.6,1184.0 L310.5,1183.7 L310.3,1183.4 L310.2,1183.1 L310.1,1182.8 L310.0,1182.5 L309.9,1182.2 L309.8,1181.9 L309.7,1181.7 L309.6,1181.4 L309.5,1181.1 L309.4,1180.8 L309.3,1180.6 L309.2,1180.3 L309.1,1180.0 L309.0,1179.8 L308.9,1179.5 L308.8,1179.3 L308.7,1179.0 L308.7,1178.8 L308.6,1178.5 L308.5,1178.3 L308.4,1178.1 L308.3,1177.9 L308.3,1177.6 L308.2,1177.4 L308.1,1177.2 L308.0,1177.0 L308.0,1176.8 L307.9,1176.6 L307.8,1176.4 L307.7,1176.2 L307.7,1176.0 L307.6,1175.8 L307.5,1175.7 L307.5,1175.5 L307.4,1175.3 L307.4,1175.1 L307.3,1175.0 L307.3,1174.8 L307.2,1174.7 L307.1,1174.5 L307.1,1174.4 L307.0,1174.2 L307.0,1174.1 L306.9,1174.0 L306.9,1173.8 L306.8,1173.7 L305.2,1174.3 L305.2,1174.4 L305.2,1174.6 L305.3,1174.7 L305.3,1174.8 L305.4,1175.0 L305.4,1175.1 L305.5,1175.3 L305.5,1175.4 L305.6,1175.6 L305.7,1175.7 L305.7,1175.9 L305.8,1176.1 L305.8,1176.3 L305.9,1176.4 L306.0,1176.6 L306.0,1176.8 L306.1,1177.0 L306.2,1177.2 L306.2,1177.4 L306.3,1177.6 L306.4,1177.8 L306.4,1178.0 L306.5,1178.3 L306.6,1178.5 L306.7,1178.7 L306.7,1178.9 L306.8,1179.2 L306.9,1179.4 L307.0,1179.6 L307.1,1179.9 L307.2,1180.1 L307.3,1180.4 L307.3,1180.7 L307.4,1180.9 L307.5,1181.2 L307.6,1181.5 L307.7,1181.7 L307.8,1182.0 L307.9,1182.3 L308.0,1182.6 L308.1,1182.9 L308.2,1183.2 L308.3,1183.5 L308.4,1183.8 L308.5,1184.1 L308.7,1184.4 L308.8,1184.7 L308.9,1185.0 L309.0,1185.3 L309.1,1185.7 L309.2,1186.0 L309.4,1186.3 L309.5,1186.7 L309.6,1187.0 L309.7,1187.4 L309.9,1187.7 L310.0,1188.1 L310.1,1188.4 L310.2,1188.8 L310.4,1189.1 L310.5,1189.5 L310.7,1189.9 L310.8,1190.3 L310.9,1190.7 L311.1,1191.1 L311.2,1191.5 L311.4,1191.9 L311.5,1192.3 L311.6,1192.7 L311.8,1193.2 L311.9,1193.6 L312.1,1194.1 L312.2,1194.5 L312.4,1195.0 L312.5,1195.4 L312.7,1195.9 L312.9,1196.4 L313.0,1196.9 L313.2,1197.4 L313.3,1197.9 L313.5,1198.3 L313.7,1198.8 L313.8,1199.4 L314.0,1199.9 L314.2,1200.4 L314.4,1200.9 L314.5,1201.4 L314.7,1201.9 L314.9,1202.4 L315.1,1203.0 L315.2,1203.5 L315.4,1204.0 L315.6,1204.5 L315.8,1205.1 L316.0,1205.6 L316.2,1206.1 L316.4,1206.6 L316.6,1207.2 L316.8,1207.7 L317.0,1208.2 L317.2,1208.8 L317.4,1209.3 L317.6,1209.8 L317.8,1210.3 L318.0,1210.9 L318.2,1211.4 L318.4,1211.9 L318.6,1212.4 L318.8,1212.9 L319.1,1213.5 L319.3,1214.0 L319.5,1214.5 L319.7,1215.0 L320.0,1215.5 L320.2,1216.0 L320.4,1216.5 L320.7,1217.0 L320.9,1217.5 L321.1,1218.0 L321.4,1218.4 L321.6,1218.9 L321.9,1219.4 L322.1,1219.8 L322.4,1220.3 L322.6,1220.8 L322.9,1221.3 L323.1,1221.7 L323.4,1222.2 L323.6,1222.7 L323.9,1223.1 L324.1,1223.6 L324.4,1224.1 L324.7,1224.5 L324.9,1225.0 L325.2,1225.5 L325.5,1225.9 L325.8,1226.4 L326.0,1226.9 L326.3,1227.3 L326.6,1227.8 L326.9,1228.3 L327.1,1228.7 L327.4,1229.2 L327.7,1229.7 L328.0,1230.1 L328.3,1230.6 L328.6,1231.0 L328.9,1231.5 L329.2,1232.0 L329.5,1232.4 L329.8,1232.9 L330.1,1233.3 L330.4,1233.8 L330.7,1234.2 L331.0,1234.7 L331.3,1235.1 L331.6,1235.6 L331.9,1236.0 L332.2,1236.5 L332.5,1236.9 L332.9,1237.4 L333.2,1237.8 L333.5,1238.3 L333.8,1238.7 L334.2,1239.1 L334.5,1239.6 L334.8,1240.0 L335.1,1240.5 L335.5,1240.9 L335.8,1241.3 L336.2,1241.8 L336.5,1242.2 L336.8,1242.6 L337.2,1243.1 L337.5,1243.5 L337.9,1243.9 L338.2,1244.3 L338.6,1244.7 L338.9,1245.2 L339.3,1245.6 L339.6,1246.0 L340.0,1246.4 L340.4,1246.8 L340.7,1247.2 L341.1,1247.7 L341.5,1248.1 L341.8,1248.5 L342.2,1248.9 L342.6,1249.3 L343.0,1249.7 L343.4,1250.2 L343.7,1250.6 L344.1,1251.0 L344.5,1251.4 L344.9,1251.8 L345.3,1252.2 L345.7,1252.7 L346.1,1253.1 L346.5,1253.5 L346.9,1253.9 L347.3,1254.3 L347.7,1254.7 L348.1,1255.1 L348.6,1255.5 L349.0,1255.9 L349.4,1256.3 L349.8,1256.7 L350.2,1257.1 L350.6,1257.5 L351.1,1257.9 L351.5,1258.3 L351.9,1258.7 L352.3,1259.1 L352.8,1259.5 L353.2,1259.8 L353.6,1260.2 L354.0,1260.6 L354.5,1261.0 L354.9,1261.3 L355.3,1261.7 L355.8,1262.1 L356.2,1262.4 L356.6,1262.8 L357.1,1263.1 L357.5,1263.5 L357.9,1263.8 L358.4,1264.2 L358.8,1264.5 L359.2,1264.9 L359.7,1265.2 L360.1,1265.5 L360.5,1265.9 L361.0,1266.2 L361.4,1266.5 L361.9,1266.8 L362.3,1267.1 L362.7,1267.4 L363.2,1267.7 L363.6,1268.0 L364.0,1268.3 L364.5,1268.6 L364.9,1268.9 L365.3,1269.2 L365.8,1269.4 L366.2,1269.7 L366.6,1270.0 L367.1,1270.2 L367.5,1270.5 L367.9,1270.8 L368.4,1271.0 L368.8,1271.3 L369.2,1271.5 L369.6,1271.8 L370.1,1272.0 L370.5,1272.3 L370.9,1272.5 L371.4,1272.7 L371.8,1273.0 L372.2,1273.2 L372.7,1273.4 L373.1,1273.7 L373.6,1273.9 L374.0,1274.1 L374.4,1274.3 L374.9,1274.5 L375.3,1274.7 L375.8,1274.9 L376.2,1275.1 L376.6,1275.3 L377.1,1275.5 L377.5,1275.7 L378.0,1275.9 L378.4,1276.1 L378.9,1276.3 L379.3,1276.5 L379.8,1276.6 L380.2,1276.8 L380.7,1277.0 L381.2,1277.2 L381.6,1277.3 L382.1,1277.5 L382.6,1277.6 L383.0,1277.8 L383.5,1278.0 L384.0,1278.1 L384.5,1278.2 L384.9,1278.4 L385.4,1278.5 L385.9,1278.7 L386.4,1278.8 L386.9,1278.9 L387.4,1279.1 L387.8,1279.2 L388.3,1279.3 L388.8,1279.4 L389.3,1279.5 L389.8,1279.6 L390.4,1279.7 L390.9,1279.9 L391.4,1280.0 L391.9,1280.1 L392.4,1280.1 L392.9,1280.2 L393.5,1280.3 L394.0,1280.4 L394.6,1280.5 L395.1,1280.6 L395.7,1280.6 L396.2,1280.7 L396.8,1280.8 L397.3,1280.8 L397.9,1280.9 L398.5,1280.9 L399.0,1281.0 L399.6,1281.0 L400.2,1281.1 L400.8,1281.1 L401.3,1281.2 L401.9,1281.2 L402.5,1281.2 L403.1,1281.3 L403.7,1281.3 L404.3,1281.3 L404.8,1281.3 L405.4,1281.3 L406.0,1281.4 L406.6,1281.4 L407.2,1281.4 L407.8,1281.4 L408.4,1281.4 L409.0,1281.4 L409.6,1281.4 L410.2,1281.4 L410.8,1281.4 L411.4,1281.3 L412.0,1281.3 L412.5,1281.3 L413.1,1281.3 L413.7,1281.3 L414.3,1281.2 L414.9,1281.2 L415.5,1281.2 L416.1,1281.1 L416.6,1281.1 L417.2,1281.1 L417.8,1281.0 L418.4,1281.0 L418.9,1280.9 L419.5,1280.9 L420.1,1280.8 L420.6,1280.8 L421.2,1280.7 L421.7,1280.7 L422.3,1280.6 L422.8,1280.6 L423.4,1280.5 L423.9,1280.4 L424.4,1280.4 L425.0,1280.3 L425.5,1280.2 L426.0,1280.2 L426.6,1280.1 L427.1,1280.0 L427.7,1279.9 L428.2,1279.8 L428.8,1279.7 L429.3,1279.5 L429.9,1279.4 L430.4,1279.3 L431.0,1279.1 L431.6,1279.0 L432.1,1278.9 L432.7,1278.7 L433.2,1278.6 L433.8,1278.4 L434.4,1278.2 L434.9,1278.1 L435.5,1277.9 L436.0,1277.7 L436.6,1277.6 L437.1,1277.4 L437.7,1277.2 L438.2,1277.0 L438.8,1276.9 L439.3,1276.7 L439.8,1276.5 L440.4,1276.3 L440.9,1276.1 L441.4,1275.9 L442.0,1275.8 L442.5,1275.6 L443.0,1275.4 L443.5,1275.2 L444.0,1275.0 L444.5,1274.8 L445.0,1274.7 L445.4,1274.5 L445.9,1274.3 L446.4,1274.1 L446.8,1273.9 L447.3,1273.8 L447.7,1273.6 L448.1,1273.4 L448.6,1273.3 L449.0,1273.1 L449.4,1273.0 L449.8,1272.8 L450.1,1272.7 L450.5,1272.5 L450.9,1272.4 L451.2,1272.3 L451.5,1272.1 L451.9,1272.0 L452.2,1271.9 L452.5,1271.8 L452.7,1271.7 L453.0,1271.6 L453.3,1271.5 L453.5,1271.5 L453.7,1271.4Z" fill="#120b09"/><circle cx="453" cy="1269.2" r="2.3" fill="#120b09"/><path d="M304.2,1172.6 L290,1206.2 L292.4,1207.2 L307.2,1173.8Z" fill="#120b09"/><circle cx="291.2" cy="1206.7" r="1.36" fill="#120b09"/><path d="M304.3,1174.2 L325,1201.7 L326.6,1200.5 L307.1,1172.2Z" fill="#120b09"/><circle cx="325.8" cy="1201.1" r="0.96" fill="#120b09"/><circle cx="305.7" cy="1173.2" r="1.7600000000000002" fill="#120b09"/>
</svg>
</body></html>
